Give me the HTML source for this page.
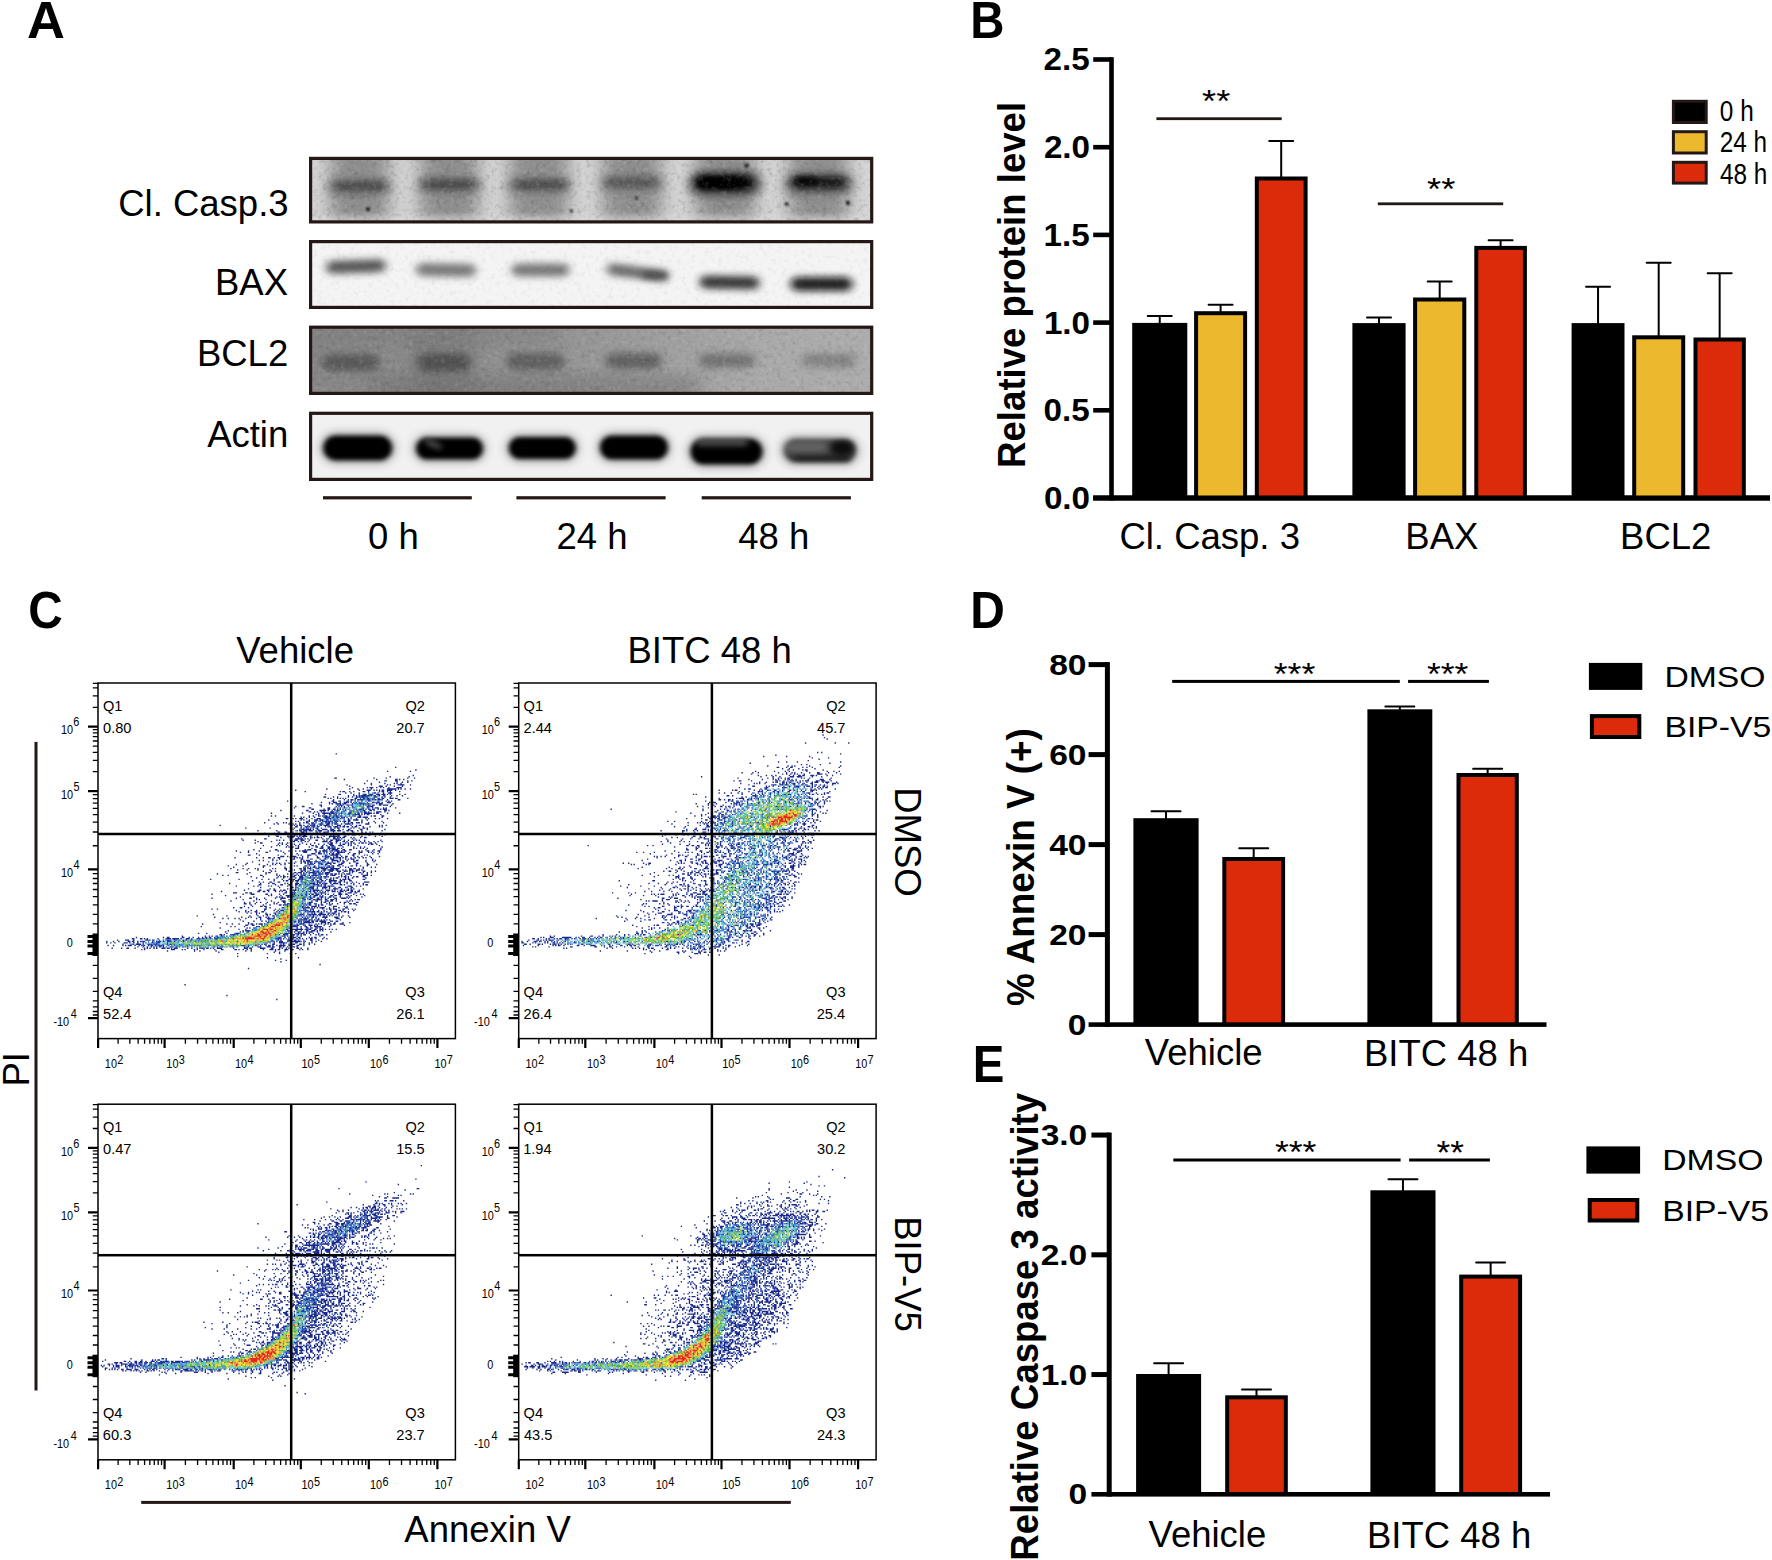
<!DOCTYPE html>
<html lang="en"><head><meta charset="utf-8"><title>Figure</title>
<style>
html,body{margin:0;padding:0;background:#fff}
svg{display:block}
text{font-family:"Liberation Sans",Arial,Helvetica,sans-serif;white-space:pre}
</style></head><body>
<svg width="1772" height="1560" viewBox="0 0 1772 1560">
<defs>
<filter id="bl3" x="-30%" y="-80%" width="160%" height="260%"><feGaussianBlur stdDeviation="3.2 2.6"/></filter>
<filter id="bl4" x="-30%" y="-80%" width="160%" height="260%"><feGaussianBlur stdDeviation="4.5 3.5"/></filter>
<filter id="bl2" x="-30%" y="-80%" width="160%" height="260%"><feGaussianBlur stdDeviation="2.6 2.2"/></filter>
<filter id="bl1" x="-50%" y="-50%" width="200%" height="200%"><feGaussianBlur stdDeviation="0.9"/></filter>
<filter id="bl8" x="-30%" y="-30%" width="160%" height="160%"><feGaussianBlur stdDeviation="9 6"/></filter>
<filter id="grain" x="0" y="0" width="100%" height="100%"><feTurbulence type="fractalNoise" baseFrequency="0.35" numOctaves="2" seed="7" result="n"/><feColorMatrix in="n" type="matrix" values="0 0 0 0 0  0 0 0 0 0  0 0 0 0 0  0.9 0.9 0 0 -0.62"/></filter>
<clipPath id="cb0"><rect x="310.5" y="158.3" width="561.3" height="63.7"/></clipPath>
<clipPath id="cb1"><rect x="310.5" y="241.5" width="561.3" height="66"/></clipPath>
<clipPath id="cb2"><rect x="310.5" y="327.1" width="561.3" height="66.4"/></clipPath>
<clipPath id="cb3"><rect x="310.5" y="413.2" width="561.3" height="66.3"/></clipPath>
<filter id="grainD" x="0" y="0" width="100%" height="100%"><feTurbulence type="fractalNoise" baseFrequency="0.22" numOctaves="3" seed="7" result="n"/><feColorMatrix in="n" type="matrix" values="0 0 0 0 0  0 0 0 0 0  0 0 0 0 0  2.2 0 0 0 -1.1"/></filter>
<filter id="grainL" x="0" y="0" width="100%" height="100%"><feTurbulence type="fractalNoise" baseFrequency="0.22" numOctaves="3" seed="23" result="n"/><feColorMatrix in="n" type="matrix" values="0 0 0 0 1  0 0 0 0 1  0 0 0 0 1  2.2 0 0 0 -1.1"/></filter>
<linearGradient id="g3" x1="0" x2="1" y1="0" y2="0"><stop offset="0" stop-color="#868686"/><stop offset="0.45" stop-color="#949494"/><stop offset="0.8" stop-color="#a9a9a9"/><stop offset="1" stop-color="#adadad"/></linearGradient>
</defs>
<rect width="1772" height="1560" fill="#fff"/>
<text transform="translate(27.09 37.9) scale(1.011 1)" font-size="51.89" font-weight="bold" fill="#000">A</text>
<text transform="translate(970.33 37.7) scale(0.921 1)" font-size="51.45" font-weight="bold" fill="#000">B</text>
<text transform="translate(28.14 628.1) scale(0.936 1)" font-size="50.99" font-weight="bold" fill="#000">C</text>
<text transform="translate(970.29 628.4) scale(0.932 1)" font-size="51.45" font-weight="bold" fill="#000">D</text>
<text transform="translate(972.63 1082.2) scale(0.927 1)" font-size="51.16" font-weight="bold" fill="#000">E</text>
<text x="118.21" y="216.2" font-size="36.5" fill="#000">Cl. Casp.3</text>
<text transform="translate(215.03 294.6) scale(1.000 1.035)" font-size="36.5" fill="#000">BAX</text>
<text transform="translate(196.93 365.8) scale(1.000 1.035)" font-size="36.5" fill="#000">BCL2</text>
<text x="207.13" y="446.7" font-size="36.5" fill="#000">Actin</text>
<text transform="translate(368.1 548.9) scale(1.000 1.035)" font-size="36.5" fill="#000">0 h</text>
<text transform="translate(556.45 548.9) scale(1.000 1.035)" font-size="36.5" fill="#000">24 h</text>
<text transform="translate(738.25 548.9) scale(1.000 1.035)" font-size="36.5" fill="#000">48 h</text>
<rect x="323" y="496.2" width="148.8" height="3.2" fill="#231815"/>
<rect x="516.4" y="496.2" width="149.2" height="3.2" fill="#231815"/>
<rect x="701.7" y="496.2" width="149.2" height="3.2" fill="#231815"/>
<g clip-path="url(#cb0)"><rect x="309" y="156.8" width="564.3" height="66.7" fill="#d4d4d4"/><rect x="330.4" y="146.8" width="58" height="80.7" fill="#858585" opacity="0.88" filter="url(#bl8)"/><rect x="420.2" y="146.8" width="58" height="80.7" fill="#858585" opacity="0.88" filter="url(#bl8)"/><rect x="509.9" y="146.8" width="58" height="80.7" fill="#858585" opacity="0.88" filter="url(#bl8)"/><rect x="603" y="146.8" width="58" height="80.7" fill="#858585" opacity="0.88" filter="url(#bl8)"/><rect x="696.2" y="146.8" width="58" height="80.7" fill="#858585" opacity="0.88" filter="url(#bl8)"/><rect x="789.3" y="146.8" width="58" height="80.7" fill="#858585" opacity="0.88" filter="url(#bl8)"/><rect x="309" y="216.5" width="564.3" height="7" fill="#dcdcdc" opacity="0.8" filter="url(#bl4)"/><rect x="687" y="170" width="76" height="28" rx="14" fill="#4a4a4a" opacity="0.6" filter="url(#bl4)"/><rect x="783" y="172" width="72" height="24" rx="12" fill="#5a5a5a" opacity="0.5" filter="url(#bl4)"/><rect x="326.4" y="177" width="66" height="20" rx="10" fill="#777" opacity="0.45" filter="url(#bl4)"/><rect x="416.2" y="175.5" width="66" height="20" rx="10" fill="#777" opacity="0.45" filter="url(#bl4)"/><rect x="505.9" y="175.5" width="66" height="20" rx="10" fill="#777" opacity="0.45" filter="url(#bl4)"/><rect x="599" y="173.5" width="66" height="20" rx="10" fill="#777" opacity="0.45" filter="url(#bl4)"/><rect x="332.4" y="181.3" width="54" height="10" rx="5" fill="#3c3c3c" opacity="0.85" filter="url(#bl4)"/><rect x="422.2" y="179.5" width="54" height="10" rx="5" fill="#3a3a3a" opacity="0.85" filter="url(#bl4)"/><rect x="513" y="180.2" width="54" height="9" rx="4.5" fill="#3a3a3a" opacity="0.85" filter="url(#bl4)"/><rect x="604.6" y="178" width="54" height="9" rx="4.5" fill="#444" opacity="0.8" filter="url(#bl4)"/><rect x="694.5" y="175.3" width="60" height="15" rx="7.5" fill="#000" opacity="1" filter="url(#bl4)"/><rect x="791" y="176.5" width="56" height="12" rx="6" fill="#0c0c0c" opacity="0.95" filter="url(#bl4)"/><rect x="698" y="176.8" width="44" height="12" rx="6" fill="#000" opacity="1" filter="url(#bl2)"/><rect x="795" y="177" width="22" height="8" rx="4" fill="#000" opacity="0.8" filter="url(#bl3)"/><circle cx="368" cy="209" r="2.1" fill="#151515" filter="url(#bl1)"/><circle cx="571.5" cy="211" r="1.6" fill="#151515" filter="url(#bl1)"/><circle cx="636.5" cy="198" r="1.5" fill="#151515" filter="url(#bl1)"/><circle cx="746.5" cy="165.5" r="2.2" fill="#151515" filter="url(#bl1)"/><circle cx="786.5" cy="203.8" r="1.9" fill="#151515" filter="url(#bl1)"/><circle cx="848" cy="202.8" r="2.2" fill="#151515" filter="url(#bl1)"/><rect x="309" y="156.8" width="564.3" height="66.7" filter="url(#grainD)" opacity="0.16"/><rect x="309" y="156.8" width="564.3" height="66.7" filter="url(#grainL)" opacity="0.16"/></g>
<g clip-path="url(#cb1)"><rect x="309" y="240" width="564.3" height="69" fill="#f4f4f4"/><rect x="326" y="260" width="60" height="13" rx="6.5" fill="#333" opacity="0.8" filter="url(#bl4)" transform="rotate(-2 356 266.5)"/><rect x="416" y="263.5" width="60" height="13" rx="6.5" fill="#444" opacity="0.7" filter="url(#bl4)" transform="rotate(1 446 270)"/><rect x="511.5" y="263.5" width="58" height="13" rx="6.5" fill="#444" opacity="0.7" filter="url(#bl4)"/><rect x="606.5" y="266.5" width="62" height="12" rx="6" fill="#3c3c3c" opacity="0.75" filter="url(#bl4)" transform="rotate(7 637.5 272.5)"/><rect x="699.5" y="276" width="60" height="13" rx="6.5" fill="#1c1c1c" opacity="0.88" filter="url(#bl4)" transform="rotate(1 729.5 282.5)"/><rect x="790.5" y="277" width="62" height="14" rx="7" fill="#111" opacity="0.92" filter="url(#bl4)"/><rect x="642" y="271" width="26" height="9" rx="4.5" fill="#333" opacity="0.5" filter="url(#bl3)"/><rect x="309" y="240" width="564.3" height="69" filter="url(#grainD)" opacity="0.06"/><rect x="309" y="240" width="564.3" height="69" filter="url(#grainL)" opacity="0.06"/></g>
<g clip-path="url(#cb2)"><rect x="309" y="325.6" width="564.3" height="69.4" fill="url(#g3)"/><rect x="412" y="319.6" width="62" height="81.4" fill="#6c6c6c" opacity="0.4" filter="url(#bl8)"/><rect x="369" y="375" width="330" height="26" fill="#6e6e6e" opacity="0.45" filter="url(#bl8)"/><rect x="309" y="321.6" width="250" height="24" fill="#7a7a7a" opacity="0.4" filter="url(#bl8)"/><rect x="322" y="354" width="58" height="17" rx="8.5" fill="#4a4a4a" opacity="0.72" filter="url(#bl4)"/><rect x="417" y="353.5" width="54" height="18" rx="9" fill="#444" opacity="0.78" filter="url(#bl4)"/><rect x="506.5" y="353" width="58" height="17" rx="8.5" fill="#4e4e4e" opacity="0.72" filter="url(#bl4)"/><rect x="605.7" y="353" width="56" height="16" rx="8" fill="#4e4e4e" opacity="0.72" filter="url(#bl4)"/><rect x="699" y="353.5" width="56" height="14" rx="7" fill="#5a5a5a" opacity="0.66" filter="url(#bl4)"/><rect x="802" y="353.5" width="54" height="14" rx="7" fill="#666" opacity="0.55" filter="url(#bl4)"/><rect x="309" y="325.6" width="564.3" height="69.4" filter="url(#grainD)" opacity="0.13"/><rect x="309" y="325.6" width="564.3" height="69.4" filter="url(#grainL)" opacity="0.13"/></g>
<g clip-path="url(#cb3)"><rect x="309" y="411.7" width="564.3" height="69.3" fill="#f1f1f1"/><rect x="319.2" y="431" width="77" height="34" rx="17" fill="#666" opacity="0.4" filter="url(#bl4)"/><rect x="412" y="433" width="75" height="31" rx="15.5" fill="#666" opacity="0.4" filter="url(#bl4)"/><rect x="504.8" y="432.5" width="75" height="31" rx="15.5" fill="#666" opacity="0.4" filter="url(#bl4)"/><rect x="596" y="431" width="76" height="33" rx="16.5" fill="#666" opacity="0.4" filter="url(#bl4)"/><rect x="686.5" y="434" width="80" height="35" rx="17.5" fill="#666" opacity="0.4" filter="url(#bl4)"/><rect x="780" y="434.5" width="80" height="32" rx="16" fill="#666" opacity="0.4" filter="url(#bl4)"/><rect x="323.2" y="435.5" width="69" height="25" rx="12.5" fill="#000" opacity="1" filter="url(#bl2)"/><rect x="416" y="437.5" width="67" height="22" rx="11" fill="#000" opacity="1" filter="url(#bl2)"/><rect x="508.8" y="437" width="67" height="22" rx="11" fill="#000" opacity="1" filter="url(#bl2)"/><rect x="600" y="435.5" width="68" height="24" rx="12" fill="#000" opacity="1" filter="url(#bl2)"/><rect x="690.5" y="438.5" width="72" height="26" rx="13" fill="#000" opacity="1" filter="url(#bl2)"/><rect x="784" y="439" width="72" height="23" rx="11.5" fill="#2e2e2e" opacity="0.92" filter="url(#bl2)"/><rect x="424" y="440.5" width="18" height="7" rx="3.5" fill="#777" opacity="0.55" filter="url(#bl3)" transform="rotate(25 433 444)"/><rect x="696" y="438.5" width="52" height="8" rx="4" fill="#8a8a8a" opacity="0.5" filter="url(#bl3)"/><rect x="783" y="441" width="46" height="12" rx="6" fill="#9a9a9a" opacity="0.45" filter="url(#bl4)"/><rect x="831" y="441" width="22" height="14" rx="7" fill="#000" opacity="0.75" filter="url(#bl3)"/><rect x="794" y="456" width="56" height="6" rx="3" fill="#000" opacity="0.5" filter="url(#bl3)"/></g>
<rect x="310.6" y="158.4" width="561.1" height="63.5" fill="none" stroke="#231815" stroke-width="3.2"/>
<rect x="310.6" y="241.6" width="561.1" height="65.8" fill="none" stroke="#231815" stroke-width="3.2"/>
<rect x="310.6" y="327.2" width="561.1" height="66.2" fill="none" stroke="#231815" stroke-width="3.2"/>
<rect x="310.6" y="413.3" width="561.1" height="66.1" fill="none" stroke="#231815" stroke-width="3.2"/>
<rect x="1109.2" y="57.2" width="4.6" height="443.3" fill="#000"/>
<rect x="1093.2" y="408" width="18.3" height="4.6" fill="#000"/>
<rect x="1093.2" y="320.3" width="18.3" height="4.6" fill="#000"/>
<rect x="1093.2" y="232.6" width="18.3" height="4.6" fill="#000"/>
<rect x="1093.2" y="144.9" width="18.3" height="4.6" fill="#000"/>
<rect x="1093.2" y="57.2" width="18.3" height="4.6" fill="#000"/>
<rect x="1093.2" y="495.5" width="676.8" height="5" fill="#000"/>
<text transform="translate(1043.89 508.99) scale(1.041 1.000)" font-size="31.92" font-weight="bold" fill="#000">0.0</text><text transform="translate(1043.45 421.29) scale(1.041 1.000)" font-size="31.92" font-weight="bold" fill="#000">0.5</text><text transform="translate(1043.89 333.59) scale(1.041 1.000)" font-size="31.92" font-weight="bold" fill="#000">1.0</text><text transform="translate(1043.45 245.89) scale(1.041 1.000)" font-size="31.92" font-weight="bold" fill="#000">1.5</text><text transform="translate(1043.89 158.19) scale(1.041 1.000)" font-size="31.92" font-weight="bold" fill="#000">2.0</text><text transform="translate(1043.45 70.49) scale(1.041 1.000)" font-size="31.92" font-weight="bold" fill="#000">2.5</text>
<text transform="translate(1024.9 467.9) rotate(-90) scale(1 1.04)" font-size="36.6" font-weight="bold" fill="#000">Relative protein level</text>
<path d="M1147.75 316.1H1171.75M1159.75 316.1V323.9" stroke="#000" stroke-width="2" stroke-linecap="round" fill="none"/>
<rect x="1132.2" y="322.9" width="55.1" height="175.1" fill="#000"/>
<path d="M1208.6 304.8H1232.6M1220.6 304.8V312.2" stroke="#000" stroke-width="2" stroke-linecap="round" fill="none"/>
<rect x="1194.1" y="311.2" width="53" height="186.8" fill="#000"/><rect x="1198.1" y="315.2" width="45" height="182.8" fill="#ecb92e"/>
<path d="M1269.2 141.1H1293.2M1281.2 141.1V177.5" stroke="#000" stroke-width="2" stroke-linecap="round" fill="none"/>
<rect x="1254.8" y="176.5" width="52.8" height="321.5" fill="#000"/><rect x="1258.8" y="180.5" width="44.8" height="317.5" fill="#dc2b0a"/>
<path d="M1367 317.6H1391M1379 317.6V324.1" stroke="#000" stroke-width="2" stroke-linecap="round" fill="none"/>
<rect x="1352.4" y="323.1" width="53.2" height="174.9" fill="#000"/>
<path d="M1427.7 281.5H1451.7M1439.7 281.5V298.5" stroke="#000" stroke-width="2" stroke-linecap="round" fill="none"/>
<rect x="1413.1" y="297.5" width="53.2" height="200.5" fill="#000"/><rect x="1417.1" y="301.5" width="45.2" height="196.5" fill="#ecb92e"/>
<path d="M1488.6 240.2H1512.6M1500.6 240.2V246.9" stroke="#000" stroke-width="2" stroke-linecap="round" fill="none"/>
<rect x="1474.3" y="245.9" width="52.6" height="252.1" fill="#000"/><rect x="1478.3" y="249.9" width="44.6" height="248.1" fill="#dc2b0a"/>
<path d="M1586.05 286.8H1610.05M1598.05 286.8V324.1" stroke="#000" stroke-width="2" stroke-linecap="round" fill="none"/>
<rect x="1571.6" y="323.1" width="52.9" height="174.9" fill="#000"/>
<path d="M1646.7 262.8H1670.7M1658.7 262.8V336.3" stroke="#000" stroke-width="2" stroke-linecap="round" fill="none"/>
<rect x="1632.2" y="335.3" width="53" height="162.7" fill="#000"/><rect x="1636.2" y="339.3" width="45" height="158.7" fill="#ecb92e"/>
<path d="M1707.65 273.2H1731.65M1719.65 273.2V338.5" stroke="#000" stroke-width="2" stroke-linecap="round" fill="none"/>
<rect x="1693.5" y="337.5" width="52.3" height="160.5" fill="#000"/><rect x="1697.5" y="341.5" width="44.3" height="156.5" fill="#dc2b0a"/>
<rect x="1093.2" y="495.5" width="676.8" height="5" fill="#000"/>
<text x="1119.41" y="548.6" font-size="36.5" fill="#000">Cl. Casp. 3</text>
<text transform="translate(1405.37 549) scale(1.000 1.035)" font-size="36.5" fill="#000">BAX</text>
<text transform="translate(1620.07 549) scale(1.000 1.035)" font-size="36.5" fill="#000">BCL2</text>
<rect x="1156.4" y="117.3" width="125.3" height="2.8" fill="#231815"/>
<text transform="translate(1202.12 111.94) scale(1.124 1)" font-size="32.19" fill="#000">**</text>
<rect x="1377.8" y="202.4" width="125.4" height="2.8" fill="#231815"/>
<text transform="translate(1427.12 200.14) scale(1.124 1)" font-size="32.19" fill="#000">**</text>
<rect x="1671.9" y="99.8" width="35.8" height="24.2" fill="#231815"/>
<rect x="1674.9" y="102.8" width="29.8" height="18.2" fill="#000"/>
<rect x="1671.9" y="130.2" width="35.8" height="24.3" fill="#231815"/>
<rect x="1674.9" y="133.2" width="29.8" height="18.3" fill="#ecb92e"/>
<rect x="1671.9" y="160.8" width="35.8" height="23.8" fill="#231815"/>
<rect x="1674.9" y="163.8" width="29.8" height="17.8" fill="#dc2b0a"/>
<text transform="translate(1719.85 120.7) scale(0.844 1.000)" font-size="28.84" fill="#000">0 h</text>
<text transform="translate(1719.67 152.1) scale(0.844 1.000)" font-size="28.84" fill="#000">24 h</text>
<text transform="translate(1719.94 183.5) scale(0.844 1.000)" font-size="28.84" fill="#000">48 h</text>
<rect x="1104.9" y="662.1" width="5" height="364.8" fill="#000"/>
<rect x="1088.6" y="932.1" width="18.8" height="5" fill="#000"/>
<rect x="1088.6" y="842.1" width="18.8" height="5" fill="#000"/>
<rect x="1088.6" y="752.1" width="18.8" height="5" fill="#000"/>
<rect x="1088.6" y="662.1" width="18.8" height="5" fill="#000"/>
<text transform="translate(1067.81 1034.91) scale(1.121 1.000)" font-size="29.94" font-weight="bold" fill="#000">0</text><text transform="translate(1049.13 944.91) scale(1.121 1.000)" font-size="29.94" font-weight="bold" fill="#000">20</text><text transform="translate(1049.13 854.91) scale(1.121 1.000)" font-size="29.94" font-weight="bold" fill="#000">40</text><text transform="translate(1049.13 764.91) scale(1.121 1.000)" font-size="29.94" font-weight="bold" fill="#000">60</text><text transform="translate(1049.13 674.91) scale(1.121 1.000)" font-size="29.94" font-weight="bold" fill="#000">80</text>
<text transform="translate(1034.3 1005.9) rotate(-90) scale(1 1.06)" font-size="36.8" font-weight="bold" fill="#000">% Annexin V (+)</text>
<path d="M1151.5 811.2H1180.5M1166 811.2V819.2" stroke="#000" stroke-width="2" stroke-linecap="round" fill="none"/>
<rect x="1133.4" y="818.2" width="65.2" height="206.4" fill="#000"/>
<path d="M1239.2 848.2H1268.2M1253.7 848.2V858" stroke="#000" stroke-width="2" stroke-linecap="round" fill="none"/>
<rect x="1222.3" y="857" width="62.8" height="167.6" fill="#000"/><rect x="1226.3" y="861" width="54.8" height="163.6" fill="#dc2b0a"/>
<path d="M1385.35 706.6H1414.35M1399.85 706.6V710.3" stroke="#000" stroke-width="2" stroke-linecap="round" fill="none"/>
<rect x="1367.4" y="709.3" width="64.9" height="315.3" fill="#000"/>
<path d="M1473.15 768.7H1502.15M1487.65 768.7V774" stroke="#000" stroke-width="2" stroke-linecap="round" fill="none"/>
<rect x="1456.5" y="773" width="62.3" height="251.6" fill="#000"/><rect x="1460.5" y="777" width="54.3" height="247.6" fill="#dc2b0a"/>
<rect x="1088.6" y="1022.3" width="457.9" height="4.6" fill="#000"/>
<text x="1144.87" y="1065.4" font-size="36.5" fill="#000">Vehicle</text>
<text transform="translate(1363.93 1065.8) scale(1.000 1.035)" font-size="36.5" fill="#000">BITC 48 h</text>
<rect x="1172.2" y="679.9" width="227.6" height="3" fill="#000"/>
<rect x="1408.1" y="679.9" width="80.8" height="3" fill="#000"/>
<text transform="translate(1273.73 684.74) scale(1.105 1)" font-size="32.19" fill="#000">***</text>
<text transform="translate(1427.03 684.64) scale(1.100 1)" font-size="32.19" fill="#000">***</text>
<rect x="1588.9" y="662.9" width="53.4" height="27" fill="#000"/>
<rect x="1589.9" y="714.1" width="51.4" height="24.9" fill="#000"/><rect x="1593.9" y="718.1" width="43.4" height="16.9" fill="#dc2b0a"/>
<text transform="translate(1664.43 686.6) scale(1.126 1.000)" font-size="29.94" fill="#000">DMSO</text>
<text transform="translate(1664.43 736.5) scale(1.126 1.000)" font-size="29.94" fill="#000">BIP-V5</text>
<rect x="1106.7" y="1132.55" width="5" height="364.05" fill="#000"/>
<rect x="1091.4" y="1372.05" width="17.8" height="5" fill="#000"/>
<rect x="1091.4" y="1252.3" width="17.8" height="5" fill="#000"/>
<rect x="1091.4" y="1132.55" width="17.8" height="5" fill="#000"/>
<text transform="translate(1068.61 1504.44) scale(1.139 1.000)" font-size="29.46" font-weight="bold" fill="#000">0</text><text transform="translate(1040.63 1384.69) scale(1.139 1.000)" font-size="29.46" font-weight="bold" fill="#000">1.0</text><text transform="translate(1040.63 1264.94) scale(1.139 1.000)" font-size="29.46" font-weight="bold" fill="#000">2.0</text><text transform="translate(1040.63 1145.19) scale(1.139 1.000)" font-size="29.46" font-weight="bold" fill="#000">3.0</text>
<text transform="translate(1037.9 1560.64) rotate(-90) scale(1 1.04)" font-size="36.6" font-weight="bold" fill="#000">Relative Caspase 3 activity</text>
<path d="M1154.1 1363.2H1183.1M1168.6 1363.2V1375" stroke="#000" stroke-width="2" stroke-linecap="round" fill="none"/>
<rect x="1136.1" y="1374" width="65" height="120.3" fill="#000"/>
<path d="M1242 1389.6H1271M1256.5 1389.6V1396.3" stroke="#000" stroke-width="2" stroke-linecap="round" fill="none"/>
<rect x="1225.2" y="1395.3" width="62.6" height="99" fill="#000"/><rect x="1229.2" y="1399.3" width="54.6" height="95" fill="#dc2b0a"/>
<path d="M1388.45 1179.3H1417.45M1402.95 1179.3V1191.3" stroke="#000" stroke-width="2" stroke-linecap="round" fill="none"/>
<rect x="1370.4" y="1190.3" width="65.1" height="304" fill="#000"/>
<path d="M1476.15 1262.6H1505.15M1490.65 1262.6V1275.6" stroke="#000" stroke-width="2" stroke-linecap="round" fill="none"/>
<rect x="1459.2" y="1274.6" width="62.9" height="219.7" fill="#000"/><rect x="1463.2" y="1278.6" width="54.9" height="215.7" fill="#dc2b0a"/>
<rect x="1091.4" y="1492" width="458.6" height="4.6" fill="#000"/>
<text x="1148.57" y="1547.2" font-size="36.5" fill="#000">Vehicle</text>
<text transform="translate(1367.03 1547.5) scale(1.000 1.035)" font-size="36.5" fill="#000">BITC 48 h</text>
<rect x="1173.3" y="1158.5" width="227.3" height="3" fill="#000"/>
<rect x="1409.1" y="1158.5" width="80.8" height="3" fill="#000"/>
<text transform="translate(1274.93 1163.16) scale(1.135 1)" font-size="31.33" fill="#000">***</text>
<text transform="translate(1436.43 1163.74) scale(1.089 1)" font-size="32.47" fill="#000">**</text>
<rect x="1586.4" y="1146.4" width="53.7" height="27.2" fill="#000"/>
<rect x="1587.7" y="1198" width="51.6" height="24.5" fill="#000"/><rect x="1591.7" y="1202" width="43.6" height="16.5" fill="#dc2b0a"/>
<text transform="translate(1662.23 1169.8) scale(1.126 1.000)" font-size="29.94" fill="#000">DMSO</text>
<text transform="translate(1662.23 1220.5) scale(1.126 1.000)" font-size="29.94" fill="#000">BIP-V5</text>
<text x="236.27" y="662.5" font-size="36.5" fill="#000">Vehicle</text>
<text transform="translate(627.53 662.5) scale(1.000 1.035)" font-size="36.5" fill="#000">BITC 48 h</text>
<text x="404.35" y="1541.5" font-size="36.5" fill="#000">Annexin V</text>
<rect x="141.2" y="1500.9" width="649.6" height="3" fill="#231815"/>
<rect x="34.5" y="741.9" width="3" height="648.6" fill="#231815"/>
<text transform="translate(28.5 1086.56) rotate(-90) scale(1 1.03)" font-size="36.5" fill="#000">PI</text>
<text transform="translate(894.9 787.23) rotate(90) scale(1 1.035)" font-size="36.5" fill="#000">DMSO</text>
<text transform="translate(895.1 1216.25) rotate(90) scale(1 1.035)" font-size="36.5" fill="#000">BIP-V5</text>
<g transform="translate(98 683.67) scale(1.35)" fill="none" stroke-width="1.04"><path stroke="#18298a" d="M0 0m176 52h1m43 10h1m14 2h1m-22 1h1m16 0h1m1 3h1m-18 1h1m13 0h1m-56 1h2m27 0h1m8 0h1m15 0h1m4 0h1m-53 1h1m23 0h1m13 0h2m1 0h1m2 0h1m-28 1h1m12 0h2m6 0h2m7 0h1m2 0h1m-25 1h1m12 0h1m3 0h1m3 0h1m-33 1h1m4 0h1m9 0h1m6 0h1m1 0h1m2 0h1m-41 1h1m17 0h1m11 0h1m1 0h1m5 0h5m4 0h1m-46 1h1m21 0h3m2 0h1m5 0h1m5 0h1m-38 1h1m10 0h1m1 0h3m2 0h1m2 0h1m1 0h1m3 0h1m5 0h4m-56 1h1m16 0h1m5 0h1m3 0h1m5 0h1m11 0h7m1 0h1m1 0h1m2 0h1m3 0h1m-86 1h1m46 0h1m5 0h3m2 0h1m1 0h1m1 0h1m1 0h2m2 0h4m2 0h1m-68 1h1m25 0h1m1 0h2m3 0h1m2 0h1m6 0h2m2 0h1m7 0h1m1 0h2m2 0h1m1 0h1m6 0h1m-41 1h1m3 0h1m5 0h1m10 0h2m5 0h1m3 0h3m-50 1h1m9 0h2m9 0h1m3 0h1m3 0h2m2 0h2m3 0h3m1 0h3m1 0h1m1 0h1m6 0h1m3 0h1m-43 1h1m3 0h1m1 0h1m1 0h1m1 0h4m1 0h2m6 0h1m3 0h1m4 0h1m3 0h1m3 0h1m-59 1h2m5 0h1m2 0h1m7 0h1m2 0h1m2 0h1m1 0h4m1 0h2m4 0h1m1 0h1m3 0h1m1 0h1m3 0h1m-47 1h1m1 0h1m4 0h1m1 0h1m1 0h1m1 0h1m6 0h2m4 0h2m2 0h1m3 0h1m5 0h2m4 0h3m1 0h2m7 0h1m-56 1h1m7 0h1m2 0h1m1 0h2m1 0h1m1 0h2m9 0h1m1 0h1m1 0h2m1 0h1m3 0h1m7 0h2m-84 1h1m32 0h2m3 0h2m4 0h1m2 0h1m10 0h1m14 0h1m1 0h1m1 0h1m-53 1h1m5 0h1m2 0h3m5 0h3m2 0h1m5 0h1m1 0h1m7 0h2m5 0h1m3 0h3m-59 1h1m12 0h1m1 0h1m2 0h1m1 0h2m2 0h2m6 0h1m5 0h2m2 0h1m5 0h1m1 0h3m7 0h1m-55 1h2m13 0h2m3 0h2m1 0h1m8 0h1m6 0h2m3 0h2m1 0h4m2 0h1m-72 1h1m4 0h2m12 0h1m10 0h1m1 0h1m1 0h1m1 0h1m5 0h1m10 0h1m1 0h3m12 0h1m-72 1h1m10 0h2m12 0h2m10 0h1m3 0h1m13 0h1m2 0h1m1 0h3m3 0h1m1 0h1m6 0h1m-63 1h2m7 0h1m2 0h2m2 0h2m1 0h1m16 0h2m11 0h1m1 0h1m1 0h3m-79 1h1m18 0h2m8 0h5m1 0h1m2 0h1m9 0h1m3 0h1m8 0h2m3 0h2m1 0h1m7 0h2m1 0h1m-60 1h2m2 0h1m1 0h1m2 0h1m1 0h1m4 0h2m2 0h2m3 0h1m7 0h1m5 0h1m1 0h2m1 0h1m5 0h4m2 0h1m-85 1h1m22 0h1m7 0h1m3 0h1m2 0h5m1 0h2m1 0h1m14 0h1m6 0h6m1 0h1m1 0h2m6 0h1m8 0h1m-63 1h1m1 0h1m3 0h1m3 0h1m3 0h1m10 0h1m2 0h1m2 0h2m1 0h1m1 0h1m1 0h2m8 0h1m-82 1h1m2 0h1m13 0h1m10 0h1m2 0h1m3 0h1m2 0h1m1 0h2m2 0h1m2 0h1m1 0h1m2 0h1m9 0h1m2 0h2m7 0h1m1 0h2m4 0h2m-62 1h1m1 0h1m3 0h1m3 0h1m7 0h3m11 0h1m1 0h1m2 0h1m4 0h3m2 0h3m10 0h1m-72 1h2m3 0h1m1 0h1m2 0h3m2 0h1m3 0h1m3 0h3m4 0h1m1 0h2m12 0h1m1 0h1m3 0h1m6 0h1m1 0h1m4 0h1m2 0h1m5 0h1m-89 1h1m23 0h1m1 0h1m3 0h1m3 0h3m1 0h3m2 0h2m5 0h1m8 0h2m2 0h4m2 0h1m3 0h1m-54 1h1m1 0h1m5 0h1m1 0h1m4 0h1m2 0h1m1 0h1m1 0h2m3 0h1m3 0h1m1 0h1m2 0h2m1 0h2m8 0h1m8 0h1m5 0h1m-88 1h1m8 0h1m4 0h1m1 0h1m2 0h1m6 0h1m2 0h1m1 0h2m2 0h1m11 0h2m1 0h1m1 0h1m6 0h1m2 0h1m1 0h2m3 0h2m1 0h1m4 0h1m4 0h1m5 0h1m-82 1h1m2 0h1m7 0h1m2 0h1m1 0h1m2 0h1m6 0h1m1 0h3m3 0h3m2 0h3m1 0h1m1 0h2m3 0h1m2 0h4m1 0h1m9 0h3m-111 1h1m51 0h2m1 0h1m1 0h1m1 0h2m1 0h1m4 0h1m2 0h1m3 0h1m2 0h4m6 0h3m2 0h1m4 0h1m3 0h1m1 0h2m13 0h1m1 0h1m2 0h1m-68 1h2m2 0h1m5 0h1m1 0h1m9 0h1m1 0h1m1 0h1m2 0h3m1 0h1m1 0h2m1 0h2m2 0h1m1 0h2m4 0h1m4 0h1m6 0h1m1 0h1m-102 1h1m17 0h1m14 0h2m1 0h1m4 0h1m1 0h1m2 0h1m1 0h1m3 0h2m2 0h1m6 0h1m2 0h1m1 0h2m8 0h1m1 0h1m3 0h1m2 0h2m1 0h1m-56 1h1m4 0h1m1 0h2m1 0h4m1 0h1m2 0h1m3 0h4m2 0h3m3 0h1m2 0h1m3 0h2m7 0h2m3 0h1m12 0h1m-95 1h1m13 0h1m14 0h1m1 0h2m1 0h3m1 0h3m4 0h3m4 0h1m1 0h4m1 0h3m4 0h2m1 0h2m3 0h1m2 0h1m14 0h1m-78 1h2m3 0h2m4 0h1m5 0h3m1 0h1m7 0h1m1 0h1m2 0h4m3 0h1m6 0h2m5 0h2m5 0h1m2 0h1m2 0h1m1 0h1m-81 1h1m6 0h1m8 0h3m4 0h2m3 0h4m1 0h2m1 0h1m3 0h1m2 0h2m8 0h1m18 0h2m1 0h1m10 0h1m-79 1h1m13 0h2m2 0h2m1 0h2m4 0h1m6 0h2m2 0h1m4 0h1m2 0h2m6 0h1m2 0h3m2 0h1m6 0h2m6 0h1m3 0h1m-87 1h1m5 0h2m6 0h2m1 0h3m1 0h1m1 0h1m1 0h4m2 0h1m4 0h1m4 0h1m3 0h6m1 0h1m3 0h2m11 0h1m9 0h1m4 0h1m-76 1h1m5 0h1m1 0h2m3 0h1m1 0h1m7 0h1m1 0h1m1 0h2m1 0h1m5 0h1m2 0h2m1 0h1m1 0h1m1 0h2m4 0h1m1 0h1m4 0h1m2 0h2m-93 1h1m16 0h2m17 0h1m3 0h6m1 0h1m1 0h1m1 0h1m8 0h1m3 0h1m3 0h3m1 0h1m1 0h1m7 0h1m1 0h1m-84 1h1m8 0h1m15 0h1m1 0h1m2 0h1m4 0h2m2 0h2m2 0h3m3 0h1m4 0h2m4 0h1m1 0h1m2 0h2m2 0h3m3 0h1m2 0h1m3 0h1m1 0h1m1 0h1m3 0h1m11 0h1m-92 1h1m9 0h1m15 0h2m2 0h1m1 0h1m2 0h1m1 0h1m10 0h4m1 0h2m3 0h2m3 0h2m1 0h1m2 0h2m5 0h1m2 0h1m2 0h1m3 0h1m2 0h1m2 0h1m-95 1h1m3 0h2m12 0h1m1 0h1m3 0h1m1 0h1m8 0h1m8 0h1m9 0h1m1 0h2m2 0h1m2 0h1m3 0h1m1 0h1m1 0h1m1 0h1m3 0h1m1 0h2m1 0h1m2 0h2m2 0h1m-73 1h1m2 0h1m2 0h1m3 0h1m1 0h1m3 0h1m4 0h1m2 0h1m5 0h1m3 0h1m3 0h3m7 0h2m2 0h1m1 0h1m2 0h1m9 0h1m1 0h2m2 0h1m-85 1h1m9 0h1m1 0h1m5 0h1m2 0h1m2 0h1m1 0h1m9 0h2m1 0h1m4 0h1m2 0h1m2 0h3m3 0h3m4 0h1m1 0h1m4 0h1m15 0h1m-81 1h1m10 0h1m1 0h1m1 0h2m3 0h1m7 0h1m4 0h2m2 0h2m3 0h2m1 0h1m1 0h1m5 0h1m7 0h1m4 0h1m2 0h1m12 0h1m-91 1h1m22 0h1m2 0h3m9 0h1m5 0h3m3 0h2m1 0h3m1 0h2m1 0h1m8 0h1m1 0h1m2 0h1m1 0h1m2 0h1m9 0h1m-95 1h1m15 0h2m10 0h1m9 0h1m1 0h3m2 0h2m5 0h1m3 0h1m1 0h5m3 0h2m3 0h2m10 0h1m5 0h1m4 0h1m-108 1h1m8 0h1m7 0h1m7 0h1m5 0h1m1 0h1m5 0h1m1 0h1m2 0h1m2 0h1m1 0h4m6 0h1m2 0h1m1 0h4m3 0h1m2 0h3m1 0h1m1 0h2m9 0h1m1 0h1m3 0h2m2 0h1m3 0h2m-104 1h1m5 0h1m12 0h2m11 0h1m5 0h1m8 0h3m6 0h1m1 0h2m2 0h1m1 0h1m2 0h1m4 0h5m4 0h1m6 0h3m4 0h1m1 0h1m1 0h1m3 0h1m-92 1h1m20 0h1m4 0h1m3 0h1m10 0h3m2 0h2m6 0h1m1 0h2m1 0h3m6 0h1m3 0h2m2 0h1m9 0h1m3 0h1m-97 1h2m6 0h1m13 0h1m9 0h1m4 0h1m1 0h1m4 0h3m3 0h1m6 0h2m2 0h6m1 0h1m8 0h2m7 0h1m1 0h1m-65 1h3m2 0h1m1 0h5m4 0h1m3 0h1m6 0h1m3 0h1m1 0h1m7 0h2m2 0h1m2 0h2m4 0h1m2 0h1m2 0h1m5 0h1m6 0h1m-108 1h1m15 0h1m4 0h1m3 0h2m2 0h1m2 0h2m7 0h1m2 0h1m1 0h1m1 0h1m1 0h1m3 0h1m6 0h2m5 0h1m2 0h1m1 0h1m1 0h1m1 0h2m1 0h1m1 0h1m3 0h1m2 0h1m2 0h1m2 0h1m1 0h1m3 0h1m-74 1h1m4 0h1m9 0h2m4 0h2m6 0h1m5 0h1m7 0h3m4 0h1m3 0h1m1 0h1m1 0h3m13 0h1m-85 1h1m2 0h1m6 0h1m2 0h1m6 0h1m10 0h1m1 0h1m1 0h3m4 0h1m3 0h3m5 0h5m1 0h1m1 0h1m2 0h1m4 0h1m1 0h2m5 0h1m4 0h1m1 0h1m-92 1h1m11 0h1m19 0h1m3 0h1m1 0h2m1 0h4m2 0h2m7 0h1m2 0h1m3 0h2m2 0h2m6 0h2m7 0h1m5 0h1m-95 1h1m18 0h1m2 0h1m1 0h1m3 0h1m2 0h1m3 0h1m4 0h1m2 0h1m1 0h1m1 0h1m2 0h1m2 0h2m4 0h4m1 0h2m4 0h2m4 0h1m4 0h2m6 0h1m-98 1h1m6 0h1m9 0h1m5 0h1m3 0h1m1 0h1m3 0h1m2 0h1m17 0h1m1 0h1m6 0h1m2 0h2m2 0h1m5 0h3m10 0h1m7 0h2m5 0h1m-111 1h1m10 0h1m14 0h2m3 0h1m17 0h1m1 0h1m5 0h1m6 0h1m2 0h1m6 0h1m2 0h2m2 0h2m2 0h1m5 0h2m2 0h1m2 0h1m4 0h1m-100 1h1m21 0h1m15 0h1m3 0h1m9 0h1m2 0h1m1 0h1m1 0h2m4 0h1m1 0h1m4 0h1m1 0h1m4 0h1m3 0h1m1 0h1m10 0h1m5 0h1m2 0h1m-108 1h1m8 0h1m3 0h1m4 0h1m1 0h1m10 0h1m1 0h1m6 0h2m2 0h1m6 0h2m1 0h2m2 0h2m3 0h1m1 0h1m1 0h5m2 0h7m7 0h2m1 0h2m2 0h1m2 0h1m-94 1h1m6 0h1m7 0h1m8 0h1m11 0h1m3 0h1m1 0h1m4 0h1m1 0h2m5 0h1m7 0h2m2 0h4m1 0h2m3 0h1m1 0h1m2 0h3m2 0h3m1 0h1m-74 1h1m5 0h1m2 0h1m9 0h2m7 0h2m1 0h1m5 0h2m1 0h1m2 0h1m1 0h1m4 0h2m3 0h3m2 0h1m1 0h1m1 0h1m1 0h2m1 0h1m4 0h2m4 0h1m2 0h1m-104 1h2m8 0h1m11 0h1m1 0h2m17 0h2m1 0h3m1 0h1m1 0h1m2 0h3m1 0h1m2 0h1m1 0h1m1 0h4m6 0h1m2 0h1m4 0h1m1 0h1m4 0h2m1 0h1m2 0h1m2 0h1m-115 1h1m21 0h1m13 0h1m7 0h1m7 0h1m3 0h1m2 0h1m2 0h1m1 0h1m6 0h3m1 0h2m3 0h3m1 0h2m1 0h2m1 0h1m3 0h1m1 0h3m8 0h1m3 0h1m-108 1h1m3 0h1m23 0h2m10 0h1m1 0h1m2 0h1m5 0h1m1 0h2m1 0h1m1 0h1m1 0h2m2 0h1m7 0h1m4 0h1m3 0h3m4 0h1m2 0h1m3 0h1m8 0h4m2 0h1m-90 1h1m8 0h1m10 0h1m1 0h1m1 0h2m1 0h1m3 0h2m3 0h3m5 0h1m7 0h1m1 0h2m1 0h1m7 0h1m1 0h1m1 0h2m1 0h1m3 0h1m1 0h2m3 0h2m-81 1h1m14 0h1m4 0h1m4 0h1m3 0h1m2 0h3m4 0h2m1 0h2m3 0h1m7 0h1m1 0h1m1 0h2m5 0h1m1 0h1m2 0h1m9 0h1m-116 1h1m20 0h1m16 0h1m4 0h1m3 0h1m5 0h1m4 0h2m1 0h2m2 0h2m1 0h1m9 0h1m2 0h2m3 0h1m1 0h2m1 0h1m4 0h1m1 0h3m1 0h2m9 0h2m-84 1h1m15 0h1m6 0h1m1 0h2m3 0h1m1 0h3m6 0h1m3 0h1m2 0h1m2 0h2m1 0h1m2 0h6m2 0h2m1 0h1m3 0h2m-69 1h1m2 0h1m4 0h2m4 0h2m8 0h1m3 0h1m3 0h1m4 0h1m5 0h3m6 0h2m2 0h1m2 0h2m2 0h1m1 0h1m3 0h1m2 0h1m5 0h4m-104 1h1m13 0h1m8 0h1m5 0h1m2 0h2m7 0h1m1 0h1m5 0h3m4 0h1m3 0h4m1 0h1m1 0h1m1 0h1m1 0h2m2 0h1m1 0h4m1 0h1m4 0h1m2 0h1m1 0h1m3 0h1m2 0h1m-78 1h2m10 0h1m3 0h2m4 0h2m3 0h2m7 0h1m4 0h1m7 0h1m4 0h1m5 0h2m1 0h1m6 0h1m6 0h1m1 0h2m-98 1h1m12 0h1m2 0h1m7 0h1m1 0h1m4 0h1m6 0h1m1 0h1m3 0h1m7 0h1m4 0h1m2 0h1m1 0h1m2 0h2m1 0h2m2 0h1m10 0h3m3 0h1m2 0h1m-75 1h1m13 0h1m8 0h2m2 0h1m9 0h3m6 0h4m1 0h1m3 0h1m2 0h2m4 0h1m2 0h2m-78 1h1m15 0h1m2 0h1m9 0h1m1 0h1m3 0h1m1 0h1m6 0h2m1 0h2m6 0h1m1 0h1m2 0h1m2 0h4m2 0h1m4 0h1m1 0h1m1 0h1m6 0h1m-89 1h1m10 0h2m4 0h2m3 0h2m3 0h1m1 0h2m3 0h1m1 0h3m5 0h1m6 0h5m5 0h2m2 0h1m1 0h1m3 0h2m1 0h1m1 0h2m1 0h2m4 0h1m-103 1h1m26 0h2m2 0h2m2 0h1m4 0h1m2 0h1m1 0h1m2 0h1m2 0h1m17 0h1m3 0h1m3 0h1m4 0h3m1 0h1m1 0h3m1 0h1m3 0h2m1 0h1m1 0h2m-94 1h3m6 0h2m1 0h2m24 0h2m2 0h2m13 0h1m2 0h2m3 0h2m11 0h2m5 0h3m2 0h2m-108 1h1m22 0h1m5 0h3m8 0h2m2 0h1m5 0h1m2 0h1m4 0h3m11 0h1m1 0h2m1 0h3m1 0h1m2 0h1m1 0h1m3 0h1m3 0h3m2 0h2m4 0h1m4 0h1m1 0h1m-103 1h1m31 0h1m1 0h1m6 0h1m3 0h5m16 0h3m3 0h1m5 0h2m1 0h2m2 0h1m5 0h1m1 0h1m3 0h1m5 0h1m-93 1h1m9 0h1m16 0h1m1 0h1m1 0h1m3 0h2m14 0h1m2 0h2m4 0h2m4 0h2m1 0h1m4 0h1m4 0h1m1 0h1m8 0h1m-112 1h1m17 0h1m9 0h2m3 0h1m5 0h1m7 0h1m3 0h4m23 0h2m1 0h1m2 0h1m1 0h1m4 0h2m3 0h4m1 0h1m-79 1h1m9 0h1m1 0h1m4 0h1m10 0h1m6 0h1m9 0h2m2 0h1m3 0h1m1 0h3m3 0h2m2 0h3m1 0h1m10 0h1m2 0h1m1 0h2m-96 1h1m16 0h1m12 0h1m7 0h3m19 0h1m2 0h2m2 0h1m6 0h2m2 0h1m7 0h1m1 0h1m1 0h1m-81 1h1m3 0h1m4 0h1m2 0h1m4 0h1m4 0h1m2 0h1m3 0h2m17 0h3m6 0h1m1 0h1m3 0h1m7 0h1m2 0h2m1 0h1m5 0h2m-85 1h2m2 0h1m3 0h1m7 0h1m5 0h1m1 0h1m23 0h2m3 0h1m3 0h1m5 0h1m1 0h1m3 0h1m4 0h1m3 0h2m1 0h2m-78 1h1m8 0h1m4 0h1m6 0h2m1 0h1m18 0h2m3 0h1m1 0h1m1 0h2m5 0h1m18 0h1m-84 1h1m5 0h1m5 0h2m1 0h2m26 0h1m6 0h4m1 0h1m4 0h1m5 0h3m5 0h1m1 0h1m-85 1h1m4 0h2m4 0h1m12 0h1m2 0h1m24 0h1m1 0h3m1 0h1m1 0h1m1 0h1m1 0h4m3 0h1m2 0h1m3 0h1m4 0h2m-101 1h1m3 0h1m34 0h2m6 0h1m20 0h1m5 0h2m6 0h1m2 0h1m1 0h2m1 0h3m4 0h2m2 0h1m2 0h1m1 0h1m-89 1h1m6 0h1m3 0h1m3 0h1m5 0h1m6 0h1m2 0h1m1 0h2m13 0h1m1 0h1m2 0h1m1 0h1m1 0h1m3 0h1m3 0h1m4 0h1m3 0h1m1 0h2m1 0h1m7 0h1m-86 1h1m4 0h1m1 0h1m4 0h2m3 0h2m9 0h1m23 0h1m1 0h3m1 0h2m1 0h1m1 0h1m1 0h1m2 0h1m2 0h2m3 0h1m1 0h2m1 0h1m-76 1h1m2 0h1m3 0h1m1 0h1m4 0h1m5 0h2m2 0h1m20 0h1m2 0h1m1 0h1m3 0h2m4 0h2m1 0h3m2 0h1m6 0h1m-101 1h1m31 0h1m6 0h2m1 0h1m3 0h1m19 0h1m4 0h1m1 0h4m1 0h6m1 0h1m1 0h1m1 0h1m1 0h1m1 0h1m-106 1h1m21 0h1m16 0h1m5 0h1m3 0h1m2 0h1m3 0h2m1 0h1m16 0h1m2 0h1m1 0h1m4 0h1m2 0h1m1 0h1m2 0h1m1 0h1m1 0h1m6 0h1m2 0h1m3 0h1m-100 1h1m19 0h1m4 0h1m1 0h1m5 0h2m3 0h1m1 0h1m24 0h1m3 0h1m2 0h2m1 0h1m4 0h4m5 0h3m2 0h1m5 0h1m-95 1h1m3 0h1m4 0h1m2 0h1m4 0h1m7 0h1m2 0h1m4 0h3m19 0h1m7 0h1m2 0h1m2 0h1m1 0h1m4 0h1m7 0h3m-74 1h1m14 0h1m5 0h1m2 0h1m21 0h1m4 0h1m1 0h1m1 0h1m1 0h2m1 0h1m1 0h1m1 0h1m1 0h1m7 0h1m-73 1h1m7 0h1m5 0h1m2 0h1m21 0h1m2 0h1m3 0h4m1 0h2m1 0h2m1 0h5m3 0h1m3 0h2m-88 1h1m20 0h1m13 0h1m24 0h1m1 0h6m7 0h4m1 0h2m3 0h1m5 0h1m4 0h1m-110 1h1m17 0h1m3 0h1m4 0h1m6 0h1m1 0h2m2 0h1m1 0h3m1 0h1m25 0h2m1 0h1m8 0h1m3 0h1m2 0h1m1 0h1m1 0h1m1 0h2m3 0h3m-73 1h2m3 0h2m5 0h1m23 0h1m1 0h2m3 0h1m3 0h3m1 0h1m1 0h1m4 0h1m4 0h1m9 0h1m-107 1h1m21 0h1m2 0h1m6 0h1m8 0h1m26 0h4m5 0h2m2 0h1m2 0h6m5 0h1m-82 1h1m19 0h1m1 0h1m2 0h1m31 0h1m2 0h1m3 0h2m2 0h1m2 0h1m2 0h1m1 0h1m-63 1h1m4 0h1m34 0h8m1 0h1m2 0h2m2 0h2m2 0h3m1 0h1m2 0h1m1 0h1m2 0h1m-81 1h1m10 0h1m1 0h2m35 0h2m2 0h1m3 0h2m2 0h3m1 0h1m1 0h1m1 0h1m-73 1h1m10 0h1m1 0h1m35 0h1m1 0h1m2 0h2m2 0h1m1 0h1m2 0h2m3 0h1m9 0h1m-99 1h1m5 0h1m14 0h1m6 0h3m33 0h2m1 0h1m4 0h1m1 0h1m1 0h3m1 0h1m4 0h1m3 0h1m-74 1h2m1 0h1m4 0h1m38 0h2m5 0h2m2 0h1m1 0h1m1 0h2m3 0h1m3 0h1m1 0h1m1 0h2m2 0h1m-108 1h1m16 0h1m2 0h1m1 0h1m2 0h2m2 0h2m2 0h1m40 0h1m1 0h1m1 0h1m1 0h1m1 0h1m2 0h1m2 0h1m13 0h1m-137 1h1m19 0h1m2 0h2m9 0h2m3 0h1m2 0h1m3 0h1m2 0h1m2 0h1m5 0h1m46 0h1m4 0h1m5 0h3m1 0h2m6 0h1m1 0h1m1 0h2m5 0h1m-143 1h2m4 0h2m1 0h1m1 0h1m7 0h1m6 0h3m1 0h5m1 0h1m3 0h3m5 0h1m61 0h1m1 0h1m3 0h1m1 0h2m2 0h1m1 0h1m1 0h1m2 0h1m2 0h2m2 0h1m4 0h1m2 0h1m-156 1h1m5 0h3m3 0h1m8 0h2m1 0h1m1 0h2m3 0h1m2 0h1m1 0h1m5 0h1m6 0h1m1 0h1m13 0h1m48 0h1m3 0h1m2 0h1m4 0h4m1 0h2m1 0h1m3 0h1m4 0h2m4 0h1m-158 1h1m4 0h1m3 0h1m6 0h2m1 0h2m2 0h1m1 0h1m11 0h1m19 0h1m62 0h1m3 0h1m3 0h3m4 0h1m1 0h7m3 0h1m4 0h1m2 0h1m3 0h1m-160 1h1m2 0h1m2 0h1m6 0h3m1 0h1m2 0h1m2 0h1m5 0h1m88 0h1m2 0h1m2 0h1m3 0h5m3 0h1m3 0h2m4 0h1m3 0h1m1 0h1m-141 1h1m9 0h4m7 0h1m1 0h1m2 0h1m78 0h1m5 0h2m6 0h1m3 0h1m2 0h2m3 0h2m1 0h1m3 0h1m3 0h1m-154 1h1m3 0h1m6 0h1m1 0h1m1 0h3m2 0h1m2 0h1m1 0h1m1 0h1m2 0h1m1 0h2m1 0h1m1 0h1m3 0h1m9 0h1m65 0h1m1 0h2m1 0h1m2 0h1m1 0h5m2 0h3m3 0h2m3 0h1m-124 1h1m3 0h1m2 0h1m2 0h1m1 0h1m1 0h1m4 0h1m4 0h1m4 0h1m1 0h1m18 0h1m6 0h1m1 0h1m19 0h1m1 0h1m3 0h1m3 0h3m4 0h3m1 0h2m3 0h2m1 0h1m2 0h1m1 0h1m1 0h2m1 0h1m-138 1h1m6 0h1m3 0h2m4 0h1m6 0h1m1 0h1m1 0h1m2 0h1m1 0h1m3 0h3m1 0h2m1 0h1m1 0h3m7 0h1m2 0h1m3 0h1m1 0h1m1 0h1m2 0h2m3 0h1m2 0h4m8 0h1m7 0h3m1 0h2m6 0h4m4 0h2m4 0h1m1 0h1m2 0h1m1 0h1m5 0h2m1 0h1m4 0h1m-124 1h1m1 0h1m19 0h3m5 0h1m1 0h1m6 0h1m1 0h1m4 0h1m7 0h1m4 0h2m8 0h2m1 0h1m2 0h1m2 0h1m2 0h1m8 0h1m4 0h3m1 0h1m1 0h2m3 0h3m2 0h2m4 0h1m1 0h1m3 0h1m-105 1h1m19 0h1m3 0h1m11 0h1m21 0h1m3 0h1m17 0h1m6 0h1m-50 1h1m40 0h1m3 0h1m-32 1h1m21 0h1m8 0h1m7 0h1m3 0h1m-44 2h1m21 1h1m22 0h1m-14 1h1m-5 1h1m7 0h1m-5 1h1m28 2h1m-54 3h1m-48 12h1m30 8h1m36 3h1"/><path stroke="#1f3fa8" d="M0 0m200 81h1m6 0h1m-12 1h1m6 0h1m-5 1h1m2 0h1m1 0h2m1 0h1m3 0h1m-20 1h1m4 0h1m7 0h1m-12 1h1m4 0h1m1 0h1m1 0h1m3 0h2m-15 1h3m2 0h3m2 0h1m4 0h1m-25 1h1m4 0h1m1 0h1m2 0h1m4 0h2m5 0h1m-29 1h1m5 0h1m3 0h1m1 0h1m7 0h1m6 0h3m-32 1h1m3 0h1m6 0h1m4 0h3m2 0h1m-22 1h2m2 0h1m6 0h1m3 0h1m1 0h1m3 0h1m1 0h2m-17 1h1m14 0h1m-26 1h1m1 0h1m1 0h1m8 0h3m4 0h2m2 0h1m-21 1h1m1 0h1m1 0h1m7 0h1m1 0h1m2 0h1m1 0h1m1 0h2m1 0h2m-30 1h1m1 0h2m10 0h1m2 0h1m-19 1h1m5 0h1m1 0h1m3 0h2m4 0h1m1 0h1m-24 1h1m2 0h1m1 0h1m1 0h1m1 0h1m4 0h3m4 0h2m1 0h1m-24 1h1m3 0h1m1 0h1m11 0h2m-28 1h1m2 0h1m3 0h1m2 0h1m1 0h1m2 0h1m3 0h1m2 0h1m2 0h1m-23 1h1m3 0h1m1 0h2m1 0h3m1 0h2m14 0h1m-29 1h1m1 0h1m4 0h1m1 0h1m1 0h1m1 0h1m-10 1h1m1 0h2m2 0h1m3 0h1m-28 1h1m4 0h1m6 0h1m2 0h3m2 0h2m4 0h1m-23 1h1m1 0h1m3 0h1m2 0h2m6 0h1m14 0h1m-15 1h1m-23 1h1m2 0h2m2 0h1m2 0h1m-13 1h3m3 0h2m1 0h2m7 0h1m-18 1h1m4 0h1m-10 1h1m2 0h1m9 0h1m-3 1h1m-1 1h1m-13 1h1m12 0h1m9 1h1m4 1h1m-26 1h1m4 0h1m20 0h1m-10 1h1m7 0h1m-33 1h1m33 0h1m-1 3h1m-6 2h1m-3 1h1m-4 1h1m2 1h1m2 0h1m-2 1h1m7 0h1m-18 1h1m1 0h1m1 2h3m2 0h1m-7 1h1m1 0h1m4 0h1m1 0h1m-21 1h1m9 0h2m-9 2h1m2 0h2m1 0h3m-11 1h1m6 0h1m-11 1h1m1 0h1m1 0h1m6 0h1m-13 1h1m1 0h1m11 0h1m2 0h1m-19 1h1m7 0h1m1 0h2m1 0h1m2 0h3m1 0h1m-19 1h1m6 0h1m-6 1h1m8 0h1m3 0h1m-16 1h1m5 0h1m1 0h1m7 0h1m11 0h1m-28 1h1m3 0h1m2 0h1m-11 1h1m2 0h1m8 0h2m13 0h1m-30 1h1m6 0h5m9 0h1m-12 1h1m2 0h1m4 0h1m-18 1h1m2 0h1m6 0h2m1 0h1m2 0h1m-19 1h1m2 0h1m4 0h2m-10 1h1m7 0h1m4 0h1m-14 1h1m1 0h3m3 0h1m1 0h1m4 0h1m1 0h1m-1 1h1m-19 1h2m2 0h1m2 0h1m2 0h1m1 0h3m1 0h1m1 0h1m-19 1h1m2 0h1m2 0h1m1 0h2m4 0h1m1 0h1m6 0h2m-28 1h1m6 0h1m2 0h1m5 0h1m20 0h1m-33 1h2m4 0h1m4 0h1m-15 1h1m8 0h1m7 0h1m5 0h1m-29 1h1m1 0h1m5 0h1m2 0h1m1 0h2m1 0h1m2 0h1m3 0h1m3 0h1m-27 1h3m7 0h1m9 0h1m2 0h2m-24 1h1m7 0h2m-11 1h1m1 0h1m1 0h1m1 0h2m2 0h1m2 0h1m6 0h1m-22 1h3m6 0h2m3 0h1m6 0h1m3 0h1m-18 1h2m2 0h1m1 0h2m-18 1h1m1 0h1m1 0h2m10 0h1m1 0h1m1 0h1m3 0h1m-15 1h1m16 0h3m-3 1h1m-31 1h1m1 0h2m9 0h1m1 0h1m1 0h1m4 0h1m8 0h1m-32 1h3m11 0h1m1 0h1m16 0h1m-32 1h1m11 0h1m2 0h1m-20 1h2m13 0h1m1 0h1m-20 1h1m3 0h1m14 0h1m3 0h1m-21 1h1m11 0h1m3 0h2m-21 1h1m14 0h1m3 0h1m1 0h1m1 0h1m-25 1h1m16 0h1m1 0h1m13 0h1m-18 1h2m1 0h1m2 0h1m1 0h1m-25 1h1m13 0h2m1 0h1m5 0h2m15 0h1m-44 1h1m13 0h1m1 0h1m6 0h1m-25 1h2m3 0h1m15 0h1m1 0h3m-28 1h1m20 0h3m1 0h3m2 0h1m-32 1h1m18 0h1m2 0h1m1 0h1m1 0h1m20 0h1m-48 1h1m18 0h1m2 0h1m9 0h2m-13 1h1m3 0h1m4 0h1m6 0h1m-39 1h1m18 0h1m1 0h1m6 0h1m-36 1h2m2 0h1m20 0h1m6 0h1m-35 1h1m24 0h2m14 0h1m4 0h1m-49 1h1m24 0h2m1 0h2m10 0h2m-45 1h2m27 0h2m1 0h1m-34 1h2m29 0h1m14 0h1m-56 1h1m33 0h1m4 0h1m1 0h2m3 0h1m1 0h1m6 0h1m-58 1h3m1 0h1m30 0h1m4 0h2m2 0h1m3 0h1m-50 1h1m1 0h1m31 0h1m4 0h1m-59 1h1m2 0h2m4 0h2m44 0h2m5 0h1m1 0h1m-94 1h1m18 0h1m4 0h2m1 0h2m1 0h1m2 0h1m2 0h3m1 0h1m4 0h1m35 0h4m-98 1h1m13 0h3m3 0h2m1 0h1m7 0h2m2 0h1m2 0h1m5 0h1m5 0h1m3 0h1m37 0h1m3 0h1m-102 1h3m5 0h1m3 0h3m1 0h1m2 0h3m2 0h1m15 0h1m8 0h1m47 0h1m2 0h1m7 0h1m9 0h1m1 0h1m-120 1h1m6 0h2m1 0h3m5 0h1m6 0h1m66 0h1m13 0h1m-116 1h1m1 0h1m6 0h1m3 0h2m3 0h2m7 0h1m1 0h2m1 0h1m3 0h1m6 0h1m50 0h1m2 0h1m2 0h1m10 0h1m-103 1h1m11 0h3m4 0h1m3 0h1m9 0h1m6 0h1m1 0h1m13 0h1m8 0h1m7 0h3m2 0h1m4 0h2m2 0h1m-76 1h2m3 0h1m3 0h2m1 0h1m4 0h2m2 0h1m2 0h1m1 0h1m3 0h1m5 0h1m3 0h1m4 0h3m2 0h1m3 0h2m2 0h1m7 0h1m-36 1h1m1 0h1m4 0h1"/><path stroke="#3a8fd0" d="M0 0m203 81h1m-10 2h1m5 1h1m-3 1h1m-2 1h2m7 0h1m-5 1h1m5 0h1m-19 1h1m3 0h1m10 0h1m-17 1h1m1 0h2m6 0h1m1 0h1m-16 1h1m3 0h1m2 0h1m5 0h1m-11 1h1m3 0h1m2 0h1m-16 1h1m1 0h2m-7 1h1m6 0h1m4 0h1m-15 1h1m4 0h2m3 0h1m6 0h3m-6 1h2m-13 1h1m1 0h1m1 0h1m-4 1h1m1 0h1m1 0h2m2 0h1m-11 1h1m9 0h1m-14 1h1m-3 1h2m5 0h1m1 0h1m-16 1h1m9 0h1m-15 1h1m2 1h1m-4 1h1m7 1h1m1 0h1m0 1h1m-29 3h1m22 17h1m-3 2h1m1 2h1m-4 3h1m-4 1h2m-7 4h1m4 0h1m-8 1h1m-2 1h1m6 0h1m-8 2h1m7 0h1m-11 1h3m2 0h2m3 0h1m-6 1h1m8 0h1m-16 1h1m-2 1h1m5 0h1m3 0h1m-3 1h1m-4 1h1m-3 1h1m-7 1h1m11 0h1m-11 1h1m-2 1h1m11 0h1m-15 1h1m2 0h1m4 0h1m-4 1h1m-5 1h1m1 0h1m12 0h1m-15 1h3m1 1h1m-7 1h2m1 0h1m3 0h1m-12 1h1m9 0h1m-10 1h1m6 0h1m3 0h1m-14 1h1m1 0h1m3 0h1m3 0h2m-11 1h1m7 0h1m3 0h1m-14 1h1m1 0h1m5 0h1m1 0h1m-11 1h1m6 0h2m2 0h1m-7 1h1m1 0h2m2 0h1m-4 1h1m-15 1h2m1 0h1m9 0h1m1 1h1m-15 1h1m10 0h1m5 0h1m-20 1h1m-4 1h1m13 0h1m1 0h1m-3 1h1m13 0h1m-28 1h1m9 0h1m3 0h1m8 0h1m-29 1h1m8 0h1m11 0h1m-6 1h3m-19 1h2m14 0h1m-4 1h1m4 0h1m2 0h1m-26 1h1m18 0h2m-22 1h1m14 1h1m2 0h1m-25 1h1m22 0h1m2 0h1m-29 1h3m-3 1h3m20 0h1m3 0h1m-4 1h1m-38 2h1m3 0h1m1 0h1m-19 1h1m2 0h1m3 0h1m1 0h1m1 0h1m2 0h1m26 0h1m3 0h1m-49 1h1m2 0h5m1 0h1m32 0h1m2 0h1m-51 1h1m1 0h1m7 0h1m46 0h1m-86 1h1m4 0h1m2 0h1m1 0h1m5 0h1m2 0h2m1 0h2m17 0h1m53 0h1m-113 1h1m3 0h1m7 0h1m4 0h1m4 0h1m4 0h1m3 0h1m5 0h1m1 0h1m50 0h2m-92 1h1m1 0h1m2 0h1m10 0h1m5 0h1m6 0h1m9 0h2m2 0h1m34 0h1m2 0h1m3 0h2m-99 1h1m10 0h1m3 0h1m4 0h1m1 0h2m1 0h1m1 0h1m8 0h2m18 0h1m6 0h1m27 0h1m2 0h1m-82 1h1m4 0h1m7 0h1m2 0h1m5 0h3m1 0h1m2 0h4m3 0h1m6 0h2m4 0h1m3 0h2m6 0h1m1 0h1m3 0h1m3 0h1m8 0h1m-55 1h2m7 0h1m2 0h1m1 0h1m5 0h1m12 0h2m3 0h1m6 0h1"/><path stroke="#55c4bc" d="M0 0m203 83h1m-15 3h1m12 0h1m-7 2h2m-7 2h1m5 0h1m-8 1h3m-2 1h1m5 0h1m-14 1h1m4 0h1m2 0h1m-5 1h1m-6 1h1m12 0h1m-20 1h1m4 0h1m6 0h1m-7 1h1m3 0h1m-15 1h1m7 0h1m3 0h1m-19 2h1m8 0h1m-4 1h1m0 2h1m-4 21h1m-4 9h1m-2 2h1m-10 2h1m3 1h1m-9 3h1m-2 3h1m0 1h1m1 1h1m-7 2h2m2 0h2m-5 1h2m4 0h1m-5 1h1m2 0h1m-9 1h1m5 0h1m-2 1h1m-3 1h1m1 0h1m4 0h1m-11 1h1m4 0h1m-3 1h1m3 0h1m-9 1h2m3 0h1m2 0h1m-4 1h1m2 0h1m3 0h1m-5 1h1m-12 1h3m1 0h1m7 0h1m-10 1h1m-2 1h2m2 0h1m-2 1h2m-4 1h1m-10 2h1m3 0h1m1 0h2m2 0h1m-11 1h1m9 0h2m-2 1h1m-11 1h1m7 0h1m-12 1h1m0 1h1m9 0h1m-15 3h1m1 0h1m2 0h1m7 0h1m-13 1h1m-6 1h1m6 0h1m-9 1h1m3 0h1m11 0h1m0 1h1m-6 1h1m0 1h1m-22 2h1m17 1h2m-25 1h1m21 0h2m-25 1h2m23 0h1m-34 1h1m2 0h2m21 0h1m5 0h1m-29 1h1m1 0h1m21 0h1m-5 1h1m3 0h1m-39 1h1m4 0h1m29 0h1m-52 1h1m11 0h1m5 0h2m7 0h1m20 0h1m1 0h2m-88 1h1m23 0h1m3 0h1m11 0h1m1 0h1m7 0h2m32 0h1m-81 1h1m7 0h1m2 0h1m1 0h1m9 0h1m2 0h1m6 0h1m5 0h1m6 0h1m8 0h1m14 0h1m7 0h1m-80 1h1m1 0h3m1 0h1m4 0h1m4 0h1m1 0h1m2 0h1m1 0h2m7 0h1m10 0h1m30 0h2m-73 1h1m7 0h3m4 0h3m3 0h3m4 0h1m5 0h1m5 0h1m3 0h1m2 0h1m4 0h1m8 0h1m1 0h4m-61 1h1m1 0h1m1 0h1m17 0h2m1 0h1m3 0h2m4 0h1m3 0h1m15 0h1m1 0h2m-55 1h1m7 0h1m26 0h1"/><path stroke="#58b040" d="M0 0m200 82h1m1 3h1m-1 4h1m-9 2h2m-10 2h1m4 1h1m-14 1h1m9 0h1m-15 2h1m-21 47h1m-2 2h2m2 1h1m-6 1h1m-3 2h1m1 1h1m1 1h1m-6 2h1m5 0h1m-4 1h2m-8 1h1m-2 1h1m1 0h1m-2 1h1m2 0h1m1 0h1m-3 1h2m-6 2h1m3 0h1m-6 1h1m7 0h1m-5 1h1m-8 1h1m4 0h2m-7 1h1m1 0h1m-4 1h1m6 0h1m-6 1h2m3 0h1m-6 1h1m4 0h1m-10 1h2m6 0h2m-11 1h1m1 0h2m3 0h2m1 0h2m-16 1h1m1 0h2m1 0h1m3 0h1m2 0h1m-12 1h2m7 0h1m1 0h1m-8 1h1m2 1h1m2 0h1m-14 1h2m8 0h1m-1 1h2m-16 1h2m1 0h1m11 0h1m-18 1h2m1 0h1m-5 1h1m5 0h1m5 0h1m2 0h1m1 0h1m-21 1h1m1 0h1m13 0h1m1 0h2m-21 1h1m1 0h1m6 0h1m9 0h1m-22 1h2m-2 1h1m8 0h1m7 0h1m-13 1h1m9 0h1m-24 1h1m1 0h1m20 0h1m2 0h1m-32 1h1m1 0h1m24 0h1m-28 1h1m2 0h3m-13 1h2m10 0h1m16 0h2m2 0h1m-56 1h1m4 0h1m7 0h1m4 0h1m1 0h1m2 0h1m1 0h1m21 0h1m4 0h1m-63 1h1m11 0h1m1 0h1m3 0h1m1 0h1m1 0h1m1 0h1m1 0h1m7 0h1m2 0h1m13 0h1m1 0h1m-63 1h1m3 0h2m3 0h2m1 0h1m1 0h1m3 0h1m1 0h3m3 0h2m2 0h1m6 0h2m2 0h1m8 0h1m5 0h1m2 0h1m3 0h2m-68 1h3m6 0h1m4 0h1m3 0h3m4 0h1m1 0h2m1 0h1m1 0h2m5 0h1m4 0h1m6 0h1m1 0h1m4 0h1m1 0h1m1 0h2m-63 1h1m7 0h1m5 0h1m6 0h1m1 0h1m1 0h1m1 0h1m4 0h1m3 0h1m2 0h2m1 0h1m1 0h1m2 0h1m2 0h1m3 0h1m1 0h1m-47 1h1m5 0h2m3 0h1m6 0h1m2 0h1m1 0h1m7 0h1m3 0h1m1 0h3m10 0h1m-39 1h1m15 0h1"/><path stroke="#a4cc28" d="M0 0m188 96h1m-42 58h1m2 0h1m-4 1h1m1 0h1m-1 2h1m-1 3h1m-9 1h1m1 0h1m1 1h1m2 0h1m4 0h1m-5 1h1m-6 1h2m2 0h1m-10 1h1m-1 1h1m3 0h3m-2 1h1m1 0h1m-8 1h2m2 0h1m-4 1h1m1 0h1m1 0h1m-4 1h3m-4 1h1m2 0h2m2 0h1m-10 1h1m5 0h1m-6 2h1m2 0h2m1 0h1m-16 1h1m2 0h2m2 0h1m2 0h1m1 0h2m-14 1h1m1 0h1m3 0h1m3 0h1m-12 1h1m2 0h1m4 0h1m2 0h1m-10 1h1m1 0h1m8 0h1m-19 2h3m4 0h1m-11 1h1m12 0h5m-18 1h1m9 0h3m2 0h1m-4 1h1m-19 1h2m10 0h1m2 0h1m1 0h1m1 0h1m1 0h1m-26 1h1m2 0h1m17 0h1m-13 1h1m8 0h2m-29 1h1m3 0h2m3 0h1m1 0h1m16 0h1m3 0h1m-34 1h3m1 0h1m2 0h1m5 0h1m9 0h3m-34 1h1m8 0h1m5 0h1m7 0h1m-35 1h1m6 0h1m8 0h1m17 0h1m3 0h1m2 0h3m-38 1h2m7 0h1m2 0h2m2 0h1m6 0h2m6 0h1m2 0h3m-60 1h1m9 0h1m12 0h1m3 0h1m1 0h1m4 0h1m3 0h1m5 0h1m9 0h1m-47 1h3m3 0h1m4 0h3m3 0h1m1 0h1m7 0h1m2 0h1m-41 1h1m15 0h1m17 0h1"/><path stroke="#f2e51f" d="M0 0m146 162h2m-5 1h1m1 0h1m-3 1h1m2 1h1m-6 1h2m3 0h1m-6 1h1m-1 1h1m2 0h2m-5 1h1m1 0h1m-5 3h1m2 0h1m-8 1h2m-5 1h1m0 2h3m3 0h1m-9 1h1m2 0h1m-8 1h1m9 0h2m-13 1h1m1 0h1m8 0h2m-12 1h1m4 0h1m1 0h2m-12 1h2m4 0h1m-11 1h1m9 0h1m4 0h1m-16 1h1m1 0h3m4 0h1m4 0h1m-18 1h3m11 0h1m3 0h1m-23 1h1m1 0h2m2 0h1m9 0h1m-20 1h1m1 0h1m2 0h1m1 0h1m8 0h1m-2 1h1m-22 1h1m1 0h1m10 0h1m3 0h1m-3 1h1m4 0h1m1 0h1m-30 1h1m3 0h2m1 0h2m1 0h1m4 0h4m5 0h1m4 0h1m-45 1h1m13 0h1m2 0h1m5 0h2m2 0h1m4 0h1m-55 1h1m10 0h1m13 0h1m4 0h2m3 0h3m3 0h1m2 0h1m1 0h1m1 0h1m2 0h1m1 0h1m-16 1h1m5 0h1m1 0h3m-14 1h1"/><path stroke="#f49a1d" d="M0 0m146 163h1m-2 6h1m-8 1h1m0 1h1m1 0h1m-5 1h1m1 1h1m1 0h1m-6 1h1m3 0h1m-5 1h1m2 0h1m-3 1h2m-3 1h1m1 0h1m-10 1h2m4 0h1m4 0h1m-14 1h1m1 0h1m5 0h1m-3 1h1m2 0h1m-14 1h1m2 0h1m1 0h1m3 0h2m-8 1h1m7 0h1m-16 1h1m6 0h1m1 0h1m3 0h1m-8 1h1m2 0h1m-12 1h1m2 0h2m3 0h1m2 0h1m1 0h1m-18 1h1m2 0h1m5 0h2m4 0h1m-17 1h1m1 0h2m5 0h2m3 0h1m1 0h1m-13 1h1m1 0h2m2 0h1m-20 1h3m11 0h1m2 0h1m4 0h1m-30 1h1m2 0h1m6 0h1m1 0h2m1 0h1m6 0h1m-34 1h1m4 0h2m16 0h1m6 0h1m2 0h1m-19 1h1m1 0h1m7 0h1m6 1h1"/><path stroke="#e4281b" d="M0 0m147 159h1m-8 8h1m4 0h1m-9 4h1m-2 1h1m3 0h2m-2 1h1m1 0h1m-8 1h1m2 0h1m-1 1h1m-6 2h1m1 0h1m3 0h1m-8 1h1m1 0h1m1 0h1m-6 1h4m-7 1h3m-4 1h1m3 0h1m-10 1h4m1 0h3m-9 1h1m3 0h1m4 0h2m-12 1h3m1 0h1m1 0h1m2 0h1m-12 1h1m3 0h3m1 0h2m-14 1h1m3 0h2m1 0h1m2 0h2m1 0h1m3 0h1m-16 1h5m2 0h2m2 0h1m-21 1h1m1 0h1m1 0h3m1 0h1m4 0h1m2 0h1m-24 1h1m6 0h1m1 0h7m2 0h1m2 0h2m-13 1h1m11 0h1m-31 1h1m10 0h1m6 0h1"/></g>
<rect x="98" y="683" width="357.4" height="355.6" fill="none" stroke="#000" stroke-width="1.5"/><rect x="289.95" y="683" width="2.5" height="355.6" fill="#000"/><rect x="98" y="832.75" width="357.4" height="2.5" fill="#000"/><path d="M98.1 1038.6v9.5M164.6 1038.6v9.5M233.7 1038.6v9.5M300.8 1038.6v9.5M368.8 1038.6v9.5M437.4 1038.6v9.5" stroke="#000" stroke-width="2.2" fill="none"/><path d="M118.12 1038.6v5.2M129.83 1038.6v5.2M138.14 1038.6v5.2M144.58 1038.6v5.2M149.85 1038.6v5.2M154.3 1038.6v5.2M158.16 1038.6v5.2M161.56 1038.6v5.2M185.4 1038.6v5.2M197.57 1038.6v5.2M206.2 1038.6v5.2M212.9 1038.6v5.2M218.37 1038.6v5.2M223 1038.6v5.2M227 1038.6v5.2M230.54 1038.6v5.2M253.9 1038.6v5.2M265.71 1038.6v5.2M274.1 1038.6v5.2M280.6 1038.6v5.2M285.91 1038.6v5.2M290.41 1038.6v5.2M294.3 1038.6v5.2M297.73 1038.6v5.2M321.27 1038.6v5.2M333.24 1038.6v5.2M341.74 1038.6v5.2M348.33 1038.6v5.2M353.71 1038.6v5.2M358.27 1038.6v5.2M362.21 1038.6v5.2M365.69 1038.6v5.2M389.45 1038.6v5.2M401.53 1038.6v5.2M410.1 1038.6v5.2M416.75 1038.6v5.2M422.18 1038.6v5.2M426.77 1038.6v5.2M430.75 1038.6v5.2M434.26 1038.6v5.2" stroke="#000" stroke-width="1.3" fill="none"/><path d="M98 726.7h-10M98 791.1h-10M98 869.3h-10M98 1018.1h-10" stroke="#000" stroke-width="2.2" fill="none"/><path d="M98 683.4h-5.2M98 707.31h-5.2M98 695.97h-5.2M98 687.93h-5.2M98 771.71h-5.2M98 760.37h-5.2M98 752.33h-5.2M98 746.09h-5.2M98 740.99h-5.2M98 736.68h-5.2M98 732.94h-5.2M98 729.65h-5.2M98 845.76h-5.2M98 831.99h-5.2M98 822.22h-5.2M98 814.64h-5.2M98 808.45h-5.2M98 803.21h-5.2M98 798.68h-5.2M98 794.68h-5.2M98 923.8h-5.2M98 914.3h-5.2M98 904.9h-5.2M98 896.6h-5.2M98 889.5h-5.2M98 883.5h-5.2M98 878.5h-5.2M98 873.7h-5.2M98 965.3h-5.2M98 978.3h-5.2M98 991.4h-5.2M98 1000.8h-5.2M98 1006.8h-5.2M98 1011.5h-5.2M98 1015h-5.2" stroke="#000" stroke-width="1.3" fill="none"/><rect x="92.5" y="933.5" width="5.5" height="22.5" fill="#000"/><path d="M98 936.5h-10.5M98 941.5h-10.5M98 946h-10.5M98 953.5h-10.5" stroke="#000" stroke-width="3" fill="none"/><text transform="translate(60.97 734.3) scale(0.930 1.035)" font-size="11.7" fill="#000">10</text><text transform="translate(73.3 726.3) scale(0.930 1.035)" font-size="11.7" fill="#000">6</text><text transform="translate(60.97 798.7) scale(0.930 1.035)" font-size="11.7" fill="#000">10</text><text transform="translate(73.41 790.7) scale(0.930 1.035)" font-size="11.7" fill="#000">5</text><text transform="translate(60.97 876.9) scale(0.930 1.035)" font-size="11.7" fill="#000">10</text><text transform="translate(73.6 868.9) scale(0.930 1.035)" font-size="11.7" fill="#000">4</text><text transform="translate(66.67 947.4) scale(0.930 1.035)" font-size="11.7" fill="#000">0</text><text transform="translate(53.42 1026.4) scale(0.930 1.035)" font-size="11.7" fill="#000">-10</text><text transform="translate(70.87 1018.4) scale(0.930 1.035)" font-size="11.7" fill="#000">4</text><text transform="translate(104.87 1068.2) scale(0.930 1.035)" font-size="11.7" fill="#000">10</text><text transform="translate(117.2 1064.3) scale(0.930 1.035)" font-size="11.7" fill="#000">2</text><text transform="translate(166.37 1068.2) scale(0.930 1.035)" font-size="11.7" fill="#000">10</text><text transform="translate(178.83 1064.3) scale(0.930 1.035)" font-size="11.7" fill="#000">3</text><text transform="translate(234.97 1068.2) scale(0.930 1.035)" font-size="11.7" fill="#000">10</text><text transform="translate(247.6 1064.3) scale(0.930 1.035)" font-size="11.7" fill="#000">4</text><text transform="translate(301.47 1068.2) scale(0.930 1.035)" font-size="11.7" fill="#000">10</text><text transform="translate(313.91 1064.3) scale(0.930 1.035)" font-size="11.7" fill="#000">5</text><text transform="translate(370.07 1068.2) scale(0.930 1.035)" font-size="11.7" fill="#000">10</text><text transform="translate(382.4 1064.3) scale(0.930 1.035)" font-size="11.7" fill="#000">6</text><text transform="translate(434.47 1068.2) scale(0.930 1.035)" font-size="11.7" fill="#000">10</text><text transform="translate(446.79 1064.3) scale(0.930 1.035)" font-size="11.7" fill="#000">7</text><text transform="translate(102.91 711) scale(1.000 1.035)" font-size="14.6" fill="#000">Q1</text><text transform="translate(103.03 733) scale(1.000 1.035)" font-size="14.6" fill="#000">0.80</text><text transform="translate(405.46 711) scale(1.000 1.035)" font-size="14.6" fill="#000">Q2</text><text transform="translate(396.32 733) scale(1.000 1.035)" font-size="14.6" fill="#000">20.7</text><text transform="translate(405.37 996.8) scale(1.000 1.035)" font-size="14.6" fill="#000">Q3</text><text transform="translate(396.3 1019.1) scale(1.000 1.035)" font-size="14.6" fill="#000">26.1</text><text transform="translate(102.91 996.8) scale(1.000 1.035)" font-size="14.6" fill="#000">Q4</text><text transform="translate(103.02 1019.1) scale(1.000 1.035)" font-size="14.6" fill="#000">52.4</text>
<g transform="translate(518.7 683.67) scale(1.35)" fill="none" stroke-width="1.04"><path stroke="#18298a" d="M0 0m225 38h1m0 2h1m1 1h1m-17 3h1m21 0h1m9 0h1m-24 7h1m2 0h1m13 1h1m-49 1h1m-10 1h1m16 0h1m16 0h1m1 1h1m11 0h1m-8 1h1m-9 1h1m-23 1h1m5 0h1m7 0h1m31 0h1m-68 1h1m58 0h1m-22 1h1m3 0h1m9 0h1m-40 1h1m14 0h1m2 0h1m1 0h1m10 0h1m22 0h1m-48 1h2m5 0h1m2 0h2m7 0h1m2 0h1m3 0h1m19 0h1m-43 1h1m4 0h1m6 0h1m11 0h1m-21 1h1m3 0h1m6 0h1m1 0h2m11 0h1m-51 1h1m13 0h1m7 0h1m2 0h1m12 0h1m14 0h1m4 0h1m3 0h1m-73 1h1m7 0h1m3 0h1m14 0h1m5 0h1m3 0h1m1 0h1m4 0h1m5 0h1m5 0h2m6 0h1m5 0h1m-64 1h1m22 0h1m2 0h1m2 0h1m2 0h1m1 0h1m4 0h1m9 0h4m2 0h1m10 0h1m-62 1h1m5 0h1m3 0h1m2 0h1m9 0h1m2 0h1m3 0h2m1 0h2m4 0h2m2 0h1m7 0h1m3 0h1m-98 1h1m43 0h1m8 0h1m4 0h1m7 0h3m2 0h3m8 0h1m6 0h1m-63 1h1m21 0h1m3 0h1m3 0h1m1 0h1m2 0h1m1 0h2m8 0h1m1 0h1m3 0h1m15 0h1m-62 1h1m9 0h1m7 0h1m1 0h1m1 0h1m6 0h1m14 0h1m8 0h3m4 0h1m-72 1h1m3 0h2m7 0h1m17 0h2m1 0h1m2 0h1m4 0h3m6 0h1m1 0h3m5 0h2m2 0h3m4 0h1m-54 1h1m4 0h1m4 0h1m2 0h1m3 0h2m1 0h1m7 0h1m10 0h1m1 0h3m3 0h1m1 0h3m5 0h1m-72 1h1m9 0h1m1 0h1m1 0h1m3 0h1m12 0h1m2 0h1m4 0h2m6 0h1m4 0h2m10 0h1m3 0h3m1 0h1m-67 1h1m16 0h1m1 0h2m2 0h3m1 0h2m5 0h1m5 0h1m1 0h1m4 0h1m2 0h1m2 0h1m2 0h1m5 0h1m-60 1h2m8 0h1m1 0h1m19 0h3m5 0h2m2 0h1m1 0h1m2 0h1m2 0h2m1 0h1m-66 1h1m19 0h2m10 0h1m21 0h1m3 0h1m1 0h1m1 0h1m1 0h2m-62 1h1m2 0h2m7 0h1m2 0h2m12 0h1m6 0h1m12 0h1m2 0h1m2 0h1m1 0h1m9 0h1m-87 1h1m9 0h1m1 0h2m12 0h1m9 0h1m4 0h2m9 0h2m7 0h1m6 0h3m1 0h1m-58 1h1m6 0h1m6 0h2m13 0h1m17 0h2m5 0h1m12 0h1m-83 1h1m3 0h1m4 0h1m4 0h1m2 0h1m14 0h1m8 0h1m2 0h1m21 0h1m5 0h1m5 0h1m1 0h2m-101 1h1m1 0h1m33 0h1m6 0h1m2 0h1m4 0h1m20 0h1m15 0h1m3 0h1m2 0h1m1 0h1m-73 1h2m2 0h1m14 0h3m3 0h1m-42 1h1m26 0h1m9 0h1m27 0h1m11 0h1m9 0h1m3 0h2m-83 1h1m14 0h4m5 0h1m3 0h1m36 0h1m1 0h2m4 0h1m6 0h1m-81 1h2m2 0h1m2 0h2m1 0h1m7 0h1m2 0h2m1 0h1m4 0h1m30 0h1m11 0h2m3 0h1m1 0h1m-90 1h1m16 0h1m2 0h1m2 0h2m2 0h1m45 0h1m7 0h1m3 0h1m2 0h1m1 0h1m1 0h1m-90 1h1m2 0h2m7 0h1m5 0h1m40 0h1m11 0h1m2 0h1m3 0h1m2 0h1m3 0h1m-96 1h1m8 0h1m5 0h1m10 0h1m1 0h1m1 0h1m43 0h1m1 0h1m4 0h1m8 0h1m4 0h1m-87 1h1m3 0h1m6 0h1m9 0h1m2 0h1m4 0h1m3 0h1m47 0h1m-90 1h1m3 0h1m8 0h1m3 0h2m5 0h1m44 0h1m14 0h1m5 0h2m1 0h1m-86 1h1m12 0h1m15 0h1m53 0h1m-156 1h1m67 0h1m12 0h1m2 0h1m9 0h1m54 0h3m-84 1h1m10 0h1m6 0h2m11 0h1m14 0h1m34 0h1m2 0h1m7 0h1m-113 1h1m28 0h2m4 0h1m4 0h1m60 0h1m5 0h1m-97 1h1m12 0h1m8 0h1m3 0h1m63 0h1m1 0h1m5 0h1m1 0h1m-93 1h1m2 0h1m9 0h1m1 0h2m1 0h1m4 0h1m58 0h2m2 0h1m-92 1h1m4 0h1m7 0h3m65 0h1m5 0h1m3 0h1m-82 1h1m1 0h1m1 0h2m2 0h1m3 0h2m67 0h1m-98 1h1m10 0h1m5 0h1m5 0h2m3 0h1m57 0h1m3 0h2m1 0h1m-80 1h2m8 0h1m69 0h1m1 0h2m-112 1h1m4 0h1m19 0h1m6 0h2m3 0h1m62 0h1m1 0h1m5 0h1m4 0h1m-99 1h1m6 0h1m1 0h1m1 0h1m1 0h1m1 0h1m1 0h1m2 0h1m60 0h1m4 0h1m4 0h1m2 0h1m-107 1h1m23 0h1m1 0h1m29 0h1m34 0h2m4 0h3m-88 1h1m8 0h1m4 0h2m1 0h1m2 0h1m12 0h1m45 0h1m6 0h1m5 0h2m-104 1h1m7 0h1m15 0h2m60 0h1m12 0h2m1 0h1m2 0h1m-99 1h1m8 0h1m6 0h1m26 0h1m11 0h1m22 0h1m3 0h2m2 0h2m1 0h1m6 0h1m1 0h1m-97 1h1m5 0h2m4 0h2m2 0h1m21 0h1m32 0h1m2 0h1m5 0h1m2 0h1m3 0h2m1 0h1m-110 1h1m15 0h2m1 0h1m4 0h1m2 0h1m7 0h1m1 0h1m9 0h1m40 0h1m8 0h1m2 0h1m4 0h1m8 0h1m2 0h1m-102 1h1m8 0h1m5 0h3m3 0h1m5 0h1m45 0h1m2 0h1m4 0h2m1 0h1m5 0h1m-83 1h1m5 0h1m4 0h1m5 0h2m9 0h1m1 0h1m38 0h1m1 0h1m1 0h1m11 0h5m1 0h1m-113 1h1m7 0h1m5 0h1m2 0h1m27 0h1m9 0h1m31 0h1m1 0h1m2 0h1m5 0h1m4 0h1m2 0h1m1 0h3m-113 1h1m22 0h2m3 0h1m3 0h1m6 0h1m21 0h1m20 0h2m19 0h1m2 0h1m-100 1h1m3 0h1m10 0h1m5 0h2m1 0h1m7 0h1m4 0h1m7 0h1m7 0h1m26 0h3m2 0h1m5 0h1m5 0h1m6 0h1m-109 1h1m11 0h1m5 0h1m5 0h1m3 0h2m1 0h1m6 0h1m2 0h1m39 0h2m3 0h1m9 0h1m4 0h1m-101 1h1m9 0h1m21 0h2m7 0h1m3 0h1m34 0h1m6 0h1m7 0h1m8 0h1m3 0h1m-114 1h1m4 0h1m8 0h1m2 0h1m3 0h1m5 0h1m7 0h1m4 0h1m4 0h1m8 0h1m18 0h1m18 0h1m7 0h2m3 0h2m3 0h2m-105 1h1m23 0h1m2 0h1m1 0h1m5 0h1m1 0h1m37 0h1m14 0h1m7 0h1m1 0h1m1 0h1m1 0h1m-111 1h1m12 0h1m6 0h1m11 0h1m1 0h1m8 0h1m5 0h1m3 0h1m2 0h2m32 0h1m3 0h1m8 0h1m-159 1h1m43 0h1m3 0h1m24 0h2m2 0h2m2 0h2m4 0h1m1 0h1m1 0h1m3 0h1m3 0h1m5 0h1m1 0h1m15 0h1m21 0h1m15 0h1m-98 1h1m15 0h1m1 0h1m12 0h3m1 0h1m11 0h2m22 0h1m5 0h2m13 0h2m3 0h1m1 0h1m-91 1h1m6 0h2m5 0h2m1 0h1m5 0h1m4 0h1m4 0h2m1 0h1m4 0h1m1 0h1m2 0h1m1 0h1m13 0h1m2 0h1m8 0h1m2 0h1m3 0h1m2 0h1m1 0h1m2 0h1m3 0h1m-94 1h2m5 0h1m23 0h1m7 0h1m3 0h1m3 0h1m20 0h1m6 0h1m3 0h3m3 0h1m4 0h1m-107 1h1m6 0h1m18 0h2m5 0h1m3 0h1m1 0h1m1 0h1m5 0h1m7 0h1m19 0h1m12 0h1m2 0h2m6 0h3m-123 1h1m4 0h1m7 0h1m17 0h1m4 0h1m1 0h1m2 0h1m6 0h1m3 0h2m4 0h2m4 0h1m3 0h1m9 0h1m22 0h1m14 0h1m2 0h2m-111 1h1m15 0h1m18 0h1m4 0h1m18 0h1m10 0h1m23 0h1m8 0h4m5 0h1m-101 1h1m8 0h2m1 0h1m3 0h1m6 0h2m12 0h2m2 0h1m5 0h1m4 0h1m33 0h1m3 0h1m2 0h3m5 0h1m-111 1h1m1 0h1m2 0h1m2 0h1m9 0h1m4 0h2m6 0h1m3 0h1m1 0h3m1 0h1m1 0h2m6 0h3m2 0h1m4 0h1m33 0h1m5 0h1m3 0h1m2 0h2m2 0h1m1 0h1m-113 1h1m12 0h1m15 0h1m3 0h1m12 0h1m2 0h1m8 0h1m2 0h1m2 0h1m8 0h1m20 0h3m1 0h1m10 0h1m1 0h1m-119 1h1m27 0h1m3 0h2m4 0h2m19 0h2m5 0h2m27 0h1m7 0h1m3 0h1m1 0h1m2 0h3m-119 1h1m20 0h1m6 0h2m2 0h1m7 0h1m1 0h1m3 0h2m4 0h1m3 0h4m11 0h1m23 0h1m3 0h2m8 0h2m2 0h1m4 0h1m1 0h1m-95 1h1m2 0h1m6 0h2m6 0h2m1 0h1m5 0h3m1 0h1m2 0h1m5 0h1m6 0h1m15 0h2m10 0h1m9 0h2m3 0h1m1 0h1m2 0h1m-136 1h1m3 0h1m10 0h1m3 0h2m20 0h1m1 0h1m1 0h1m5 0h1m2 0h2m3 0h1m1 0h2m2 0h2m1 0h1m5 0h1m35 0h1m1 0h1m1 0h2m4 0h1m2 0h2m2 0h1m3 0h1m-126 1h1m1 0h1m8 0h1m1 0h1m19 0h1m15 0h1m1 0h1m7 0h1m5 0h3m12 0h1m13 0h1m9 0h1m7 0h1m7 0h1m3 0h1m1 0h1m1 0h2m-87 1h1m8 0h1m3 0h1m8 0h2m9 0h1m3 0h1m17 0h1m5 0h1m9 0h1m3 0h4m2 0h1m-117 1h1m19 0h1m7 0h1m2 0h1m4 0h1m10 0h2m9 0h1m4 0h1m4 0h1m3 0h1m12 0h1m20 0h1m3 0h3m3 0h1m-120 1h1m20 0h1m3 0h1m4 0h2m1 0h1m8 0h2m5 0h2m18 0h1m17 0h1m19 0h1m3 0h1m2 0h2m-88 1h1m3 0h1m13 0h1m1 0h1m7 0h1m1 0h2m1 0h1m7 0h1m7 0h1m6 0h1m4 0h1m18 0h1m2 0h1m2 0h1m-96 1h1m3 0h2m4 0h1m4 0h1m5 0h1m1 0h1m2 0h1m3 0h1m2 0h1m1 0h1m3 0h1m43 0h1m2 0h1m1 0h1m1 0h2m1 0h1m3 0h1m-105 1h1m15 0h1m8 0h1m1 0h2m2 0h3m1 0h1m7 0h1m2 0h2m3 0h1m39 0h2m13 0h1m-110 1h1m23 0h2m2 0h1m1 0h1m2 0h1m3 0h1m2 0h2m1 0h1m1 0h2m2 0h2m21 0h1m15 0h1m7 0h1m8 0h1m4 0h1m1 0h1m-119 1h1m11 0h1m7 0h1m2 0h1m3 0h1m6 0h2m3 0h1m1 0h1m2 0h1m13 0h1m7 0h2m34 0h1m6 0h2m1 0h2m-105 1h1m15 0h3m8 0h1m8 0h1m1 0h1m14 0h1m37 0h1m3 0h1m8 0h2m-90 1h1m1 0h1m2 0h2m4 0h2m13 0h3m8 0h2m22 0h1m1 0h1m3 0h1m5 0h1m3 0h1m2 0h1m10 0h1m-94 1h1m4 0h1m1 0h1m6 0h1m1 0h1m13 0h1m21 0h1m7 0h1m2 0h1m7 0h1m3 0h1m1 0h1m2 0h1m1 0h1m2 0h1m-126 1h1m24 0h2m20 0h1m1 0h1m5 0h1m7 0h1m5 0h1m8 0h1m33 0h1m5 0h1m1 0h2m-86 1h1m3 0h1m2 0h1m9 0h1m16 0h1m7 0h1m15 0h1m22 0h1m7 0h1m4 0h2m1 0h1m-112 1h1m6 0h1m5 0h1m3 0h1m8 0h1m7 0h1m7 0h1m4 0h1m1 0h1m1 0h1m10 0h1m30 0h2m5 0h1m3 0h1m2 0h1m-123 1h1m26 0h1m10 0h2m1 0h1m2 0h1m8 0h1m3 0h2m30 0h2m5 0h1m5 0h1m8 0h1m1 0h1m2 0h1m1 0h1m4 0h1m-130 1h1m14 0h1m9 0h1m15 0h1m4 0h1m1 0h1m1 0h2m10 0h1m5 0h1m31 0h1m26 0h1m1 0h1m-125 1h1m24 0h1m8 0h2m1 0h1m7 0h1m2 0h1m2 0h1m15 0h1m9 0h1m2 0h1m14 0h1m11 0h1m7 0h2m3 0h1m-105 1h1m9 0h1m5 0h1m6 0h1m3 0h1m1 0h1m3 0h1m4 0h1m3 0h1m1 0h1m32 0h1m17 0h1m1 0h1m2 0h2m4 0h1m1 0h1m-101 1h1m6 0h1m8 0h1m4 0h1m5 0h1m3 0h1m3 0h1m1 0h2m21 0h1m8 0h1m21 0h1m-103 1h1m4 0h1m8 0h1m5 0h1m20 0h1m1 0h3m49 0h2m3 0h1m1 0h1m1 0h1m1 0h1m1 0h1m-133 1h1m11 0h1m4 0h1m30 0h1m11 0h3m4 0h2m24 0h1m6 0h1m27 0h1m6 0h1m-122 1h1m14 0h1m1 0h1m2 0h1m1 0h3m6 0h1m1 0h1m7 0h1m2 0h2m3 0h3m1 0h1m1 0h2m52 0h3m3 0h2m-118 1h1m9 0h1m8 0h1m12 0h1m1 0h1m4 0h2m3 0h1m1 0h1m9 0h1m41 0h1m4 0h1m2 0h2m-87 1h1m7 0h1m1 0h1m9 0h1m4 0h1m1 0h1m1 0h2m2 0h1m42 0h1m3 0h1m1 0h1m1 0h1m8 0h2m4 0h1m-130 1h1m32 0h2m4 0h1m2 0h3m12 0h1m3 0h1m29 0h1m2 0h1m18 0h1m2 0h1m4 0h2m1 0h1m4 0h1m-113 1h1m15 0h1m2 0h3m7 0h1m12 0h1m3 0h1m47 0h1m4 0h1m2 0h1m6 0h1m-106 1h1m1 0h1m2 0h4m3 0h1m9 0h1m3 0h1m2 0h1m1 0h1m8 0h1m1 0h1m28 0h1m1 0h1m15 0h1m2 0h2m8 0h2m-91 1h1m8 0h1m1 0h1m3 0h1m3 0h1m5 0h1m6 0h1m27 0h1m22 0h1m2 0h2m-103 1h1m1 0h1m9 0h1m2 0h1m2 0h1m21 0h1m18 0h1m27 0h1m6 0h1m1 0h1m2 0h1m-111 1h1m9 0h1m19 0h1m8 0h1m10 0h1m45 0h2m10 0h1m5 0h1m4 0h1m-108 1h1m2 0h1m9 0h2m7 0h1m1 0h2m2 0h1m2 0h2m3 0h1m1 0h2m1 0h1m36 0h1m6 0h1m7 0h2m1 0h1m2 0h1m1 0h1m1 0h1m-97 1h1m2 0h2m10 0h2m3 0h1m46 0h1m10 0h1m1 0h1m1 0h3m1 0h1m-86 1h1m6 0h1m6 0h1m12 0h1m6 0h1m48 0h1m7 0h1m-114 1h1m10 0h1m12 0h1m7 0h1m3 0h3m7 0h3m2 0h1m26 0h1m18 0h1m3 0h1m8 0h1m5 0h1m-104 1h1m6 0h1m6 0h2m11 0h1m4 0h1m1 0h2m39 0h1m3 0h1m14 0h1m2 0h1m1 0h1m1 0h1m-99 1h1m7 0h3m7 0h1m4 0h2m1 0h1m6 0h1m1 0h1m23 0h1m17 0h1m4 0h1m8 0h1m-99 1h1m7 0h1m4 0h1m8 0h4m8 0h3m4 0h1m20 0h1m5 0h1m10 0h1m6 0h1m1 0h1m-105 1h1m20 0h1m12 0h2m1 0h1m5 0h1m8 0h1m4 0h1m49 0h3m-109 1h1m2 0h1m10 0h1m8 0h1m9 0h1m1 0h1m4 0h1m1 0h1m1 0h1m8 0h1m41 0h1m6 0h1m11 0h1m-131 1h1m21 0h1m6 0h1m3 0h1m9 0h1m6 0h1m7 0h1m6 0h2m1 0h1m49 0h1m10 0h1m-107 1h1m12 0h1m2 0h2m10 0h2m2 0h1m7 0h2m5 0h1m41 0h1m1 0h1m6 0h1m1 0h1m1 0h1m4 0h1m-110 1h1m11 0h1m26 0h1m24 0h1m22 0h1m1 0h1m10 0h1m-72 1h1m2 0h1m3 0h2m2 0h1m40 0h1m1 0h1m-51 1h1m1 0h1m2 0h1m1 0h1m46 0h1m5 0h3m3 0h3m-96 1h1m15 0h1m1 0h2m6 0h1m1 0h1m8 0h1m44 0h1m1 0h1m3 0h2m2 0h3m-92 1h1m8 0h1m60 0h1m6 0h1m6 0h1m2 0h1m1 0h1m6 0h1m-93 1h1m6 0h1m1 0h1m3 0h1m5 0h1m52 0h1m6 0h2m5 0h2m2 0h1m-86 1h1m1 0h1m9 0h1m46 0h1m16 0h1m5 0h1m-88 1h1m1 0h1m17 0h1m43 0h1m4 0h1m5 0h2m1 0h1m1 0h2m6 0h1m6 0h1m-113 1h1m12 0h1m3 0h1m2 0h1m36 0h1m16 0h1m7 0h1m10 0h1m7 0h1m-89 1h2m2 0h1m42 0h1m25 0h2m7 0h1m2 0h2m2 0h1m4 0h1m-120 1h1m9 0h1m5 0h1m2 0h1m8 0h1m1 0h2m38 0h2m9 0h1m3 0h1m8 0h1m8 0h1m4 0h1m3 0h2m5 0h1m-159 1h1m2 0h1m19 0h1m6 0h2m4 0h1m2 0h1m4 0h1m1 0h1m1 0h1m2 0h1m3 0h1m66 0h1m9 0h2m4 0h1m3 0h1m2 0h1m5 0h1m3 0h1m-163 1h1m1 0h1m4 0h3m6 0h7m3 0h1m4 0h2m3 0h1m3 0h1m3 0h1m102 0h1m6 0h1m-161 1h2m2 0h1m5 0h1m1 0h1m5 0h1m1 0h2m2 0h1m1 0h1m4 0h1m3 0h1m1 0h1m29 0h1m48 0h1m13 0h1m6 0h1m23 0h1m-165 1h1m6 0h1m1 0h1m3 0h1m1 0h2m10 0h1m1 0h1m14 0h1m77 0h1m15 0h1m3 0h2m10 0h1m3 0h1m-164 1h1m3 0h1m6 0h1m1 0h1m3 0h1m1 0h1m48 0h1m1 0h1m53 0h1m3 0h1m8 0h1m4 0h1m7 0h1m12 0h1m3 0h2m-169 1h2m6 0h1m8 0h1m1 0h1m6 0h1m1 0h1m1 0h1m39 0h1m44 0h1m9 0h1m6 0h1m2 0h1m14 0h1m5 0h2m8 0h1m-165 1h2m2 0h1m5 0h2m1 0h1m5 0h1m1 0h1m1 0h1m1 0h1m37 0h1m13 0h2m21 0h1m6 0h1m1 0h1m2 0h2m3 0h1m9 0h1m1 0h1m12 0h1m2 0h1m1 0h1m13 0h1m4 0h1m-168 1h1m10 0h1m10 0h1m1 0h1m1 0h2m2 0h1m9 0h2m3 0h1m4 0h4m10 0h1m12 0h1m4 0h2m9 0h1m12 0h1m4 0h1m10 0h1m8 0h1m13 0h1m6 0h2m6 0h1m5 0h1m-160 1h1m1 0h1m9 0h1m15 0h2m16 0h2m5 0h1m3 0h2m3 0h1m5 0h1m4 0h1m4 0h1m6 0h2m11 0h2m2 0h1m3 0h1m1 0h1m5 0h1m8 0h2m11 0h3m6 0h1m4 0h1m-128 1h1m1 0h1m29 0h1m3 0h1m14 0h1m1 0h1m2 0h1m2 0h1m3 0h1m1 0h2m6 0h1m3 0h1m1 0h1m2 0h1m5 0h1m3 0h1m1 0h1m1 0h2m1 0h1m1 0h1m6 0h2m2 0h1m5 0h1m1 0h1m-62 1h1m1 0h1m5 0h1m8 0h2m16 0h1m2 0h1m5 0h1m1 0h1m2 0h1m1 0h1m3 0h1m5 0h1m-94 1h1m19 0h1m16 0h1m6 0h1m16 0h1m1 0h1m9 0h1m1 0h1m11 0h1m1 0h1m2 0h1m-55 1h1m18 0h2m3 0h1m5 0h1m4 0h2m2 0h2m3 0h1m-50 1h1m24 0h1m11 0h3m1 0h1m5 1h1m7 0h1m-23 1h1m0 1h1"/><path stroke="#1f3fa8" d="M0 0m218 68h1m-10 1h1m-13 2h1m2 0h1m1 0h1m2 0h1m-7 1h1m5 0h1m2 0h1m13 0h1m-33 1h1m9 0h2m6 0h1m4 0h1m-21 1h1m2 0h1m5 0h1m4 0h1m2 0h1m-23 1h1m10 0h1m3 0h1m5 0h1m3 0h1m5 0h1m-32 1h1m3 0h1m3 0h1m3 0h1m3 0h1m6 0h1m3 0h1m-34 1h1m13 0h3m8 0h1m3 0h1m-6 1h1m-29 1h1m1 0h1m4 0h1m9 0h1m8 0h1m7 0h1m-34 1h2m7 0h2m1 0h1m3 0h1m3 0h2m5 0h1m9 0h1m-44 1h1m3 0h1m4 0h1m3 0h1m24 0h1m1 0h1m1 0h1m-38 1h1m7 0h1m9 0h2m1 0h2m6 0h1m1 0h1m2 0h1m2 0h1m2 0h1m-43 1h1m4 0h1m7 0h1m4 0h1m9 0h1m2 0h1m5 0h1m-46 1h1m3 0h1m3 0h1m2 0h1m1 0h1m3 0h2m14 0h1m4 0h1m1 0h1m5 0h1m-54 1h1m12 0h1m2 0h1m22 0h1m4 0h1m5 0h1m5 0h1m-33 1h1m8 0h1m6 0h2m3 0h1m10 0h1m-61 1h1m6 0h1m2 0h1m1 0h1m3 0h1m6 0h1m2 0h1m1 0h1m7 0h1m3 0h1m2 0h1m3 0h1m2 0h1m5 0h2m-54 1h3m5 0h1m7 0h2m6 0h1m1 0h1m9 0h1m9 0h1m12 0h1m-61 1h1m2 0h1m1 0h1m3 0h1m2 0h1m4 0h1m14 0h1m16 0h1m6 0h2m1 0h1m-61 1h1m3 0h1m1 0h1m4 0h2m3 0h2m7 0h1m21 0h1m9 0h1m1 0h1m-66 1h1m1 0h1m3 0h1m4 0h1m3 0h1m21 0h2m3 0h1m10 0h1m8 0h1m-60 1h1m1 0h1m11 0h1m37 0h1m4 0h1m-54 1h1m14 0h1m6 0h1m9 0h1m2 0h1m17 0h1m2 0h1m-58 1h1m12 0h1m39 0h1m2 0h1m-66 1h1m3 0h1m2 0h1m1 0h2m2 0h1m1 0h1m45 0h1m2 0h1m-67 1h1m15 0h1m6 0h1m1 0h1m6 1h1m-34 1h2m1 0h2m3 0h2m5 0h1m49 0h2m-68 1h1m3 0h1m3 0h1m1 0h1m15 0h1m1 0h1m9 0h1m24 0h1m-68 1h1m2 0h1m5 0h1m55 0h1m3 0h1m-63 1h2m1 0h1m2 0h1m3 0h1m1 0h1m8 0h1m9 0h1m3 0h1m28 0h1m-73 1h1m10 0h2m2 0h1m1 0h1m4 0h1m41 0h1m1 0h1m6 0h1m-72 1h2m4 0h2m1 0h1m5 0h1m12 0h1m4 0h2m30 0h1m-64 1h1m1 0h1m2 0h2m1 0h1m3 0h2m3 0h1m2 0h1m12 0h1m2 0h1m18 0h1m5 0h1m-61 1h2m3 0h1m19 0h1m34 0h1m-66 1h1m13 0h1m11 0h1m3 0h2m3 0h1m9 0h1m22 0h1m-66 1h2m3 0h1m1 0h1m1 0h1m12 0h1m3 0h1m-33 1h1m3 0h1m2 0h1m1 0h1m1 0h1m2 0h1m1 0h1m6 0h1m34 0h2m1 0h1m-54 1h1m1 0h1m2 0h1m1 0h1m13 0h1m23 0h1m4 0h1m3 0h1m2 0h1m-54 1h1m1 0h1m6 0h3m3 0h1m8 0h1m8 0h1m6 0h2m7 0h3m-57 1h1m3 0h1m13 0h1m10 0h1m8 0h1m3 0h1m3 0h1m9 0h1m1 0h1m2 0h1m1 0h1m-72 1h2m13 0h1m9 0h1m4 0h2m2 0h3m9 0h1m2 0h1m2 0h1m-47 1h2m3 0h1m2 0h1m4 0h4m8 0h1m1 0h1m3 0h1m24 0h1m-49 1h1m12 0h2m1 0h1m12 0h1m3 0h1m3 0h1m7 0h1m4 0h1m4 0h1m-68 1h1m6 0h1m7 0h3m2 0h1m3 0h2m3 0h1m1 0h1m3 0h1m11 0h1m5 0h1m3 0h2m-58 1h1m15 0h1m2 0h1m13 0h1m15 0h1m3 0h1m2 0h1m6 0h1m-55 1h1m4 0h1m12 0h1m2 0h2m5 0h1m7 0h2m1 0h2m5 0h1m5 0h1m-67 1h1m20 0h1m1 0h1m3 0h2m1 0h2m9 0h1m14 0h1m2 0h3m2 0h2m-54 1h1m9 0h1m3 0h1m3 0h1m5 0h1m7 0h1m3 0h1m7 0h1m-43 1h1m7 0h1m3 0h1m5 0h1m2 0h1m2 0h1m3 0h1m2 0h3m3 0h2m1 0h2m6 0h1m1 0h1m7 0h1m1 0h1m-57 1h1m3 0h3m4 0h1m6 0h2m4 0h1m2 0h1m3 0h2m2 0h1m2 0h1m-38 1h1m4 0h1m13 0h2m6 0h1m10 0h1m7 0h1m3 0h1m1 0h1m-62 1h2m12 0h1m2 0h1m11 0h1m4 0h1m5 0h1m1 0h1m9 0h1m-42 1h1m4 0h1m2 0h1m13 0h2m6 0h1m19 0h1m-65 1h1m5 0h2m10 0h1m12 0h2m4 0h1m12 0h1m3 0h1m-54 1h1m8 0h2m3 0h1m1 0h1m8 0h2m5 0h1m4 0h1m4 0h1m2 0h1m16 0h1m-71 1h1m27 0h2m3 0h1m4 0h1m3 0h4m2 0h1m1 0h1m3 0h1m10 0h1m-51 1h1m11 0h1m7 0h1m8 0h1m5 0h1m2 0h1m1 0h2m6 0h1m-38 1h1m2 0h1m6 0h1m14 0h1m4 0h1m1 0h1m11 0h1m-61 1h1m11 0h1m16 0h1m14 0h1m5 0h1m3 0h1m-56 1h1m13 0h1m1 0h1m8 0h2m3 0h1m1 0h1m2 0h1m9 0h1m12 0h1m-47 1h1m2 0h2m1 0h1m2 0h1m2 0h1m7 0h2m5 0h2m3 0h3m2 0h1m-48 1h1m6 0h1m1 0h1m2 0h2m1 0h3m1 0h1m7 0h1m2 0h1m3 0h1m3 0h1m1 0h1m-47 1h1m13 0h3m2 0h1m5 0h1m7 0h1m1 0h2m4 0h4m1 0h1m5 0h1m-47 1h1m10 0h1m2 0h1m7 0h1m14 0h1m7 0h1m4 0h1m-54 1h1m8 0h2m20 0h1m5 0h1m9 0h1m2 0h1m-55 1h2m2 0h1m6 0h1m5 0h1m3 0h1m1 0h1m5 0h1m1 0h1m2 0h1m5 0h1m5 0h1m8 0h1m-47 1h1m10 0h1m11 0h1m7 0h1m5 0h2m7 0h1m3 0h1m4 0h1m-54 1h1m1 0h1m2 0h2m3 0h1m4 0h2m1 0h2m6 0h1m2 0h1m1 0h1m1 0h1m3 0h3m1 0h2m3 0h1m-47 1h1m7 0h1m4 0h1m1 0h1m1 0h1m2 0h1m1 0h1m1 0h1m2 0h1m1 0h1m1 0h1m7 0h1m10 0h1m-57 1h2m8 0h1m15 0h1m3 0h1m1 0h1m1 0h1m1 0h1m5 0h1m2 0h3m5 0h3m-62 1h1m3 0h1m1 0h1m19 0h1m1 0h1m2 0h1m1 0h2m3 0h1m6 0h1m6 0h1m-34 1h1m8 0h1m8 0h1m1 0h1m3 0h1m1 0h2m5 0h1m5 0h1m1 0h1m-58 1h1m8 0h1m1 0h1m18 0h1m1 0h1m4 0h1m11 0h2m-39 1h1m1 0h1m2 0h2m1 0h1m5 0h2m10 0h1m3 0h1m2 0h2m2 0h1m1 0h1m4 0h1m-63 1h1m2 0h1m5 0h1m2 0h1m8 0h1m1 0h1m2 0h1m10 0h1m1 0h2m3 0h1m1 0h1m9 0h1m9 0h1m-64 1h1m8 0h1m5 0h1m7 0h2m19 0h1m7 0h1m3 0h2m-67 1h1m14 0h1m5 0h1m5 0h1m5 0h1m8 0h1m3 0h1m3 0h1m5 0h2m6 0h1m3 0h1m-65 1h1m9 0h1m9 0h1m22 0h1m3 0h1m4 0h1m1 0h1m1 0h1m-56 1h1m9 0h1m3 0h1m2 0h2m1 0h1m13 0h1m1 0h1m1 0h3m3 0h2m3 0h2m4 0h1m1 0h1m-50 1h1m20 0h1m1 0h2m1 0h1m2 0h2m1 0h1m3 0h2m3 0h1m1 0h2m6 0h1m-72 1h1m21 0h1m1 0h1m6 0h2m8 0h1m3 0h1m3 0h1m6 0h1m7 0h3m-62 1h1m15 0h2m15 0h1m5 0h1m3 0h1m4 0h2m1 0h1m15 0h1m-70 1h1m15 0h1m2 0h2m10 0h1m10 0h1m1 0h1m1 0h1m1 0h1m9 0h2m2 0h1m6 0h1m-71 1h1m42 0h1m6 0h1m1 0h2m9 0h1m6 0h1m5 0h1m-83 1h1m18 0h1m18 0h1m10 0h1m11 0h1m2 0h3m6 0h1m4 0h1m-66 1h1m8 0h1m4 0h1m16 0h1m5 0h1m2 0h1m5 0h1m1 0h1m4 0h1m-51 1h2m4 0h2m16 0h3m2 0h2m6 0h1m6 0h1m9 0h1m1 0h2m1 0h1m-52 1h1m11 0h1m3 0h1m14 0h1m6 0h4m1 0h1m1 0h1m-54 1h1m4 0h2m1 0h1m20 0h1m5 0h1m1 0h2m2 0h1m1 0h1m5 0h1m1 0h1m9 0h1m-79 1h1m40 0h1m11 0h1m2 0h1m4 0h1m6 0h1m3 0h1m-57 1h1m18 0h1m3 0h1m3 0h3m6 0h1m1 0h1m2 0h1m2 0h1m1 0h1m3 0h2m4 0h1m-53 1h1m22 0h1m6 0h1m3 0h1m4 0h2m3 0h1m1 0h1m1 0h1m6 0h1m-54 1h1m3 0h1m2 0h1m13 0h1m6 0h1m3 0h1m1 0h1m6 0h2m2 0h1m1 0h1m-67 1h1m25 0h1m12 0h2m8 0h2m3 0h2m3 0h1m1 0h1m1 0h1m9 0h1m-66 1h1m22 0h1m4 0h1m6 0h2m9 0h2m1 0h1m-42 1h1m3 0h1m20 0h3m4 0h1m1 0h1m5 0h2m1 0h1m3 0h1m2 0h1m2 0h1m-61 1h1m2 0h1m3 0h1m23 0h1m5 0h1m1 0h1m9 0h1m5 0h2m-68 1h1m12 0h1m8 0h1m21 0h1m2 0h1m2 0h1m-45 1h1m2 0h1m1 0h1m23 0h1m10 0h1m2 0h1m3 0h1m4 0h1m-26 1h1m3 0h1m2 0h1m2 0h1m4 0h1m2 0h1m1 0h2m9 0h1m1 0h1m-57 1h1m2 0h1m5 0h1m21 0h1m1 0h2m1 0h1m2 0h1m6 0h1m7 0h1m1 0h1m-57 1h2m22 0h1m2 0h1m8 0h1m1 0h2m1 0h3m5 0h2m3 0h1m-55 1h2m18 0h1m2 0h1m4 0h1m5 0h1m1 0h2m14 0h2m1 0h1m-58 1h1m23 0h1m5 0h1m10 0h1m18 0h1m-69 1h1m4 0h1m3 0h1m34 0h1m8 0h1m1 0h2m6 0h1m2 0h1m-79 1h1m10 0h1m2 0h1m2 0h1m1 0h1m4 0h1m4 0h2m9 0h1m8 0h1m1 0h1m6 0h2m1 0h1m7 0h1m1 0h2m3 0h1m-61 1h1m44 0h1m1 0h1m5 0h1m-48 1h2m24 0h1m5 0h3m6 0h1m-51 1h1m22 0h1m6 0h1m5 0h1m2 0h1m9 0h2m3 0h1m-33 1h1m4 0h1m2 0h2m2 0h1m1 0h1m3 0h1m4 0h1m4 0h1m-26 1h1m2 0h1m3 0h1m2 0h1m3 0h1m1 0h1m2 0h1m4 0h1m-63 1h1m3 0h1m2 0h1m19 0h2m3 0h1m2 0h1m3 0h3m6 0h1m2 0h1m10 0h1m-68 1h1m2 0h1m36 0h1m2 0h1m7 0h2m3 0h1m2 0h1m1 0h1m11 0h1m-79 1h1m5 0h1m51 0h1m1 0h1m6 0h1m2 0h1m-81 1h1m1 0h1m12 0h1m16 0h1m11 0h1m3 0h2m4 0h1m8 0h1m7 0h1m2 0h1m3 0h1m-75 1h1m6 0h1m25 0h1m7 0h1m5 0h1m3 0h1m6 0h1m3 0h1m9 0h1m7 0h2m-128 1h1m13 0h1m2 0h1m3 0h1m2 0h1m2 0h1m3 0h1m1 0h1m3 0h1m4 0h1m7 0h1m3 0h1m33 0h1m1 0h1m12 0h1m7 0h2m1 0h1m5 0h1m-139 1h1m8 0h1m3 0h1m8 0h2m1 0h1m1 0h1m3 0h1m1 0h1m11 0h1m55 0h1m2 0h1m15 0h1m3 0h1m2 0h3m-143 1h1m4 0h1m5 0h2m3 0h1m17 0h2m4 0h3m66 0h1m2 0h1m6 0h1m5 0h1m4 0h1m2 0h1m7 0h2m4 0h1m1 0h1m-152 1h2m3 0h1m7 0h1m1 0h1m1 0h1m5 0h1m6 0h1m5 0h1m3 0h2m5 0h1m19 0h1m1 0h1m10 0h1m13 0h1m3 0h2m2 0h1m6 0h1m1 0h2m9 0h1m3 0h1m3 0h1m4 0h1m3 0h1m4 0h1m-144 1h1m12 0h2m9 0h1m4 0h2m5 0h1m4 0h1m3 0h1m3 0h1m3 0h1m2 0h1m2 0h1m10 0h1m16 0h1m2 0h1m17 0h1m1 0h1m5 0h1m4 0h1m2 0h1m3 0h1m6 0h1m2 0h2m9 0h1m-136 1h1m4 0h1m2 0h1m1 0h1m1 0h1m7 0h2m2 0h1m1 0h1m13 0h1m7 0h1m9 0h1m3 0h1m7 0h2m10 0h1m1 0h1m8 0h1m9 0h1m2 0h1m6 0h1m2 0h2m4 0h1m-88 1h1m1 0h1m5 0h1m5 0h2m5 0h2m11 0h1m1 0h1m3 0h3m1 0h1m4 0h1m1 0h1m2 0h1m6 0h1m4 0h1m3 0h1m1 0h1m3 0h1m7 0h1m3 0h1m3 0h1m-27 1h1m1 0h2m4 0h2m5 0h1m1 0h2m5 0h1m-15 1h1m-10 1h1m2 0h1m5 0h1m3 2h1"/><path stroke="#3a8fd0" d="M0 0m200 74h1m-5 1h1m10 0h1m-7 1h1m6 0h1m-9 1h1m2 0h4m9 0h1m-29 1h1m3 0h1m2 0h1m12 0h1m1 0h1m1 0h1m-27 1h1m6 0h1m2 0h1m6 0h1m-21 1h1m24 0h1m-35 1h1m10 0h1m1 0h1m3 0h1m8 0h1m1 0h1m3 0h1m3 0h1m-26 1h1m5 0h2m2 0h1m10 0h1m-25 1h1m1 0h1m1 0h1m9 0h1m1 0h1m2 0h1m9 0h1m-34 1h1m11 0h1m7 0h1m1 0h1m4 0h1m3 0h1m1 0h2m-43 1h2m12 0h2m7 0h1m8 0h1m3 0h2m2 0h1m-40 1h1m8 0h1m1 0h1m10 0h1m2 0h1m2 0h2m8 0h1m-29 1h1m4 0h1m4 0h2m3 0h1m5 0h1m6 0h1m2 0h1m-48 1h1m16 0h1m20 0h1m2 0h1m1 0h1m5 0h1m-49 1h1m3 0h1m2 0h1m7 0h1m12 0h1m1 0h1m5 0h3m1 0h1m-35 1h1m5 0h1m4 0h1m12 0h3m4 0h1m7 0h1m2 0h1m2 0h1m-51 1h1m5 0h1m7 0h1m11 0h1m13 0h1m6 0h1m2 0h1m-53 1h2m1 0h1m3 0h2m6 0h1m2 0h1m1 0h1m10 0h1m13 0h1m-57 1h1m8 0h1m1 0h2m6 0h1m2 0h1m6 0h1m1 0h1m4 0h1m24 0h1m-59 1h1m4 0h1m1 0h1m13 0h1m12 0h1m19 0h1m-50 1h1m17 0h1m2 0h1m1 0h1m-26 1h2m3 0h1m6 0h1m12 0h1m5 0h1m-36 1h1m2 0h2m1 0h1m9 0h2m5 0h1m33 0h1m-62 1h1m13 0h1m1 0h2m7 0h1m1 0h2m3 0h1m2 0h1m19 0h2m-58 1h1m5 0h1m1 0h1m5 0h1m1 0h1m3 0h1m1 0h1m3 0h1m2 0h3m2 0h1m22 0h1m3 0h1m-60 1h1m1 0h1m2 0h1m4 0h2m2 0h1m3 0h1m3 0h2m-30 1h1m8 0h2m5 0h1m9 0h2m4 0h1m25 0h1m-62 1h1m10 0h1m12 0h1m2 0h1m5 0h1m-16 1h1m10 0h1m1 0h1m3 0h1m5 0h1m-37 1h1m9 0h1m7 0h1m5 0h1m2 0h1m2 0h1m5 0h1m-26 1h1m7 0h1m8 0h1m24 0h1m-55 1h3m5 0h3m4 0h2m-22 1h1m2 0h2m14 0h3m4 0h1m11 0h1m17 0h1m1 0h1m-44 1h1m6 0h1m2 0h3m5 0h1m1 0h2m14 0h1m-41 1h2m1 0h1m2 0h1m5 0h1m8 0h1m11 0h1m-24 1h1m5 0h1m2 0h1m10 0h2m-35 1h2m3 0h1m3 0h1m1 0h1m2 0h1m2 0h2m8 0h1m3 0h1m-29 1h1m3 0h1m6 0h1m3 0h1m9 0h1m1 0h1m-22 1h1m3 0h1m4 0h1m3 0h1m8 0h1m2 0h2m6 0h1m3 0h1m-45 1h1m1 0h1m15 0h1m1 0h1m-23 1h1m1 0h1m8 0h1m8 0h1m4 0h1m1 0h1m21 0h1m6 0h1m-46 1h1m2 0h1m5 0h1m2 0h2m7 0h3m-34 1h1m3 0h1m1 0h1m10 0h1m-1 1h1m1 0h1m7 0h1m6 0h1m14 0h1m-35 1h1m1 0h1m2 0h1m1 0h1m10 0h1m2 0h1m-25 1h1m10 0h1m9 0h1m10 1h1m1 0h1m-37 1h1m1 0h1m10 0h1m4 0h1m4 0h1m2 0h1m-46 1h1m10 0h1m23 0h1m15 0h1m-24 1h1m1 0h2m-13 1h2m14 0h1m1 0h1m1 0h2m1 0h1m-21 1h1m5 0h1m1 0h1m4 0h1m4 0h1m9 0h1m-23 1h2m3 0h1m-10 1h1m9 0h1m4 0h1m14 0h1m1 0h1m-35 1h1m1 0h2m7 0h1m3 0h1m4 0h1m-15 1h1m1 0h1m6 0h2m9 0h1m1 0h1m-37 1h1m17 0h1m5 0h2m13 0h1m-39 1h1m14 0h1m8 0h1m-17 1h1m3 0h1m3 0h1m15 0h1m3 0h1m-35 1h1m6 0h1m2 0h1m3 0h1m3 0h1m6 0h1m-32 1h1m9 0h3m2 0h1m1 0h1m4 0h1m5 0h1m11 0h1m-39 1h1m7 0h2m1 0h1m2 0h1m2 0h1m8 0h1m4 0h1m-33 1h1m3 0h1m1 0h1m5 0h1m6 0h1m5 0h1m-17 1h1m2 0h2m9 0h1m10 0h2m-40 1h1m6 0h2m12 0h2m-15 1h2m5 0h1m1 0h2m13 0h1m4 0h1m6 0h1m-41 1h1m3 0h1m6 0h1m16 0h1m-25 1h1m17 0h1m8 0h1m2 0h1m-34 1h1m1 0h1m2 0h2m4 0h1m2 0h1m9 0h1m7 0h1m-40 1h1m6 0h1m18 0h2m4 0h1m5 0h1m-34 1h1m8 0h1m1 0h1m3 0h1m5 0h1m2 0h1m-37 1h1m20 0h2m3 0h1m2 0h1m4 0h3m11 0h1m-43 1h1m2 0h1m12 0h1m1 0h1m4 0h1m1 0h1m5 0h1m-32 1h1m2 0h1m14 0h2m1 0h1m4 0h1m-31 1h1m3 0h1m1 0h1m5 0h1m3 0h1m4 0h1m1 0h2m-7 1h2m3 0h1m12 0h1m-30 1h1m17 0h1m12 0h1m7 0h1m-41 1h1m9 0h2m7 0h1m9 0h1m2 0h1m-35 1h1m2 0h2m10 0h1m8 0h1m7 0h1m6 0h1m2 0h1m7 0h1m-48 1h1m6 0h1m3 0h1m17 0h1m11 0h1m-46 1h1m8 0h1m1 0h1m7 0h1m1 0h1m2 0h1m9 0h1m6 0h1m-47 1h1m2 0h1m3 0h1m8 0h1m6 0h1m4 0h1m4 0h1m-32 1h1m6 0h1m13 0h1m6 0h1m3 0h1m5 0h1m-32 1h1m1 0h2m11 0h1m13 0h1m-43 1h1m5 0h2m6 0h1m19 0h1m-26 1h1m4 0h1m4 0h1m1 0h1m1 0h1m2 0h1m3 0h1m4 0h1m8 0h1m-45 1h1m7 0h1m8 0h3m2 0h1m16 0h1m-41 1h1m2 0h2m7 0h1m8 0h1m4 0h1m6 0h1m14 0h1m-48 1h2m3 0h1m6 0h1m6 0h1m3 0h1m1 0h1m4 0h1m6 0h1m-36 1h1m3 0h1m8 0h1m12 0h1m7 0h2m-40 1h1m1 0h1m1 0h1m25 0h1m5 0h1m4 0h1m-44 1h1m1 0h1m6 0h1m5 0h1m4 0h1m7 0h1m9 0h1m3 0h1m-40 1h1m12 0h2m3 0h1m8 0h1m2 0h1m3 0h1m1 0h2m-44 1h1m1 0h1m1 0h1m5 0h1m6 0h1m13 0h1m1 0h1m4 0h1m5 0h1m-44 1h1m6 0h1m7 0h1m1 0h1m1 0h1m2 0h1m6 0h1m1 0h2m9 0h1m9 0h1m-51 1h1m3 0h1m12 0h1m7 0h1m5 0h1m8 0h1m-33 1h1m16 0h1m8 0h1m10 0h1m1 0h1m-47 1h1m13 0h1m2 0h1m1 0h2m1 0h1m7 0h1m2 0h2m1 0h2m-41 1h2m1 0h1m23 0h1m16 0h1m-47 1h1m2 0h1m1 0h1m19 0h1m10 0h1m3 0h2m-35 1h1m1 0h1m18 0h1m4 0h1m-40 1h2m3 0h1m14 0h1m3 0h4m6 0h1m1 0h1m-13 1h1m2 0h2m10 0h1m-41 1h1m6 0h1m3 0h1m17 0h2m4 0h1m7 0h1m-48 1h1m7 0h1m6 0h1m8 0h1m3 0h1m7 0h2m7 0h1m-20 1h1m8 0h1m4 0h1m-37 1h1m20 0h1m6 0h1m-42 1h1m3 0h2m14 0h1m11 0h1m5 0h1m1 0h1m1 0h2m5 0h1m-53 1h2m28 0h1m4 0h2m5 0h3m18 0h1m-66 1h2m4 0h1m15 0h1m4 0h1m3 0h1m8 0h1m1 0h1m6 0h1m3 0h1m-55 1h1m5 0h1m10 0h1m3 0h1m3 0h1m1 0h1m3 0h1m7 0h2m1 0h1m5 0h1m-56 1h1m5 0h1m25 0h1m6 0h1m5 0h1m1 0h1m9 0h1m4 0h1m-78 1h1m1 0h1m4 0h1m44 0h1m4 0h1m3 0h1m10 0h1m2 0h1m-94 1h1m11 0h1m3 0h1m12 0h1m8 0h1m14 0h1m22 0h2m-100 1h1m11 0h2m6 0h1m2 0h1m1 0h1m2 0h1m3 0h3m5 0h1m8 0h1m32 0h1m3 0h1m3 0h1m11 0h1m4 0h1m1 0h1m-124 1h1m3 0h1m2 0h1m22 0h2m7 0h1m7 0h1m13 0h1m8 0h1m21 0h2m1 0h2m2 0h2m13 0h1m4 0h2m2 0h1m7 0h1m-129 1h1m1 0h1m2 0h1m2 0h1m2 0h1m1 0h1m3 0h1m6 0h2m2 0h2m3 0h1m3 0h1m8 0h1m1 0h1m7 0h1m24 0h1m19 0h1m12 0h1m5 0h1m4 0h1m-120 1h2m1 0h1m3 0h2m8 0h1m1 0h1m6 0h1m6 0h1m6 0h2m2 0h1m8 0h1m2 0h1m11 0h1m6 0h1m5 0h1m6 0h1m23 0h1m-111 1h1m4 0h1m6 0h1m1 0h1m19 0h1m6 0h1m17 0h1m16 0h1m9 0h1m4 0h1m-38 1h1m5 0h1m28 2h1m4 1h1"/><path stroke="#55c4bc" d="M0 0m201 75h1m-9 1h1m-3 2h1m7 0h1m13 0h1m-9 1h1m-13 1h1m9 0h1m1 0h1m-12 1h1m1 0h2m6 0h2m-17 1h1m3 0h1m10 0h1m5 0h1m-16 1h1m1 0h1m1 0h1m-20 1h1m12 0h1m1 0h3m1 0h1m7 0h1m-33 1h1m3 0h1m10 0h1m3 0h1m14 0h1m4 0h1m-40 1h2m4 0h1m5 0h2m-11 1h1m10 0h1m8 0h2m3 0h1m2 0h1m-19 1h1m3 0h1m-26 1h1m3 0h1m3 0h1m6 0h1m3 0h1m10 0h2m1 0h1m14 0h1m-36 1h1m4 0h1m1 0h1m1 0h1m10 0h1m1 0h1m2 0h1m2 0h2m-40 1h1m3 0h1m2 0h3m6 0h1m2 0h1m8 0h2m3 0h1m4 0h1m2 0h2m-38 1h2m4 0h1m6 0h1m4 0h1m5 0h2m5 0h2m1 0h1m1 0h2m-46 1h1m6 0h1m14 0h1m3 0h1m3 0h1m1 0h1m2 0h1m1 0h1m1 0h1m-47 1h1m7 0h1m8 0h1m6 0h3m2 0h1m4 0h1m1 0h1m11 0h3m2 0h1m-48 1h1m2 0h1m3 0h1m1 0h2m2 0h1m4 0h1m8 0h1m3 0h1m11 0h1m-53 1h1m4 0h1m3 0h1m1 0h1m8 0h1m3 0h1m12 0h1m15 0h1m-57 1h1m8 0h1m1 0h1m1 0h2m5 0h1m2 0h1m9 0h1m-31 1h1m3 0h1m2 0h1m5 0h1m2 0h1m1 0h1m13 0h1m4 0h1m-37 1h1m3 0h1m44 0h1m2 0h1m-52 1h1m14 0h1m4 0h1m1 0h1m3 0h1m19 0h1m-48 1h1m8 0h1m15 0h1m22 0h1m-53 1h1m5 0h1m4 0h3m1 0h2m12 0h1m20 0h1m-57 1h1m8 0h1m2 0h1m4 0h1m4 0h1m13 0h1m17 0h1m-47 1h1m3 0h1m2 0h1m-14 1h1m2 0h1m1 0h3m3 0h1m8 0h1m26 0h1m-52 1h1m6 0h1m14 0h1m6 0h1m3 0h1m7 0h1m-33 1h1m1 0h1m2 0h1m11 0h1m5 0h2m12 0h2m1 0h1m-48 1h1m4 0h1m13 0h1m3 0h1m-29 1h1m3 0h1m11 0h1m1 0h1m2 0h1m4 0h2m2 0h1m5 0h2m4 0h1m-24 1h1m14 0h1m1 0h1m7 0h1m7 0h2m-31 1h1m19 0h1m-9 1h1m9 0h1m5 0h1m-46 1h1m21 0h1m7 0h2m-25 1h1m5 0h1m18 0h2m2 0h1m11 0h1m-38 1h1m11 0h1m2 0h1m3 0h1m4 0h1m-8 1h1m1 0h1m6 0h1m4 0h1m-13 1h1m-7 1h1m3 0h2m-34 1h1m31 0h1m-10 1h1m7 0h1m2 0h1m-6 1h2m6 0h1m6 0h2m5 1h1m-25 1h1m8 0h2m-8 1h1m4 0h1m-9 1h1m3 0h1m5 1h1m-13 1h1m3 0h1m7 0h1m3 0h1m-18 1h1m19 0h1m-20 1h1m1 0h1m1 0h1m3 0h1m10 0h1m-23 1h1m24 1h1m-23 1h1m3 0h2m3 0h1m7 0h1m-28 1h1m3 0h1m4 0h1m1 0h1m9 0h1m1 0h1m-20 1h1m7 0h1m-1 1h1m11 0h1m5 0h1m-34 1h2m7 0h1m1 0h1m22 0h1m-26 1h1m7 1h1m6 0h1m2 0h1m-23 1h2m-3 1h1m-6 1h1m1 0h1m5 0h1m8 0h1m-14 1h2m22 0h1m-35 1h1m1 0h1m6 0h1m-3 1h1m3 0h1m36 0h1m-43 1h1m5 0h1m7 0h1m13 0h1m-32 1h1m1 0h1m1 0h1m2 0h1m8 0h1m3 0h1m-18 1h1m10 0h1m2 0h1m4 0h1m5 0h1m-28 1h1m5 0h1m16 0h1m5 0h1m-29 1h1m2 1h1m5 0h2m10 0h1m17 0h1m-51 1h1m11 0h1m7 0h1m8 0h1m-29 1h1m2 0h1m7 0h1m11 0h1m1 0h1m4 0h1m1 0h1m-21 1h1m3 0h1m12 0h1m-26 1h2m3 0h1m26 0h1m-34 1h4m11 0h1m14 0h1m-35 1h1m1 0h1m1 0h1m3 0h1m2 0h1m3 0h1m3 0h1m9 0h1m6 0h1m4 0h1m-38 1h1m5 0h1m2 0h1m8 0h1m2 0h2m4 0h1m-37 1h1m3 0h2m2 0h1m1 0h1m5 0h1m1 0h1m12 0h1m1 0h1m4 0h1m-38 1h1m2 0h1m2 0h1m-9 1h1m2 0h1m8 0h1m4 0h1m2 0h1m6 0h1m-18 1h2m1 0h1m11 0h1m5 0h1m-25 1h1m1 0h1m5 0h1m5 0h1m6 0h1m1 0h1m-3 1h1m-29 1h1m3 0h1m4 0h1m9 0h1m3 0h1m7 0h1m2 0h1m9 0h1m-36 1h1m2 0h1m5 0h2m4 0h1m5 0h1m-31 1h1m3 0h1m10 1h1m26 0h1m-42 1h1m2 0h1m1 0h1m6 0h3m2 0h1m2 0h1m7 0h1m2 0h1m6 0h1m-45 1h1m1 0h2m6 0h1m4 0h1m8 0h1m14 0h1m-37 1h2m2 0h1m5 0h1m9 0h1m3 0h1m9 0h1m-40 1h1m1 0h2m5 0h1m3 0h3m15 0h1m-19 1h1m1 0h1m1 0h1m7 0h1m-27 1h1m7 0h1m1 0h1m4 0h1m1 0h1m3 0h1m4 0h1m-30 1h1m3 0h2m4 0h2m6 0h1m3 0h1m-19 1h3m1 0h1m2 0h1m1 0h1m2 0h1m1 0h3m5 0h1m6 0h1m-31 1h1m1 0h1m4 0h3m6 0h1m7 0h1m-31 1h1m4 0h1m4 0h1m2 0h1m22 0h1m7 0h1m7 0h1m-52 1h1m1 0h1m10 0h1m2 0h1m1 0h1m6 0h2m4 0h1m5 0h1m-39 1h1m1 0h1m3 0h1m4 0h2m1 0h2m11 0h1m5 0h1m7 0h1m-52 1h1m6 0h1m9 0h1m4 0h1m6 0h2m2 0h1m2 0h2m10 0h1m2 0h1m-51 1h1m6 0h1m7 0h2m8 0h1m4 0h1m-35 1h1m1 0h1m2 0h1m2 0h1m1 0h1m2 0h1m15 0h1m2 0h1m2 0h1m-33 1h1m-5 1h1m10 0h1m2 0h1m1 0h1m1 0h2m3 0h2m3 0h1m4 0h1m2 0h1m19 0h1m-68 1h1m3 0h1m7 0h2m4 0h1m15 0h1m15 0h1m9 0h1m2 0h1m5 0h1m-56 1h1m6 0h1m3 0h1m2 0h1m10 0h1m-54 1h1m10 0h1m1 0h3m18 0h1m5 0h4m7 0h1m14 0h1m-80 1h1m5 0h1m5 0h1m10 0h1m24 0h1m1 0h1m14 0h1m7 0h1m-85 1h1m7 0h1m8 0h4m1 0h1m3 0h1m2 0h1m6 0h1m18 0h4m2 0h2m1 0h1m9 0h2m2 0h1m12 0h1m-103 1h1m10 0h2m1 0h3m1 0h1m1 0h1m1 0h1m8 0h1m6 0h1m2 0h1m9 0h4m3 0h1m21 0h1m3 0h1m9 0h1m-107 1h1m7 0h1m7 0h1m2 0h1m4 0h1m2 0h1m3 0h1m3 0h1m7 0h1m1 0h1m1 0h2m27 0h3m4 0h1m-73 1h3m6 0h2m2 0h1m10 0h1m1 0h1m9 0h1m8 0h1m5 0h1m3 0h1m1 0h1m3 0h1m35 0h1m-85 1h1m9 0h1m6 0h1m3 0h1m5 0h1m4 0h1m10 0h1m6 0h1m22 0h1m-47 1h1m45 0h1m4 1h1"/><path stroke="#58b040" d="M0 0m199 76h1m0 2h1m5 1h1m-9 2h2m-19 1h1m8 1h4m-5 1h1m-3 1h1m1 0h1m7 0h1m6 0h1m-26 1h1m4 0h1m4 0h1m5 0h1m7 0h1m-27 1h1m12 0h1m-15 1h1m3 0h2m9 0h1m4 0h1m1 0h1m10 0h1m-36 1h1m3 0h1m5 0h2m3 0h1m1 0h1m1 0h1m7 0h1m-28 1h1m2 0h1m1 0h1m11 0h1m1 0h1m-25 1h1m15 0h1m1 0h1m4 0h1m1 0h1m1 0h1m3 0h1m4 0h1m-29 1h1m1 0h1m4 0h1m5 0h3m1 0h1m3 0h1m5 0h2m-37 1h1m8 0h2m8 0h1m2 0h1m2 0h1m1 0h1m1 0h1m2 0h1m3 0h1m3 0h1m1 0h1m-33 1h3m5 0h1m5 0h1m3 0h2m1 0h1m5 0h1m-25 1h1m6 0h1m5 0h1m2 0h1m-32 1h1m8 0h1m3 0h1m3 0h1m2 0h1m2 0h1m2 0h1m2 0h1m5 0h1m4 0h1m4 0h1m-49 1h1m4 0h1m5 0h1m5 0h1m1 0h4m3 0h1m12 0h1m4 0h1m1 0h1m-44 1h1m3 0h2m9 0h2m2 0h1m1 0h1m2 0h1m18 0h1m-50 1h1m2 0h1m4 0h1m6 0h1m2 0h1m7 0h1m1 0h2m-35 1h1m3 0h1m4 0h2m1 0h1m11 0h1m1 0h3m19 0h1m-45 1h1m5 0h1m2 0h1m5 0h1m2 0h1m24 0h1m-45 1h1m2 0h1m12 0h1m4 0h2m-31 1h1m2 0h2m3 0h1m6 0h2m6 0h1m5 0h1m2 0h1m16 0h2m-36 1h1m1 0h1m1 0h1m6 0h1m2 0h1m1 0h1m1 0h1m6 0h1m7 0h1m1 0h1m-48 1h1m4 0h1m3 0h1m8 0h2m2 0h1m3 0h2m7 0h1m1 0h2m1 0h1m3 0h1m-33 1h1m14 0h2m5 0h1m2 0h1m2 0h1m-43 1h1m20 0h1m2 0h1m3 0h1m1 0h1m2 0h2m1 0h1m7 0h1m-25 1h2m3 0h1m4 0h1m2 0h2m1 0h2m3 0h1m-36 1h1m6 0h1m12 0h1m3 0h3m1 0h1m-32 1h1m19 0h2m3 0h1m-17 1h1m15 0h1m3 0h1m-15 1h1m9 0h1m3 1h1m-7 1h1m-6 1h1m8 0h1m-37 3h1m34 0h1m-1 1h1m-9 2h1m-4 4h1m4 0h1m-4 1h1m2 2h1m11 2h1m-22 1h1m5 0h1m-6 4h1m2 0h1m3 0h1m-3 1h1m10 0h1m-19 1h1m5 0h1m11 0h1m-18 1h1m-3 2h1m17 0h1m1 0h1m-24 1h1m1 0h1m1 0h1m1 0h1m9 0h1m14 0h1m-38 1h2m-2 1h1m4 0h1m7 0h1m-14 1h1m3 0h1m2 0h2m-13 1h1m5 0h1m6 0h1m-8 2h1m19 0h1m7 0h1m-31 1h1m1 0h1m3 0h1m1 0h1m6 0h1m13 0h1m-36 1h1m1 0h1m5 0h1m1 0h1m-5 1h1m-7 1h2m3 0h1m3 0h2m24 0h1m-34 1h1m6 0h1m3 0h1m18 0h1m-36 1h2m7 0h1m3 0h1m-7 1h1m7 0h1m12 0h1m-23 1h2m3 0h1m26 0h1m-42 1h1m7 0h1m9 0h1m4 0h1m-26 1h1m4 0h2m8 0h1m21 0h1m-33 1h1m5 0h1m16 0h1m3 0h1m-25 1h3m1 0h1m-8 1h1m1 0h2m1 0h1m2 0h1m1 0h1m-14 1h1m1 0h1m7 0h1m20 0h1m-33 1h2m6 0h1m-7 1h1m3 0h1m15 0h1m8 0h1m-29 1h1m22 0h1m-28 1h1m3 0h1m3 0h1m1 0h1m-12 1h1m4 0h1m-7 1h1m2 0h2m1 0h1m2 0h1m-12 1h1m7 0h1m-12 1h1m3 0h1m3 0h1m7 0h1m-16 1h1m6 0h1m4 0h4m1 0h1m9 0h1m-25 1h2m7 0h1m16 0h2m-28 1h1m1 0h1m1 0h1m2 0h1m4 0h2m8 0h1m-24 1h1m3 0h4m1 0h1m1 0h2m7 0h1m3 0h1m-22 1h1m2 0h1m2 0h2m-14 1h1m7 0h1m11 0h1m19 0h1m-44 1h1m1 0h2m10 0h1m1 0h1m8 0h1m13 0h1m-43 1h1m2 0h1m1 0h1m6 0h1m1 0h1m4 0h1m2 0h1m15 0h1m-47 1h2m4 0h1m2 0h1m3 0h1m2 0h2m2 0h1m1 0h1m4 0h2m-27 1h1m8 0h2m7 0h2m3 0h1m13 0h1m-40 1h1m2 0h1m1 0h1m6 0h1m4 0h1m1 0h1m-14 1h3m3 0h1m1 0h1m4 0h1m-23 1h1m4 0h2m1 0h2m1 0h2m2 0h1m3 0h1m1 0h1m25 0h1m-50 1h2m4 0h1m2 0h2m2 0h1m3 0h1m6 0h1m8 0h1m-37 1h1m1 0h1m3 0h2m15 0h1m3 0h1m-34 1h1m2 0h1m9 0h1m6 0h1m5 0h1m5 0h2m-36 1h1m1 0h4m1 0h1m2 0h1m10 0h1m2 0h1m-25 1h2m2 0h1m5 0h1m6 0h1m-34 1h1m8 0h1m2 0h2m2 0h1m1 0h1m5 0h1m1 0h3m1 0h1m2 0h1m2 0h2m2 0h1m20 0h2m-66 1h2m1 0h2m6 0h1m9 0h3m1 0h2m8 0h1m-84 1h1m5 0h1m2 0h1m5 0h1m10 0h1m7 0h1m6 0h1m3 0h1m9 0h2m2 0h2m1 0h2m4 0h2m3 0h1m1 0h1m2 0h1m2 0h1m-69 1h1m2 0h1m20 0h1m13 0h1m6 0h2m2 0h1m1 0h1m1 0h1m3 0h2m2 0h1m5 0h1m1 0h1m-87 1h1m13 0h1m18 0h1m16 0h1m2 0h1m4 0h2m5 0h1m2 0h1m1 0h1m4 0h1m2 0h1m2 0h2m5 0h1m-62 1h1"/><path stroke="#a4cc28" d="M0 0m198 82h1m-4 3h1m-12 3h1m8 0h1m7 0h2m-22 2h1m4 0h1m1 0h1m3 0h1m11 0h1m-21 1h1m12 0h1m11 0h2m-29 1h1m3 0h1m2 0h1m5 0h1m1 0h1m4 0h1m-3 1h1m2 0h1m3 0h1m2 0h1m1 0h1m-47 1h1m8 0h1m14 0h1m8 0h1m3 0h1m1 0h1m-32 1h1m12 0h1m13 0h1m1 0h3m4 0h1m-41 1h1m4 0h1m10 0h1m5 0h1m5 0h1m-23 1h1m1 0h1m12 0h1m3 0h1m3 0h1m6 0h2m-45 1h1m28 0h1m6 0h1m6 0h1m-41 1h1m1 0h1m14 0h1m7 0h1m12 0h1m-36 1h2m20 0h1m1 0h1m8 0h2m-36 1h1m3 0h1m3 0h1m15 0h1m9 0h1m-31 1h1m6 0h1m2 0h1m2 0h2m12 0h1m1 0h2m-35 1h1m3 0h1m5 0h1m8 0h1m8 0h2m1 0h1m-29 1h2m23 0h1m-15 1h1m12 0h1m-34 1h1m14 0h1m2 0h1m11 0h2m-11 1h2m4 0h1m-30 1h1m5 0h1m8 0h1m4 0h1m2 0h2m2 0h1m2 0h1m-1 1h1m-10 1h2m-6 1h1m3 0h1m-6 2h1m1 0h1m-5 4h1m1 11h1m-13 2h1m10 0h1m-12 7h1m-4 2h1m1 3h1m-2 4h1m0 1h1m-6 2h1m-4 2h1m0 2h1m1 0h1m-7 1h1m4 0h1m3 5h1m-7 3h1m-11 1h1m1 0h1m1 0h1m-2 1h1m1 0h1m7 0h1m-17 1h3m3 0h1m4 0h1m9 0h1m-18 1h1m-6 1h1m4 0h2m1 0h1m2 0h1m-4 1h2m-7 1h3m11 0h1m-18 1h1m-6 1h2m3 0h1m1 0h1m-10 1h1m6 0h1m1 0h1m3 0h1m-14 1h1m1 0h1m2 0h1m2 1h1m1 0h1m-15 1h1m5 0h1m4 0h1m17 0h1m-25 1h2m1 1h2m-1 1h1m5 0h1m15 0h1m-29 1h1m8 0h1m-21 1h1m1 0h1m4 0h1m3 0h1m12 0h1m-28 1h1m4 0h2m3 0h1m-18 1h1m7 0h1m12 0h1m3 0h1m1 0h1m-14 1h1m3 0h1m5 0h1m-24 1h1m1 0h1m1 0h1m4 0h2m1 0h1m11 0h1m-31 1h2m5 0h2m2 0h1m3 0h2m3 0h1m-26 1h1m7 0h1m4 0h1m6 0h1m-16 1h1m1 0h1m2 0h1m2 0h2m3 0h1m3 0h1m-52 1h1m5 0h1m11 0h1m4 0h1m12 0h2m2 0h1m5 0h1m-70 1h1m17 0h1m15 0h1m8 0h3m3 0h1m3 0h1m1 0h1m-61 1h1m31 0h1m2 0h1m2 0h2m1 0h1m20 0h1m1 0h1m3 0h1m5 0h1m-53 1h1m14 0h1m6 0h1m3 0h2m2 0h2m1 0h1m3 0h1m37 0h1m-64 1h1m15 0h1m-9 1h1"/><path stroke="#f2e51f" d="M0 0m198 86h1m-10 2h1m-8 3h2m-3 2h1m26 0h1m-26 1h1m4 0h1m15 0h1m-35 1h1m1 0h1m26 0h1m7 0h1m-29 1h1m17 0h1m6 0h2m-17 1h1m2 0h1m1 0h1m1 0h1m5 0h1m-2 1h1m1 0h1m5 0h1m-40 1h1m32 0h1m1 0h1m-52 1h1m43 0h1m-17 1h1m2 0h4m7 0h1m7 0h1m-48 1h1m18 0h1m15 0h1m7 0h1m-37 1h1m27 0h1m-18 1h1m7 0h1m10 0h2m-17 1h1m3 0h1m3 0h1m8 0h1m-14 1h2m4 0h2m-4 1h1m-32 1h1m24 1h1m-19 1h1m12 4h1m-5 14h1m-20 25h1m0 2h1m-1 1h1m-7 6h1m0 2h1m-9 2h1m2 0h1m0 4h1m-12 4h1m6 2h1m-7 2h1m-10 2h3m5 0h1m-15 1h2m11 0h1m3 0h1m-11 1h1m-11 1h1m5 0h1m5 0h1m0 1h1m-18 1h1m10 0h1m-13 1h1m8 0h1m1 0h1m-23 1h1m8 0h1m6 0h1m-19 1h1m5 0h1m2 0h1m2 0h1m-40 1h1m19 0h1m5 0h1m5 0h1m10 0h1m-43 1h1m11 0h1m25 0h1m2 0h1m-9 1h1"/><path stroke="#f49a1d" d="M0 0m202 94h1m4 0h1m-6 1h1m3 0h1m-8 1h1m1 0h1m4 0h1m-14 1h1m3 0h1m2 0h2m-9 1h1m1 0h1m4 0h1m-6 1h1m10 0h1m-21 1h1m1 0h1m1 0h1m5 0h1m4 0h1m-4 1h2m-10 1h1m-5 1h1m2 0h2m3 0h2m-10 1h1m-3 1h2m4 0h1m2 0h1m-9 1h1m-34 59h1m-10 3h1m-8 4h1m4 2h1m-23 9h1m11 0h1m-12 1h1m-1 1h1m-5 1h1m-15 1h1m15 0h1m-10 2h1"/><path stroke="#e4281b" d="M0 0m201 94h1m-2 2h1m2 0h1m4 0h1m-11 1h1m5 0h2m-21 1h1m10 0h3m3 0h1m1 0h2m-18 1h1m3 0h3m1 0h7m-11 1h1m1 0h2m1 0h1m1 0h2m-12 1h3m1 0h3m1 0h1m2 0h1m-14 1h3m1 0h1m1 0h6m-11 1h1m2 0h1m1 0h1m4 0h1m-12 1h4m1 0h2m-8 1h1m1 0h1m-42 56h1m-5 9h1m-22 13h1m-6 3h1m1 0h1m-14 1h1m6 0h1m-11 1h1m3 0h1m-6 1h1m-9 1h1"/></g>
<rect x="518.7" y="683" width="357.4" height="355.6" fill="none" stroke="#000" stroke-width="1.5"/><rect x="710.65" y="683" width="2.5" height="355.6" fill="#000"/><rect x="518.7" y="832.75" width="357.4" height="2.5" fill="#000"/><path d="M518.8 1038.6v9.5M585.3 1038.6v9.5M654.4 1038.6v9.5M721.5 1038.6v9.5M789.5 1038.6v9.5M858.1 1038.6v9.5" stroke="#000" stroke-width="2.2" fill="none"/><path d="M538.82 1038.6v5.2M550.53 1038.6v5.2M558.84 1038.6v5.2M565.28 1038.6v5.2M570.55 1038.6v5.2M575 1038.6v5.2M578.86 1038.6v5.2M582.26 1038.6v5.2M606.1 1038.6v5.2M618.27 1038.6v5.2M626.9 1038.6v5.2M633.6 1038.6v5.2M639.07 1038.6v5.2M643.7 1038.6v5.2M647.7 1038.6v5.2M651.24 1038.6v5.2M674.6 1038.6v5.2M686.41 1038.6v5.2M694.8 1038.6v5.2M701.3 1038.6v5.2M706.61 1038.6v5.2M711.11 1038.6v5.2M715 1038.6v5.2M718.43 1038.6v5.2M741.97 1038.6v5.2M753.94 1038.6v5.2M762.44 1038.6v5.2M769.03 1038.6v5.2M774.41 1038.6v5.2M778.97 1038.6v5.2M782.91 1038.6v5.2M786.39 1038.6v5.2M810.15 1038.6v5.2M822.23 1038.6v5.2M830.8 1038.6v5.2M837.45 1038.6v5.2M842.88 1038.6v5.2M847.47 1038.6v5.2M851.45 1038.6v5.2M854.96 1038.6v5.2" stroke="#000" stroke-width="1.3" fill="none"/><path d="M518.7 726.7h-10M518.7 791.1h-10M518.7 869.3h-10M518.7 1018.1h-10" stroke="#000" stroke-width="2.2" fill="none"/><path d="M518.7 683.4h-5.2M518.7 707.31h-5.2M518.7 695.97h-5.2M518.7 687.93h-5.2M518.7 771.71h-5.2M518.7 760.37h-5.2M518.7 752.33h-5.2M518.7 746.09h-5.2M518.7 740.99h-5.2M518.7 736.68h-5.2M518.7 732.94h-5.2M518.7 729.65h-5.2M518.7 845.76h-5.2M518.7 831.99h-5.2M518.7 822.22h-5.2M518.7 814.64h-5.2M518.7 808.45h-5.2M518.7 803.21h-5.2M518.7 798.68h-5.2M518.7 794.68h-5.2M518.7 923.8h-5.2M518.7 914.3h-5.2M518.7 904.9h-5.2M518.7 896.6h-5.2M518.7 889.5h-5.2M518.7 883.5h-5.2M518.7 878.5h-5.2M518.7 873.7h-5.2M518.7 965.3h-5.2M518.7 978.3h-5.2M518.7 991.4h-5.2M518.7 1000.8h-5.2M518.7 1006.8h-5.2M518.7 1011.5h-5.2M518.7 1015h-5.2" stroke="#000" stroke-width="1.3" fill="none"/><rect x="513.2" y="933.5" width="5.5" height="22.5" fill="#000"/><path d="M518.7 936.5h-10.5M518.7 941.5h-10.5M518.7 946h-10.5M518.7 953.5h-10.5" stroke="#000" stroke-width="3" fill="none"/><text transform="translate(481.67 734.3) scale(0.930 1.035)" font-size="11.7" fill="#000">10</text><text transform="translate(494 726.3) scale(0.930 1.035)" font-size="11.7" fill="#000">6</text><text transform="translate(481.67 798.7) scale(0.930 1.035)" font-size="11.7" fill="#000">10</text><text transform="translate(494.11 790.7) scale(0.930 1.035)" font-size="11.7" fill="#000">5</text><text transform="translate(481.67 876.9) scale(0.930 1.035)" font-size="11.7" fill="#000">10</text><text transform="translate(494.3 868.9) scale(0.930 1.035)" font-size="11.7" fill="#000">4</text><text transform="translate(487.37 947.4) scale(0.930 1.035)" font-size="11.7" fill="#000">0</text><text transform="translate(474.12 1026.4) scale(0.930 1.035)" font-size="11.7" fill="#000">-10</text><text transform="translate(491.57 1018.4) scale(0.930 1.035)" font-size="11.7" fill="#000">4</text><text transform="translate(525.57 1068.2) scale(0.930 1.035)" font-size="11.7" fill="#000">10</text><text transform="translate(537.9 1064.3) scale(0.930 1.035)" font-size="11.7" fill="#000">2</text><text transform="translate(587.07 1068.2) scale(0.930 1.035)" font-size="11.7" fill="#000">10</text><text transform="translate(599.53 1064.3) scale(0.930 1.035)" font-size="11.7" fill="#000">3</text><text transform="translate(655.67 1068.2) scale(0.930 1.035)" font-size="11.7" fill="#000">10</text><text transform="translate(668.3 1064.3) scale(0.930 1.035)" font-size="11.7" fill="#000">4</text><text transform="translate(722.17 1068.2) scale(0.930 1.035)" font-size="11.7" fill="#000">10</text><text transform="translate(734.61 1064.3) scale(0.930 1.035)" font-size="11.7" fill="#000">5</text><text transform="translate(790.77 1068.2) scale(0.930 1.035)" font-size="11.7" fill="#000">10</text><text transform="translate(803.1 1064.3) scale(0.930 1.035)" font-size="11.7" fill="#000">6</text><text transform="translate(855.17 1068.2) scale(0.930 1.035)" font-size="11.7" fill="#000">10</text><text transform="translate(867.49 1064.3) scale(0.930 1.035)" font-size="11.7" fill="#000">7</text><text transform="translate(523.61 711) scale(1.000 1.035)" font-size="14.6" fill="#000">Q1</text><text transform="translate(523.57 733) scale(1.000 1.035)" font-size="14.6" fill="#000">2.44</text><text transform="translate(826.16 711) scale(1.000 1.035)" font-size="14.6" fill="#000">Q2</text><text transform="translate(817.02 733) scale(1.000 1.035)" font-size="14.6" fill="#000">45.7</text><text transform="translate(826.07 996.8) scale(1.000 1.035)" font-size="14.6" fill="#000">Q3</text><text transform="translate(816.71 1019.1) scale(1.000 1.035)" font-size="14.6" fill="#000">25.4</text><text transform="translate(523.61 996.8) scale(1.000 1.035)" font-size="14.6" fill="#000">Q4</text><text transform="translate(523.57 1019.1) scale(1.000 1.035)" font-size="14.6" fill="#000">26.4</text>
<g transform="translate(98 1104.88) scale(1.35)" fill="none" stroke-width="1.04"><path stroke="#18298a" d="M0 0m239 45h1m-5 10h1m-38 2h1m23 2h1m-45 3h1m57 0h2m-11 1h1m-9 2h1m-34 1h1m25 0h1m1 0h1m16 0h1m1 0h1m-31 1h1m18 0h1m1 0h1m-17 1h1m5 0h1m-3 1h2m4 0h5m-18 2h1m1 0h1m4 0h2m2 0h3m1 0h1m5 0h1m-58 1h1m36 0h1m-2 1h2m1 0h1m1 0h1m4 0h1m1 0h1m4 0h1m1 0h1m3 0h1m-82 1h1m48 0h1m7 0h1m3 0h1m2 0h2m4 0h1m7 0h1m-26 1h2m2 0h2m1 0h1m4 0h1m5 0h1m2 0h1m-35 1h1m3 0h1m4 0h1m1 0h2m1 0h1m1 0h3m2 0h1m4 0h1m3 0h1m-46 1h1m20 0h1m2 0h1m2 0h1m2 0h2m1 0h1m1 0h1m2 0h1m1 0h1m8 0h1m1 0h1m1 0h1m2 0h1m-52 1h1m3 0h1m3 0h1m9 0h1m1 0h2m1 0h1m1 0h1m1 0h4m1 0h1m5 0h1m-38 1h1m2 0h1m10 0h1m3 0h2m1 0h1m1 0h3m6 0h1m2 0h1m1 0h1m2 0h1m1 0h1m3 0h3m-51 1h1m7 0h2m1 0h1m1 0h1m4 0h1m2 0h1m1 0h1m2 0h1m2 0h4m4 0h3m4 0h1m3 0h1m-42 1h1m1 0h1m1 0h1m7 0h1m1 0h2m4 0h3m1 0h1m1 0h2m1 0h1m-40 1h1m12 0h2m2 0h1m1 0h1m1 0h1m1 0h1m1 0h4m2 0h3m7 0h1m3 0h2m-53 1h1m3 0h1m3 0h1m3 0h1m5 0h3m1 0h1m1 0h1m5 0h1m1 0h1m2 0h1m3 0h5m3 0h1m6 0h1m-57 1h1m11 0h1m5 0h3m1 0h1m7 0h1m2 0h1m3 0h5m1 0h1m5 0h2m-64 1h1m7 0h1m7 0h1m3 0h1m3 0h1m1 0h1m2 0h1m5 0h3m1 0h4m1 0h2m1 0h1m2 0h1m2 0h1m1 0h1m1 0h1m3 0h1m-50 1h1m8 0h2m4 0h2m2 0h2m4 0h1m4 0h1m1 0h1m1 0h1m2 0h1m2 0h5m10 0h1m-61 1h2m14 0h3m4 0h1m1 0h1m1 0h1m1 0h1m5 0h1m3 0h1m1 0h2m5 0h1m-90 1h1m41 0h1m2 0h1m7 0h2m3 0h3m1 0h3m5 0h1m1 0h1m1 0h1m1 0h1m3 0h4m7 0h1m-59 1h1m3 0h1m11 0h1m2 0h1m5 0h2m2 0h2m1 0h1m13 0h1m1 0h1m1 0h2m-41 1h1m1 0h1m6 0h1m1 0h1m1 0h2m1 0h1m2 0h3m7 0h1m2 0h1m4 0h2m14 0h1m-63 1h1m1 0h1m7 0h1m1 0h1m2 0h2m1 0h1m4 0h1m2 0h1m9 0h1m2 0h2m1 0h4m7 0h2m-51 1h1m1 0h1m3 0h3m3 0h1m3 0h2m3 0h1m4 0h1m7 0h2m3 0h1m2 0h1m4 0h2m10 0h1m-58 1h1m1 0h1m6 0h2m1 0h1m2 0h1m3 0h1m8 0h1m1 0h1m5 0h2m1 0h2m3 0h2m3 0h1m-71 1h2m24 0h1m1 0h2m2 0h1m2 0h1m1 0h2m3 0h1m2 0h1m2 0h1m1 0h2m2 0h1m9 0h1m1 0h1m9 0h1m-59 1h2m1 0h1m1 0h1m1 0h1m1 0h1m3 0h1m1 0h1m2 0h3m11 0h1m1 0h2m1 0h1m7 0h2m6 0h1m-51 1h2m2 0h2m2 0h1m7 0h1m7 0h1m2 0h1m1 0h2m10 0h1m3 0h1m-64 1h1m6 0h1m8 0h1m2 0h1m2 0h1m2 0h5m1 0h1m5 0h1m4 0h2m1 0h1m3 0h1m4 0h1m1 0h2m1 0h1m14 0h1m3 0h1m-96 1h1m15 0h1m4 0h1m3 0h1m4 0h1m2 0h1m1 0h2m1 0h2m1 0h2m1 0h2m3 0h3m1 0h1m1 0h2m1 0h2m2 0h1m1 0h2m5 0h1m1 0h1m1 0h1m6 0h1m-56 1h1m11 0h1m1 0h3m3 0h1m6 0h4m2 0h1m1 0h1m13 0h1m4 0h1m5 0h1m2 0h1m1 0h1m-91 1h1m20 0h1m4 0h1m1 0h1m2 0h1m2 0h1m5 0h1m10 0h3m2 0h1m14 0h1m6 0h1m4 0h1m-64 1h1m6 0h1m2 0h1m2 0h1m2 0h1m3 0h2m3 0h1m2 0h1m1 0h3m1 0h1m1 0h2m4 0h1m4 0h1m-50 1h1m4 0h2m3 0h4m2 0h1m1 0h2m1 0h1m2 0h1m1 0h1m2 0h4m1 0h2m3 0h1m4 0h2m1 0h1m4 0h1m1 0h1m10 0h1m-72 1h1m12 0h1m2 0h1m1 0h1m2 0h2m1 0h1m1 0h1m1 0h5m2 0h3m3 0h2m1 0h1m5 0h1m2 0h2m3 0h1m4 0h1m1 0h1m15 0h1m-77 1h1m2 0h2m5 0h11m1 0h1m4 0h1m2 0h1m2 0h1m1 0h1m2 0h1m16 0h1m-63 1h1m9 0h2m1 0h1m1 0h1m4 0h1m2 0h2m1 0h1m1 0h1m1 0h1m5 0h1m1 0h1m1 0h1m1 0h1m1 0h1m1 0h1m2 0h1m6 0h1m-75 1h1m14 0h1m12 0h1m1 0h1m1 0h1m1 0h3m4 0h2m5 0h2m4 0h2m1 0h2m2 0h1m1 0h1m11 0h1m7 0h1m1 0h2m1 0h1m3 0h1m-85 1h1m15 0h1m5 0h5m2 0h2m1 0h2m1 0h2m2 0h2m1 0h5m1 0h2m1 0h1m2 0h1m5 0h2m2 0h1m6 0h1m-76 1h1m12 0h1m4 0h2m2 0h1m4 0h2m1 0h1m1 0h4m3 0h3m1 0h1m2 0h4m2 0h1m3 0h1m1 0h1m4 0h1m2 0h1m3 0h1m1 0h2m1 0h1m1 0h1m1 0h1m6 0h1m3 0h1m4 0h1m-76 1h1m2 0h1m7 0h1m5 0h5m1 0h1m3 0h3m4 0h2m1 0h1m4 0h1m2 0h1m1 0h1m1 0h1m13 0h1m4 0h1m2 0h1m2 0h1m-86 1h1m7 0h1m3 0h2m1 0h4m1 0h1m2 0h4m2 0h4m1 0h1m1 0h1m3 0h1m8 0h2m2 0h1m1 0h1m1 0h1m5 0h1m14 0h1m-77 1h1m4 0h1m2 0h1m2 0h1m5 0h1m1 0h1m1 0h3m4 0h1m2 0h1m3 0h1m1 0h2m2 0h1m2 0h3m1 0h3m2 0h1m10 0h1m-58 1h1m4 0h1m1 0h2m1 0h1m1 0h1m1 0h2m1 0h2m5 0h2m3 0h1m1 0h1m1 0h4m3 0h2m7 0h1m2 0h1m4 0h1m2 0h1m11 0h1m-83 1h1m8 0h2m1 0h2m3 0h1m5 0h1m5 0h3m1 0h1m2 0h1m3 0h2m2 0h3m6 0h1m2 0h1m1 0h2m4 0h1m5 0h1m1 0h2m3 0h1m-78 1h1m12 0h1m1 0h1m12 0h1m2 0h2m4 0h1m1 0h1m7 0h1m1 0h3m1 0h1m7 0h1m7 0h2m7 0h1m5 0h1m-90 1h1m6 0h1m1 0h1m5 0h1m9 0h1m4 0h1m2 0h1m2 0h1m1 0h1m1 0h1m1 0h1m1 0h1m1 0h1m1 0h4m1 0h1m1 0h2m28 0h1m-74 1h1m3 0h1m1 0h2m3 0h1m1 0h1m7 0h3m6 0h1m3 0h2m1 0h1m2 0h1m2 0h1m2 0h1m11 0h1m2 0h2m-61 1h1m2 0h2m6 0h1m3 0h1m3 0h2m1 0h1m4 0h2m4 0h1m1 0h2m11 0h1m4 0h2m1 0h1m11 0h1m-83 1h1m3 0h1m1 0h1m3 0h1m2 0h1m4 0h1m5 0h4m8 0h2m2 0h2m2 0h2m3 0h2m1 0h2m1 0h1m4 0h1m1 0h1m5 0h1m1 0h1m6 0h1m-68 1h1m5 0h1m2 0h3m1 0h1m2 0h1m1 0h1m5 0h2m2 0h1m2 0h1m2 0h3m2 0h2m3 0h1m1 0h3m4 0h1m7 0h1m8 0h1m5 0h1m-102 1h1m31 0h1m5 0h1m1 0h3m13 0h6m3 0h2m2 0h3m9 0h1m2 0h1m6 0h1m11 0h1m-82 1h1m7 0h1m2 0h1m1 0h1m10 0h1m3 0h1m3 0h1m1 0h1m1 0h1m2 0h5m1 0h1m2 0h2m8 0h3m1 0h1m4 0h2m1 0h1m3 0h1m1 0h2m-91 1h1m4 0h1m4 0h1m1 0h1m1 0h1m2 0h1m12 0h1m3 0h1m4 0h1m4 0h2m1 0h2m1 0h2m1 0h2m1 0h2m1 0h1m5 0h1m4 0h1m3 0h1m7 0h2m1 0h1m-117 1h1m34 0h1m13 0h2m2 0h1m4 0h2m5 0h2m3 0h1m3 0h1m1 0h1m1 0h3m1 0h2m1 0h1m2 0h1m3 0h2m1 0h2m2 0h1m2 0h1m3 0h1m3 0h1m-58 1h1m5 0h1m3 0h1m2 0h2m1 0h3m6 0h2m3 0h1m1 0h1m7 0h1m7 0h1m5 0h2m5 0h1m-88 1h1m14 0h1m4 0h1m4 0h1m5 0h1m7 0h1m4 0h2m1 0h1m1 0h1m1 0h1m1 0h1m1 0h2m1 0h1m1 0h3m3 0h1m7 0h1m3 0h1m-94 1h1m16 0h1m28 0h1m4 0h1m3 0h1m4 0h1m2 0h2m4 0h2m5 0h1m3 0h1m12 0h1m11 0h1m-83 1h1m7 0h1m6 0h1m4 0h1m8 0h1m2 0h1m3 0h5m3 0h2m5 0h1m1 0h1m1 0h1m2 0h1m1 0h2m6 0h1m19 0h1m-93 1h1m10 0h1m6 0h1m3 0h1m5 0h1m10 0h1m1 0h1m7 0h1m2 0h2m3 0h3m1 0h1m7 0h1m6 0h1m6 0h1m-81 1h1m4 0h1m6 0h1m1 0h1m12 0h1m5 0h1m1 0h1m2 0h3m1 0h3m1 0h1m1 0h2m1 0h1m2 0h2m1 0h1m1 0h1m1 0h1m4 0h1m11 0h1m-90 1h1m14 0h1m1 0h1m1 0h1m3 0h1m1 0h1m1 0h1m20 0h1m1 0h3m1 0h2m1 0h3m1 0h1m2 0h1m1 0h1m5 0h1m5 0h1m4 0h1m1 0h1m1 0h1m10 0h1m1 0h1m-80 1h2m1 0h1m9 0h1m9 0h1m1 0h1m2 0h2m3 0h1m2 0h1m2 0h1m9 0h1m3 0h2m3 0h2m2 0h1m2 0h1m4 0h1m4 0h1m-103 1h1m34 0h1m13 0h1m2 0h1m2 0h1m1 0h5m2 0h2m2 0h1m4 0h1m4 0h2m11 0h1m3 0h1m-82 1h1m2 0h1m3 0h1m2 0h1m1 0h2m3 0h1m3 0h1m5 0h1m2 0h1m4 0h3m1 0h1m3 0h1m3 0h1m1 0h1m1 0h5m3 0h1m6 0h1m3 0h1m21 0h1m-95 1h1m21 0h1m2 0h3m13 0h1m4 0h1m1 0h1m9 0h1m1 0h2m2 0h2m1 0h1m12 0h1m2 0h2m-71 1h1m1 0h1m5 0h2m9 0h2m3 0h6m5 0h1m1 0h2m1 0h2m1 0h1m2 0h1m1 0h1m5 0h1m6 0h1m11 0h1m1 0h1m-79 1h1m16 0h1m1 0h1m4 0h1m2 0h2m2 0h2m3 0h1m1 0h3m6 0h3m11 0h1m2 0h3m4 0h1m5 0h1m-108 1h1m19 0h1m1 0h1m24 0h1m7 0h1m1 0h1m1 0h1m3 0h6m1 0h1m4 0h2m7 0h1m3 0h1m3 0h1m7 0h1m-85 1h1m11 0h1m3 0h1m10 0h2m6 0h1m5 0h1m3 0h2m1 0h2m2 0h2m1 0h1m2 0h1m1 0h2m2 0h1m3 0h3m17 0h1m-98 1h1m5 0h1m5 0h1m1 0h1m11 0h1m2 0h2m7 0h1m1 0h1m3 0h1m2 0h2m2 0h2m1 0h1m10 0h5m2 0h1m1 0h1m2 0h1m2 0h2m2 0h1m2 0h1m1 0h1m5 0h1m3 0h1m-98 1h1m3 0h1m12 0h1m1 0h2m6 0h2m7 0h4m5 0h1m5 0h1m1 0h1m2 0h1m2 0h1m1 0h2m1 0h1m1 0h1m3 0h1m1 0h1m5 0h1m8 0h1m7 0h1m-89 1h1m10 0h1m17 0h1m1 0h4m1 0h3m5 0h1m5 0h3m2 0h2m3 0h1m4 0h1m2 0h1m2 0h1m2 0h2m1 0h1m6 0h1m1 0h2m1 0h1m-82 1h1m2 0h1m11 0h2m1 0h1m5 0h2m3 0h1m1 0h1m10 0h1m4 0h9m3 0h2m3 0h1m9 0h1m2 0h1m7 0h1m-98 1h1m18 0h2m7 0h1m4 0h1m2 0h3m1 0h2m2 0h1m6 0h1m15 0h1m1 0h2m1 0h1m7 0h2m11 0h1m1 0h1m-109 1h1m22 0h2m4 0h1m7 0h1m7 0h1m6 0h1m4 0h2m5 0h2m2 0h3m1 0h1m1 0h1m1 0h3m2 0h3m1 0h1m2 0h1m3 0h1m2 0h1m11 0h1m-98 1h1m19 0h1m2 0h1m1 0h1m2 0h1m2 0h1m1 0h1m3 0h1m2 0h1m2 0h2m1 0h1m1 0h1m3 0h2m1 0h1m2 0h1m1 0h3m1 0h2m5 0h2m2 0h1m1 0h2m4 0h1m3 0h1m-105 1h1m36 0h1m2 0h1m4 0h2m4 0h1m3 0h1m1 0h2m9 0h1m4 0h3m1 0h2m1 0h1m1 0h1m1 0h1m3 0h2m13 0h1m9 0h1m-78 1h1m6 0h2m9 0h1m3 0h3m3 0h1m4 0h1m5 0h2m1 0h1m1 0h1m2 0h2m3 0h1m1 0h3m3 0h1m5 0h1m3 0h2m-88 1h1m6 0h1m11 0h1m1 0h1m7 0h2m3 0h2m1 0h1m12 0h2m1 0h1m4 0h3m2 0h2m1 0h1m1 0h1m1 0h1m4 0h1m8 0h1m1 0h1m-92 1h1m9 0h1m3 0h1m4 0h1m1 0h1m3 0h3m10 0h2m1 0h1m5 0h1m4 0h1m4 0h1m1 0h1m1 0h3m1 0h3m2 0h3m1 0h1m1 0h1m1 0h2m1 0h1m3 0h1m-101 1h1m37 0h1m4 0h1m2 0h1m6 0h1m2 0h2m2 0h1m8 0h4m2 0h3m4 0h1m1 0h1m7 0h1m18 0h1m-85 1h3m6 0h1m7 0h1m1 0h1m4 0h2m3 0h2m14 0h2m2 0h1m1 0h2m2 0h1m7 0h1m1 0h1m1 0h1m2 0h1m2 0h1m-101 1h1m39 0h2m1 0h3m11 0h1m7 0h1m2 0h1m2 0h2m1 0h2m1 0h2m1 0h1m2 0h1m2 0h2m4 0h1m5 0h2m-85 1h1m13 0h1m14 0h1m4 0h2m4 0h1m4 0h1m4 0h1m2 0h2m2 0h1m1 0h1m1 0h1m3 0h4m6 0h3m4 0h1m1 0h2m5 0h1m-105 1h1m3 0h1m6 0h1m19 0h1m2 0h1m7 0h1m2 0h3m3 0h1m16 0h2m1 0h1m2 0h4m1 0h1m3 0h2m2 0h1m11 0h1m-79 1h1m4 0h1m16 0h1m2 0h3m2 0h1m1 0h1m12 0h4m1 0h2m2 0h3m3 0h1m1 0h1m1 0h1m1 0h2m2 0h1m-74 1h1m2 0h1m12 0h1m12 0h2m2 0h1m1 0h1m10 0h3m1 0h3m2 0h2m1 0h2m1 0h1m2 0h1m5 0h1m2 0h2m1 0h1m4 0h1m-91 1h1m3 0h1m2 0h1m1 0h1m26 0h1m3 0h3m1 0h1m8 0h1m2 0h5m3 0h1m1 0h1m2 0h1m1 0h2m1 0h1m1 0h3m4 0h1m2 0h1m7 0h1m-78 1h1m1 0h1m6 0h1m4 0h1m1 0h1m21 0h2m1 0h1m1 0h1m1 0h3m4 0h2m1 0h4m1 0h3m1 0h1m7 0h1m-88 1h1m21 0h1m1 0h1m7 0h1m3 0h2m15 0h1m1 0h1m2 0h2m4 0h1m1 0h1m2 0h2m1 0h1m1 0h1m2 0h1m7 0h1m1 0h1m2 0h1m-75 1h1m15 0h1m3 0h1m14 0h1m1 0h1m1 0h4m3 0h1m1 0h2m4 0h1m2 0h1m2 0h2m3 0h1m6 0h1m-114 1h1m13 0h1m17 0h1m3 0h1m1 0h3m5 0h1m9 0h1m3 0h1m21 0h2m1 0h1m5 0h2m1 0h1m14 0h2m1 0h1m-107 1h1m12 0h1m11 0h1m8 0h2m2 0h1m1 0h2m1 0h1m5 0h1m1 0h1m4 0h2m11 0h1m1 0h2m8 0h1m1 0h2m3 0h1m2 0h1m2 0h2m-85 1h1m30 0h1m2 0h1m1 0h3m7 0h1m15 0h5m1 0h2m1 0h2m1 0h1m1 0h1m2 0h1m1 0h1m-82 1h1m17 0h1m6 0h1m5 0h1m5 0h2m4 0h2m2 0h1m9 0h1m1 0h3m1 0h1m2 0h2m6 0h1m3 0h2m2 0h1m2 0h1m4 0h1m-107 1h1m15 0h1m13 0h1m9 0h1m7 0h1m4 0h2m2 0h2m17 0h1m1 0h4m3 0h1m1 0h1m3 0h1m8 0h1m-96 1h1m8 0h1m9 0h1m9 0h1m3 0h1m7 0h3m7 0h1m20 0h1m5 0h2m8 0h1m14 0h1m-58 1h1m1 0h1m1 0h1m1 0h1m14 0h1m1 0h2m1 0h2m3 0h1m5 0h2m1 0h1m2 0h2m1 0h2m5 0h1m-89 1h1m3 0h1m5 0h1m13 0h2m6 0h1m1 0h2m4 0h1m14 0h1m1 0h5m1 0h1m2 0h1m3 0h2m2 0h2m3 0h2m3 0h2m4 0h1m-90 1h1m12 0h1m5 0h1m5 0h2m1 0h1m4 0h6m17 0h2m2 0h2m8 0h1m2 0h3m1 0h3m1 0h1m6 0h1m-92 1h1m6 0h1m1 0h1m4 0h1m3 0h1m17 0h1m3 0h1m16 0h1m3 0h1m2 0h2m2 0h4m1 0h2m2 0h1m1 0h1m2 0h1m2 0h1m2 0h1m1 0h1m-86 1h1m11 0h1m7 0h2m3 0h1m5 0h1m4 0h1m12 0h1m4 0h1m2 0h4m1 0h1m2 0h1m4 0h2m5 0h1m9 0h1m-70 1h1m3 0h1m4 0h1m2 0h2m1 0h1m19 0h3m2 0h3m1 0h2m1 0h1m3 0h2m2 0h1m5 0h1m1 0h1m-81 1h1m4 0h1m9 0h1m14 0h2m19 0h3m1 0h1m5 0h2m1 0h1m1 0h1m2 0h1m3 0h1m7 0h1m1 0h1m-79 1h1m2 0h1m1 0h1m8 0h1m6 0h1m2 0h2m23 0h2m4 0h1m1 0h3m3 0h1m2 0h1m1 0h1m3 0h1m2 0h1m1 0h3m-95 1h1m18 0h1m5 0h2m6 0h1m5 0h1m18 0h2m7 0h1m1 0h1m2 0h1m2 0h2m1 0h1m5 0h2m5 0h1m3 0h1m-68 1h1m1 0h1m1 0h2m2 0h3m17 0h1m3 0h2m4 0h3m5 0h1m1 0h2m1 0h1m2 0h1m10 0h1m-83 1h1m7 0h1m11 0h1m2 0h1m1 0h1m21 0h1m1 0h2m3 0h1m1 0h1m4 0h2m2 0h2m1 0h1m3 0h1m6 0h1m-90 1h1m10 0h1m8 0h3m8 0h2m2 0h1m21 0h1m4 0h1m2 0h1m1 0h1m2 0h1m1 0h1m2 0h1m1 0h1m1 0h1m4 0h2m-59 1h1m26 0h1m1 0h6m1 0h2m1 0h2m2 0h2m1 0h2m2 0h1m6 0h1m-77 1h1m3 0h1m1 0h1m13 0h1m2 0h1m22 0h2m3 0h2m3 0h1m1 0h1m1 0h3m3 0h2m5 0h1m7 0h1m-73 1h1m5 0h1m1 0h2m28 0h3m2 0h2m2 0h2m1 0h1m4 0h1m1 0h1m2 0h1m1 0h1m4 0h1m-83 1h1m16 0h2m1 0h1m30 0h1m1 0h3m1 0h3m2 0h1m2 0h2m3 0h3m5 0h1m1 0h1m-75 1h1m1 0h1m4 0h1m5 0h3m26 0h1m2 0h1m2 0h2m2 0h1m3 0h1m2 0h2m4 0h1m2 0h1m5 0h1m-88 1h1m18 0h1m1 0h2m31 0h1m1 0h1m1 0h5m1 0h3m3 0h1m3 0h1m6 0h1m6 0h1m-31 1h2m2 0h2m7 0h1m3 0h1m1 0h1m1 0h1m-80 1h1m6 0h1m3 0h1m2 0h1m4 0h2m32 0h3m3 0h1m1 0h1m6 0h1m2 0h1m3 0h1m2 0h1m6 0h1m-110 1h1m11 0h1m7 0h1m1 0h1m5 0h1m1 0h2m5 0h1m38 0h2m1 0h2m1 0h2m3 0h1m1 0h3m1 0h4m1 0h1m2 0h2m1 0h1m-142 1h1m22 0h2m1 0h1m22 0h1m1 0h1m2 0h1m2 0h1m2 0h1m1 0h3m5 0h1m41 0h1m6 0h1m1 0h2m1 0h2m1 0h2m1 0h1m1 0h1m1 0h1m3 0h2m-159 1h1m26 0h1m7 0h1m1 0h1m1 0h2m4 0h1m18 0h1m1 0h1m4 0h1m1 0h6m48 0h4m2 0h2m3 0h7m1 0h1m8 0h1m-158 1h1m15 0h2m2 0h1m3 0h2m2 0h2m2 0h1m3 0h3m1 0h1m2 0h2m1 0h3m2 0h2m1 0h4m4 0h1m66 0h1m6 0h2m4 0h1m3 0h2m4 0h1m12 0h1m-157 1h3m1 0h2m6 0h1m2 0h2m1 0h3m2 0h2m1 0h1m93 0h2m4 0h1m1 0h2m1 0h2m3 0h1m1 0h1m1 0h1m3 0h1m1 0h1m-152 1h2m1 0h1m2 0h1m3 0h5m1 0h3m2 0h1m1 0h1m3 0h2m6 0h1m13 0h1m15 0h1m55 0h1m1 0h2m3 0h1m3 0h1m1 0h1m-140 1h1m1 0h1m3 0h1m2 0h1m1 0h3m4 0h1m1 0h3m2 0h1m1 0h1m2 0h1m15 0h1m81 0h2m1 0h3m1 0h3m1 0h1m1 0h1m2 0h1m5 0h1m3 0h1m-154 1h1m7 0h1m1 0h3m4 0h1m2 0h1m1 0h1m1 0h1m2 0h1m5 0h1m25 0h1m60 0h1m1 0h1m2 0h1m4 0h1m3 0h1m3 0h1m2 0h1m2 0h1m10 0h1m-154 1h2m3 0h1m1 0h1m2 0h1m5 0h1m3 0h1m5 0h1m1 0h1m5 0h1m1 0h2m2 0h1m2 0h1m1 0h1m10 0h1m48 0h1m2 0h1m9 0h1m1 0h1m2 0h2m1 0h1m5 0h3m1 0h1m1 0h1m9 0h1m-149 1h1m2 0h1m1 0h1m1 0h1m1 0h1m2 0h2m2 0h4m2 0h3m4 0h1m1 0h1m1 0h1m1 0h2m1 0h1m5 0h1m2 0h1m4 0h2m1 0h1m2 0h4m15 0h1m21 0h1m2 0h1m2 0h1m2 0h1m1 0h1m1 0h1m1 0h1m1 0h1m7 0h1m3 0h1m2 0h1m2 0h1m1 0h2m2 0h1m5 0h1m-134 1h1m1 0h1m3 0h1m1 0h1m1 0h1m1 0h1m1 0h1m3 0h2m1 0h1m1 0h1m3 0h1m5 0h1m9 0h2m1 0h5m1 0h1m3 0h1m1 0h2m1 0h1m3 0h2m1 0h1m1 0h3m8 0h1m1 0h1m2 0h1m1 0h1m2 0h1m3 0h2m5 0h1m18 0h2m2 0h1m1 0h1m3 0h1m-119 1h1m3 0h1m11 0h1m1 0h1m11 0h1m9 0h3m5 0h1m4 0h1m15 0h1m6 0h1m1 0h1m4 0h1m5 0h1m9 0h1m1 0h1m4 0h1m-88 1h1m6 0h1m23 0h1m13 0h1m8 0h1m8 0h1m5 0h2m8 0h1m6 0h1m4 0h1m-97 1h1m88 0h1m5 0h1m-32 1h1m16 0h1m6 0h1m1 0h1m-23 1h1m2 0h1m11 0h1m-33 1h1m48 0h1m-17 1h1m8 4h1m8 5h1m5 1h1"/><path stroke="#1f3fa8" d="M0 0m212 78h1m-5 1h1m-11 1h1m-5 1h1m6 0h1m-5 1h1m-6 1h1m2 0h1m2 0h1m6 0h1m-16 1h1m3 0h1m4 0h1m-5 1h1m4 0h1m-16 1h2m4 0h1m7 0h2m-16 1h1m3 0h1m7 0h1m-14 1h2m1 0h1m5 0h1m2 0h1m-13 1h1m1 0h2m1 0h1m3 0h2m-11 1h1m2 0h1m2 0h1m2 0h1m3 0h2m-22 1h1m3 0h1m1 0h1m2 0h2m2 0h2m-15 1h1m1 0h1m6 0h3m1 0h1m-21 1h1m1 0h1m2 0h2m2 0h2m3 0h3m1 0h1m2 0h1m-14 1h1m2 0h1m2 0h1m8 0h1m-26 1h1m4 0h1m3 0h1m1 0h2m2 0h1m-14 1h4m3 0h1m1 0h1m2 0h1m-10 1h2m1 0h2m3 0h2m-12 1h1m4 0h1m1 0h1m8 0h1m-19 1h1m2 0h1m2 0h1m1 0h1m4 0h1m-19 1h1m7 0h1m2 0h2m-19 1h1m10 0h1m3 0h1m3 1h1m-13 1h1m-14 1h1m21 0h1m-17 1h1m-1 1h1m2 0h2m1 0h1m-19 1h1m10 0h1m17 9h2m-4 1h1m2 2h1m-7 2h1m4 2h1m2 1h1m-18 1h1m5 1h1m3 0h1m5 0h1m-13 1h1m5 0h1m1 0h1m1 0h1m-10 1h1m3 0h1m-2 1h1m1 1h1m-6 1h1m5 0h1m-6 1h1m-5 1h1m1 0h1m1 0h1m1 0h1m-13 1h1m3 0h1m4 0h3m-15 1h1m8 0h1m6 0h1m-9 1h1m2 0h1m3 0h1m3 0h1m-18 1h1m3 0h1m8 0h1m-17 1h2m9 0h2m4 0h1m-11 1h3m2 0h1m1 0h1m-15 1h2m2 0h1m1 0h1m4 0h2m-11 1h1m1 0h1m1 0h1m3 0h1m3 0h1m-16 1h1m7 0h1m1 0h2m-9 1h5m-8 1h2m2 0h1m1 0h3m-4 1h2m4 0h1m2 0h1m-18 1h2m1 0h1m1 0h3m2 0h3m-6 1h1m3 0h2m-14 1h1m1 0h1m2 0h1m2 0h1m1 0h2m2 0h1m1 0h1m-18 1h1m1 0h1m1 0h1m1 0h4m-3 1h2m1 0h2m-7 1h1m1 0h4m1 0h1m-9 1h2m1 0h1m1 0h1m3 0h1m-10 1h3m6 0h2m3 0h1m-19 1h2m7 0h1m1 0h1m-4 1h2m5 0h1m-15 1h4m2 0h1m-11 1h1m6 0h1m1 0h1m1 0h2m-17 1h1m2 0h1m5 0h1m3 0h1m-10 1h1m7 0h1m-10 1h3m9 0h1m-3 1h2m2 0h2m-11 1h1m2 0h1m8 0h1m-17 1h1m3 0h1m-12 1h1m13 0h1m-14 1h1m10 0h1m1 0h1m1 0h1m2 0h1m6 0h1m-27 1h2m12 0h4m-20 1h1m2 0h1m11 0h1m1 0h1m6 0h1m-12 1h1m2 0h1m-17 1h1m13 0h1m1 0h1m-18 1h1m1 0h1m6 0h1m4 0h2m-17 1h1m15 0h2m-19 1h1m1 0h1m-2 1h1m12 0h2m5 0h1m-24 1h2m-3 1h1m16 1h2m-22 1h2m18 0h1m7 1h1m-34 1h1m2 0h1m16 0h1m-18 1h2m13 0h1m3 0h1m2 0h2m-30 1h1m2 0h1m-5 1h1m22 0h3m9 0h1m-38 1h1m22 0h2m1 0h2m-33 1h1m31 0h1m-39 1h1m32 0h1m1 0h1m5 0h1m-43 1h1m3 0h1m28 0h1m-37 1h1m1 0h1m32 0h2m2 0h1m-50 1h1m5 0h1m34 0h3m-59 1h1m9 0h1m2 0h1m2 0h2m37 0h1m6 0h1m-90 1h1m3 0h1m8 0h2m1 0h1m1 0h2m2 0h1m1 0h1m3 0h2m2 0h1m4 0h1m41 0h1m-106 1h1m11 0h1m4 0h1m2 0h1m1 0h6m2 0h1m1 0h7m1 0h3m2 0h1m1 0h1m58 0h1m-103 1h1m4 0h2m5 0h2m1 0h1m2 0h4m2 0h2m2 0h1m19 0h1m7 0h1m41 0h2m3 0h1m15 0h1m-129 1h1m7 0h2m1 0h1m2 0h1m2 0h1m2 0h2m2 0h3m7 0h1m9 0h1m2 0h1m17 0h1m41 0h2m2 0h1m-108 1h1m2 0h1m4 0h1m3 0h1m1 0h1m3 0h1m1 0h1m1 0h1m25 0h3m2 0h2m16 0h1m23 0h1m-90 1h1m7 0h1m1 0h2m4 0h1m2 0h1m4 0h1m1 0h1m1 0h1m1 0h1m4 0h1m2 0h3m3 0h2m2 0h1m1 0h1m2 0h1m4 0h1m7 0h1m7 0h1m1 0h1m8 0h1m4 0h1m1 0h2m-66 1h1m3 0h1m8 0h2m2 0h2m1 0h1m1 0h1m1 0h1m1 0h1m1 0h2m2 0h1m1 0h2m6 0h1m1 0h1m2 0h2m1 0h2m2 0h1m-55 1h1m13 0h1m2 0h1m27 0h1"/><path stroke="#3a8fd0" d="M0 0m203 80h1m-8 3h1m0 1h1m-8 1h1m1 1h1m-6 1h1m2 0h1m-5 1h1m-2 1h1m4 0h1m1 0h1m2 0h1m-17 1h2m7 0h2m-10 1h1m3 0h2m2 0h1m-9 1h3m10 0h1m-12 1h2m-12 1h1m1 0h1m12 0h1m-18 1h1m10 0h2m1 0h1m-11 1h1m3 0h1m2 0h1m2 0h1m-14 1h1m-3 3h2m-5 2h1m-4 1h1m7 0h1m5 20h1m-6 2h1m-5 1h1m-1 6h1m-6 4h1m-6 1h1m-3 1h1m-3 1h1m0 1h1m6 0h1m-1 1h1m-6 1h1m3 0h1m1 1h1m-12 2h1m1 0h1m1 0h1m4 0h1m-9 1h1m3 0h1m-7 1h3m-2 1h1m2 0h1m-8 1h1m1 0h1m8 0h1m-11 1h1m-1 2h2m-4 1h1m1 0h1m6 0h1m-7 1h1m1 0h2m-7 1h1m2 0h3m0 1h1m-8 1h1m5 0h1m-3 1h1m-9 1h1m6 0h1m0 1h1m-9 1h1m1 0h1m2 0h1m-8 2h1m8 0h3m1 0h1m-14 1h2m4 0h1m1 0h2m3 0h1m-4 1h1m16 0h1m-28 1h1m5 0h1m1 0h3m-14 1h1m2 0h1m7 0h1m-13 1h1m13 1h1m-3 2h1m-16 1h1m13 0h1m-16 1h1m12 0h1m3 1h1m-7 1h1m1 0h1m-17 1h1m13 0h1m0 1h2m-19 1h1m13 0h2m1 0h1m-3 1h1m-1 1h1m-24 1h1m19 0h1m1 0h1m1 0h1m-28 2h1m1 0h1m18 0h1m0 1h1m1 0h1m-35 1h1m3 0h3m21 0h1m0 1h1m-35 1h1m1 0h1m26 0h1m2 0h2m-36 1h2m-17 1h1m4 0h1m3 0h1m2 0h1m32 0h1m1 0h1m-63 1h1m12 0h1m4 0h1m41 0h1m-87 1h1m6 0h2m9 0h1m3 0h2m5 0h2m4 0h1m2 0h1m2 0h1m41 0h1m-87 1h1m2 0h1m4 0h1m6 0h1m2 0h1m1 0h3m1 0h2m2 0h1m4 0h1m2 0h1m7 0h1m38 0h1m2 0h1m-94 1h1m1 0h1m3 0h1m13 0h1m1 0h4m3 0h2m16 0h1m4 0h1m6 0h1m16 0h1m7 0h1m2 0h1m2 0h1m-92 1h1m1 0h1m3 0h1m3 0h1m3 0h1m2 0h2m3 0h1m1 0h2m2 0h2m11 0h1m3 0h1m3 0h1m6 0h1m4 0h1m10 0h1m6 0h1m7 0h1m-84 1h1m15 0h1m1 0h1m3 0h3m2 0h1m4 0h1m7 0h1m4 0h1m5 0h3m1 0h2m7 0h1m6 0h1m3 0h1m-36 1h1m8 0h2m6 0h1m7 0h1"/><path stroke="#55c4bc" d="M0 0m193 84h1m-3 4h1m-7 2h1m3 2h1m-13 1h1m-6 5h1m0 1h1m-20 43h1m4 0h1m-7 1h1m4 4h1m-2 1h1m-10 3h1m1 0h1m2 0h1m-1 1h1m3 0h1m-4 1h1m-10 1h1m3 0h1m1 0h1m3 0h1m-8 1h1m4 0h1m-8 1h2m-1 1h2m1 0h1m-6 1h1m1 0h1m4 0h1m-5 1h1m-3 1h4m2 0h1m-10 1h1m6 0h2m-10 1h1m1 0h2m4 0h1m-9 1h2m3 0h1m4 0h1m-10 1h2m-6 1h2m1 0h2m2 0h1m-8 1h1m7 0h1m-7 1h1m3 0h1m3 0h1m-13 1h1m1 0h1m3 0h1m-8 1h2m8 0h1m-2 1h1m-10 1h2m5 0h1m2 0h1m-3 1h1m1 0h1m1 0h1m-12 1h1m-4 1h1m11 0h1m-16 1h1m-4 1h1m15 0h1m-17 1h1m12 0h1m-18 1h1m3 0h1m14 0h1m-5 1h1m-18 1h1m18 0h1m-5 2h1m1 0h1m-21 1h1m16 0h1m-25 1h1m1 0h1m1 0h1m20 0h1m-29 1h1m26 0h1m-31 1h1m3 0h1m22 0h1m-35 1h1m11 0h1m-19 1h1m3 0h2m7 0h1m1 0h1m-23 1h1m3 0h1m3 0h2m3 0h1m27 0h1m-54 1h1m3 0h1m4 0h1m2 0h1m7 0h1m24 0h1m4 0h1m1 0h1m3 0h1m2 0h1m-64 1h2m2 0h1m2 0h1m1 0h1m5 0h2m1 0h2m1 0h1m5 0h1m27 0h1m-77 1h1m7 0h1m1 0h1m3 0h1m2 0h2m1 0h1m7 0h3m8 0h1m1 0h1m1 0h1m3 0h1m22 0h2m-85 1h1m8 0h2m2 0h2m1 0h1m1 0h1m11 0h1m4 0h1m2 0h1m3 0h2m18 0h1m20 0h1m1 0h1m-85 1h1m2 0h1m11 0h2m1 0h1m2 0h1m5 0h3m5 0h1m9 0h1m1 0h2m12 0h2m1 0h1m1 0h1m1 0h1m1 0h1m1 0h2m2 0h1m1 0h1m1 0h2m-63 1h1m7 0h1m8 0h2m3 0h2m2 0h1m1 0h1m10 0h1m2 0h1m3 0h1m2 0h1m2 0h1m7 0h1m-46 1h1m19 0h1m16 0h1"/><path stroke="#58b040" d="M0 0m184 92h1m-7 3h1m-28 56h1m-4 1h1m-1 1h1m0 2h1m-1 2h1m-4 1h1m3 1h1m2 0h1m-3 1h1m-7 1h2m1 0h1m-6 1h1m3 0h1m1 0h1m-5 2h1m1 0h1m-3 1h1m-5 1h2m1 0h2m0 1h2m-8 1h1m3 0h3m-8 1h1m-3 1h1m7 1h1m-11 1h1m3 0h1m-6 1h1m3 0h2m-8 1h2m1 0h1m6 0h2m3 0h1m-14 1h1m9 0h1m-15 1h1m1 0h1m6 0h4m-14 1h2m5 0h1m5 0h2m-18 1h1m6 0h1m6 0h1m-15 1h1m9 1h2m2 0h1m-21 1h1m1 0h1m1 0h2m8 1h3m1 0h1m-19 1h1m14 1h1m-19 1h1m13 0h1m1 0h1m1 0h1m-25 1h1m22 0h1m-30 1h4m5 0h1m16 0h2m-38 1h1m5 0h4m-7 1h1m2 0h1m2 0h2m20 0h1m1 0h1m-54 1h1m5 0h1m6 0h2m1 0h2m2 0h3m1 0h1m23 0h1m4 0h1m-53 1h1m3 0h1m12 0h2m32 0h1m-75 1h1m21 0h1m9 0h2m4 0h1m3 0h1m3 0h1m4 0h1m1 0h1m5 0h1m9 0h1m4 0h1m-88 1h1m3 0h1m2 0h1m11 0h2m4 0h1m2 0h2m3 0h1m1 0h1m1 0h1m5 0h1m2 0h1m4 0h1m1 0h1m7 0h1m4 0h1m8 0h1m2 0h1m3 0h1m-78 1h1m1 0h1m15 0h1m3 0h2m9 0h3m2 0h1m2 0h1m2 0h2m3 0h1m1 0h1m11 0h1m3 0h1m1 0h1m-46 1h2m12 0h1m6 0h1m3 0h1m2 0h1m6 0h1m1 0h1m2 0h1m-16 1h1"/><path stroke="#a4cc28" d="M0 0m152 150h1m-1 6h1m-5 2h1m2 0h1m-5 1h1m-2 3h1m3 2h1m-10 1h1m2 0h1m-2 1h1m-2 1h1m1 0h1m-7 1h1m8 0h1m-10 1h1m1 0h1m1 0h2m1 0h1m1 0h1m-10 1h2m2 0h1m1 0h1m1 0h2m-13 1h1m2 0h1m3 0h1m1 0h1m-9 1h3m1 0h1m1 0h2m1 0h1m-11 1h2m7 0h1m-6 1h2m-9 1h1m7 0h1m-10 1h1m1 0h1m4 0h1m-8 1h1m2 0h2m4 0h1m-12 1h1m4 0h1m1 0h1m1 0h2m-15 1h1m1 0h3m6 0h1m1 0h1m1 0h1m-18 1h1m8 0h1m5 0h1m-5 1h1m1 0h1m-18 1h1m2 0h2m4 0h1m3 0h1m-16 1h1m3 0h3m7 0h1m2 0h1m-20 1h1m1 0h1m14 0h1m1 0h1m-22 1h1m1 0h1m16 0h1m-24 1h1m2 0h1m4 0h1m12 0h1m1 0h1m-24 1h2m17 0h1m-24 1h1m1 0h1m20 0h1m-32 1h1m2 0h1m9 0h1m1 0h1m5 0h1m6 0h1m-33 1h1m6 0h1m2 0h1m1 0h1m1 0h1m17 0h1m-58 1h1m6 0h1m6 0h1m4 0h1m2 0h1m4 0h1m15 0h1m2 0h1m1 0h1m1 0h1m4 0h2m-55 1h2m9 0h1m1 0h1m3 0h1m1 0h1m3 0h1m4 0h1m-32 1h1m2 0h1m1 0h1m8 0h1m6 0h1m5 0h1m2 0h1m5 0h1m10 0h1m1 0h1m-41 1h1m10 0h1m3 0h1m3 0h1m1 0h1m2 0h1m1 0h1m-17 1h1"/><path stroke="#f2e51f" d="M0 0m146 163h1m0 2h2m-6 2h1m-3 1h1m2 1h1m-5 1h2m-2 1h1m-5 3h2m3 0h1m-9 1h1m1 0h2m1 0h1m-3 1h1m-5 1h1m5 0h2m-10 1h1m4 0h1m1 0h1m-7 1h3m-7 1h1m1 0h2m-8 1h1m3 0h1m5 0h1m1 0h1m1 0h2m-18 1h1m2 0h2m6 1h2m-15 1h2m8 0h1m3 0h1m-10 1h1m1 0h1m2 0h2m-16 1h1m6 0h1m8 0h1m-19 1h1m1 0h1m2 0h1m7 0h1m-18 1h3m11 0h1m-22 1h2m3 0h1m-10 1h1m3 0h1m15 0h1m-36 1h1m8 0h1m7 0h1m1 0h1m1 0h3m1 0h1m10 0h1m2 0h1m-43 1h1m13 0h1m2 0h1m7 0h1m1 0h2m5 0h1m2 0h1m-42 1h1m7 0h1m2 0h1m1 0h2m4 0h2m3 0h1m3 0h2m2 0h1m1 0h2m1 0h1m-55 1h1"/><path stroke="#f49a1d" d="M0 0m146 159h1m-6 10h1m-1 3h1m-2 1h2m1 0h1m-6 1h1m0 1h1m1 0h2m-6 1h1m-5 1h1m-4 2h1m-5 1h1m1 0h1m4 0h1m1 0h1m-10 1h1m3 0h3m-13 1h1m6 0h1m2 0h1m2 0h1m-7 1h1m7 0h1m-13 1h2m-5 1h1m7 1h1m-17 1h1m3 0h1m4 0h1m2 0h1m4 0h1m-10 1h1m4 0h1m1 0h1m1 0h2m-11 1h1m-20 1h1m9 0h2m8 0h2m-27 1h1m6 0h1m5 0h2m2 0h1m3 0h1m-18 1h2m7 0h3m3 0h1m-17 1h1m7 0h1m4 0h1"/><path stroke="#e4281b" d="M0 0m145 163h1m-4 5h1m-4 3h1m1 0h1m0 2h1m-6 2h1m-4 1h2m1 1h1m-7 1h2m1 1h2m1 0h1m-7 1h1m2 0h1m-7 1h2m-4 1h1m2 0h1m1 0h1m-8 1h3m1 0h3m-13 1h1m2 0h2m2 0h4m1 0h2m-16 1h1m1 0h2m1 0h3m1 0h1m1 0h2m-16 1h2m1 0h1m1 0h4m1 0h5m1 0h1m-13 1h1m1 0h2m1 0h2m1 0h1m1 0h1m-16 1h8m1 0h2m1 0h1m1 0h1m-21 1h1m1 0h2m1 0h1m1 0h5m1 0h1m1 0h4m-21 1h1m1 0h1m1 0h3m2 0h5m2 0h1m-23 1h2m1 0h1m5 0h1m4 0h1m2 0h1m4 0h2m-20 1h2m9 0h1m2 0h1m1 0h1m-17 1h1"/></g>
<rect x="98" y="1104.2" width="357.4" height="355.6" fill="none" stroke="#000" stroke-width="1.5"/><rect x="289.95" y="1104.2" width="2.5" height="355.6" fill="#000"/><rect x="98" y="1253.95" width="357.4" height="2.5" fill="#000"/><path d="M98.1 1459.8v9.5M164.6 1459.8v9.5M233.7 1459.8v9.5M300.8 1459.8v9.5M368.8 1459.8v9.5M437.4 1459.8v9.5" stroke="#000" stroke-width="2.2" fill="none"/><path d="M118.12 1459.8v5.2M129.83 1459.8v5.2M138.14 1459.8v5.2M144.58 1459.8v5.2M149.85 1459.8v5.2M154.3 1459.8v5.2M158.16 1459.8v5.2M161.56 1459.8v5.2M185.4 1459.8v5.2M197.57 1459.8v5.2M206.2 1459.8v5.2M212.9 1459.8v5.2M218.37 1459.8v5.2M223 1459.8v5.2M227 1459.8v5.2M230.54 1459.8v5.2M253.9 1459.8v5.2M265.71 1459.8v5.2M274.1 1459.8v5.2M280.6 1459.8v5.2M285.91 1459.8v5.2M290.41 1459.8v5.2M294.3 1459.8v5.2M297.73 1459.8v5.2M321.27 1459.8v5.2M333.24 1459.8v5.2M341.74 1459.8v5.2M348.33 1459.8v5.2M353.71 1459.8v5.2M358.27 1459.8v5.2M362.21 1459.8v5.2M365.69 1459.8v5.2M389.45 1459.8v5.2M401.53 1459.8v5.2M410.1 1459.8v5.2M416.75 1459.8v5.2M422.18 1459.8v5.2M426.77 1459.8v5.2M430.75 1459.8v5.2M434.26 1459.8v5.2" stroke="#000" stroke-width="1.3" fill="none"/><path d="M98 1147.9h-10M98 1212.3h-10M98 1290.5h-10M98 1439.3h-10" stroke="#000" stroke-width="2.2" fill="none"/><path d="M98 1104.6h-5.2M98 1128.51h-5.2M98 1117.17h-5.2M98 1109.13h-5.2M98 1192.91h-5.2M98 1181.57h-5.2M98 1173.53h-5.2M98 1167.29h-5.2M98 1162.19h-5.2M98 1157.88h-5.2M98 1154.14h-5.2M98 1150.85h-5.2M98 1266.96h-5.2M98 1253.19h-5.2M98 1243.42h-5.2M98 1235.84h-5.2M98 1229.65h-5.2M98 1224.41h-5.2M98 1219.88h-5.2M98 1215.88h-5.2M98 1345h-5.2M98 1335.5h-5.2M98 1326.1h-5.2M98 1317.8h-5.2M98 1310.7h-5.2M98 1304.7h-5.2M98 1299.7h-5.2M98 1294.9h-5.2M98 1386.5h-5.2M98 1399.5h-5.2M98 1412.6h-5.2M98 1422h-5.2M98 1428h-5.2M98 1432.7h-5.2M98 1436.2h-5.2" stroke="#000" stroke-width="1.3" fill="none"/><rect x="92.5" y="1354.7" width="5.5" height="22.5" fill="#000"/><path d="M98 1357.7h-10.5M98 1362.7h-10.5M98 1367.2h-10.5M98 1374.7h-10.5" stroke="#000" stroke-width="3" fill="none"/><text transform="translate(60.97 1155.5) scale(0.930 1.035)" font-size="11.7" fill="#000">10</text><text transform="translate(73.3 1147.5) scale(0.930 1.035)" font-size="11.7" fill="#000">6</text><text transform="translate(60.97 1219.9) scale(0.930 1.035)" font-size="11.7" fill="#000">10</text><text transform="translate(73.41 1211.9) scale(0.930 1.035)" font-size="11.7" fill="#000">5</text><text transform="translate(60.97 1298.1) scale(0.930 1.035)" font-size="11.7" fill="#000">10</text><text transform="translate(73.6 1290.1) scale(0.930 1.035)" font-size="11.7" fill="#000">4</text><text transform="translate(66.67 1368.6) scale(0.930 1.035)" font-size="11.7" fill="#000">0</text><text transform="translate(53.42 1447.6) scale(0.930 1.035)" font-size="11.7" fill="#000">-10</text><text transform="translate(70.87 1439.6) scale(0.930 1.035)" font-size="11.7" fill="#000">4</text><text transform="translate(104.87 1489.4) scale(0.930 1.035)" font-size="11.7" fill="#000">10</text><text transform="translate(117.2 1485.5) scale(0.930 1.035)" font-size="11.7" fill="#000">2</text><text transform="translate(166.37 1489.4) scale(0.930 1.035)" font-size="11.7" fill="#000">10</text><text transform="translate(178.83 1485.5) scale(0.930 1.035)" font-size="11.7" fill="#000">3</text><text transform="translate(234.97 1489.4) scale(0.930 1.035)" font-size="11.7" fill="#000">10</text><text transform="translate(247.6 1485.5) scale(0.930 1.035)" font-size="11.7" fill="#000">4</text><text transform="translate(301.47 1489.4) scale(0.930 1.035)" font-size="11.7" fill="#000">10</text><text transform="translate(313.91 1485.5) scale(0.930 1.035)" font-size="11.7" fill="#000">5</text><text transform="translate(370.07 1489.4) scale(0.930 1.035)" font-size="11.7" fill="#000">10</text><text transform="translate(382.4 1485.5) scale(0.930 1.035)" font-size="11.7" fill="#000">6</text><text transform="translate(434.47 1489.4) scale(0.930 1.035)" font-size="11.7" fill="#000">10</text><text transform="translate(446.79 1485.5) scale(0.930 1.035)" font-size="11.7" fill="#000">7</text><text transform="translate(102.91 1132.2) scale(1.000 1.035)" font-size="14.6" fill="#000">Q1</text><text transform="translate(103.03 1154.2) scale(1.000 1.035)" font-size="14.6" fill="#000">0.47</text><text transform="translate(405.46 1132.2) scale(1.000 1.035)" font-size="14.6" fill="#000">Q2</text><text transform="translate(396.2 1154.2) scale(1.000 1.035)" font-size="14.6" fill="#000">15.5</text><text transform="translate(405.37 1418) scale(1.000 1.035)" font-size="14.6" fill="#000">Q3</text><text transform="translate(396.32 1440.3) scale(1.000 1.035)" font-size="14.6" fill="#000">23.7</text><text transform="translate(102.91 1418) scale(1.000 1.035)" font-size="14.6" fill="#000">Q4</text><text transform="translate(102.86 1440.3) scale(1.000 1.035)" font-size="14.6" fill="#000">60.3</text>
<g transform="translate(518.7 1104.88) scale(1.35)" fill="none" stroke-width="1.04"><path stroke="#18298a" d="M0 0m232 48h1m-11 5h1m18 1h1m-42 3h1m12 0h1m-29 1h1m25 0h1m4 1h1m5 1h1m3 0h1m-27 1h1m-16 1h1m-1 1h1m19 0h1m7 0h1m-11 1h1m17 0h1m-39 1h1m15 0h1m6 0h1m3 0h1m-17 1h1m13 0h2m5 0h1m5 0h1m-42 1h1m37 0h1m1 0h1m-46 1h1m1 0h1m6 0h1m23 0h1m15 0h1m5 0h1m-70 1h1m11 0h1m11 0h1m12 0h3m-15 1h1m1 0h1m12 0h1m3 0h2m16 0h1m2 0h1m-57 1h1m2 0h1m9 0h2m11 0h1m3 0h1m2 0h2m7 0h1m16 0h1m-66 1h1m11 0h1m2 0h1m1 0h1m2 0h1m1 0h1m8 0h1m5 0h1m4 0h1m1 0h1m3 0h1m-49 1h1m2 0h1m3 0h1m4 0h1m3 0h1m16 0h1m24 0h1m6 0h1m-69 1h2m15 0h1m5 0h1m6 0h1m2 0h1m5 0h1m1 0h4m1 0h1m5 0h1m-50 1h1m5 0h1m1 0h1m1 0h1m4 0h1m4 0h2m1 0h1m5 0h2m5 0h1m4 0h2m4 0h1m-55 1h1m3 0h1m7 0h1m2 0h1m8 0h1m12 0h1m2 0h1m1 0h1m4 0h1m3 0h1m-47 1h1m6 0h1m7 0h1m1 0h2m4 0h1m5 0h1m3 0h1m1 0h2m2 0h1m3 0h1m-63 1h1m8 0h1m5 0h1m4 0h1m1 0h3m6 0h2m1 0h1m6 0h1m11 0h1m2 0h1m13 0h1m1 0h1m1 0h2m2 0h1m6 0h1m-80 1h1m1 0h1m6 0h1m2 0h1m3 0h1m16 0h1m3 0h1m2 0h1m3 0h1m3 0h1m3 0h1m1 0h1m2 0h2m2 0h1m2 0h1m1 0h1m4 0h2m3 0h2m-75 1h2m6 0h1m3 0h1m6 0h2m3 0h1m2 0h1m4 0h4m4 0h1m3 0h1m8 0h1m2 0h2m10 0h1m-71 1h1m12 0h1m6 0h1m4 0h1m3 0h2m1 0h2m1 0h1m4 0h3m1 0h2m2 0h2m1 0h3m4 0h1m2 0h2m1 0h1m4 0h1m-76 1h2m5 0h1m1 0h2m2 0h1m6 0h1m3 0h1m2 0h1m1 0h2m1 0h1m2 0h1m1 0h1m1 0h1m2 0h1m1 0h4m1 0h9m1 0h2m1 0h1m2 0h1m3 0h1m3 0h1m3 0h1m-82 1h1m17 0h4m2 0h2m3 0h1m8 0h1m3 0h1m2 0h1m6 0h1m1 0h1m1 0h1m3 0h1m1 0h1m1 0h2m1 0h1m1 0h3m1 0h2m6 0h2m-73 1h1m4 0h1m2 0h1m2 0h1m3 0h3m12 0h10m6 0h3m6 0h1m2 0h1m3 0h1m1 0h1m5 0h1m-72 1h1m10 0h1m1 0h1m3 0h3m1 0h3m1 0h1m1 0h2m1 0h1m5 0h1m3 0h1m2 0h1m1 0h1m3 0h1m1 0h1m4 0h2m2 0h1m1 0h1m1 0h1m2 0h2m2 0h1m3 0h1m-88 1h1m7 0h1m4 0h3m3 0h2m4 0h1m9 0h1m2 0h2m1 0h2m4 0h1m1 0h1m1 0h4m2 0h6m7 0h1m7 0h1m4 0h1m-69 1h1m1 0h2m2 0h1m1 0h2m2 0h1m1 0h1m2 0h1m1 0h2m3 0h1m1 0h2m1 0h1m7 0h1m2 0h1m1 0h1m16 0h2m2 0h3m1 0h1m-81 1h1m12 0h1m2 0h1m2 0h1m1 0h1m4 0h1m3 0h1m1 0h1m9 0h1m2 0h2m4 0h1m3 0h1m3 0h1m6 0h1m2 0h3m1 0h1m4 0h1m2 0h2m5 0h1m-98 1h1m12 0h1m4 0h1m4 0h2m1 0h1m4 0h1m5 0h1m6 0h1m2 0h1m3 0h5m1 0h1m5 0h1m13 0h1m6 0h4m1 0h1m-100 1h1m22 0h2m1 0h1m2 0h3m17 0h1m8 0h1m4 0h2m2 0h2m1 0h1m3 0h1m1 0h1m6 0h1m6 0h1m2 0h1m1 0h2m7 0h1m-94 1h1m12 0h2m1 0h1m1 0h2m16 0h1m6 0h1m1 0h2m2 0h1m1 0h2m27 0h1m3 0h1m-77 1h1m7 0h1m2 0h1m17 0h1m1 0h1m1 0h1m3 0h1m7 0h1m2 0h1m4 0h1m12 0h1m3 0h1m4 0h2m2 0h1m3 0h1m3 0h1m-88 1h1m1 0h1m3 0h1m1 0h1m9 0h1m17 0h1m6 0h1m1 0h1m6 0h1m5 0h1m9 0h1m2 0h1m1 0h1m1 0h1m3 0h1m5 0h1m-91 1h1m8 0h1m3 0h1m1 0h1m19 0h1m6 0h1m1 0h1m31 0h2m-76 1h1m3 0h1m1 0h1m28 0h1m2 0h1m3 0h1m17 0h1m10 0h1m5 0h1m5 0h1m-84 1h2m3 0h1m1 0h1m2 0h1m1 0h1m31 0h1m25 0h7m2 0h1m-125 1h1m35 0h1m9 0h3m6 0h1m30 0h1m28 0h1m8 0h1m7 0h1m-92 1h1m4 0h1m35 0h1m3 0h1m28 0h2m1 0h1m1 0h1m3 0h2m-102 1h1m15 0h1m1 0h2m1 0h1m1 0h1m4 0h1m1 0h1m25 0h1m1 0h1m1 0h1m24 0h1m5 0h2m1 0h1m1 0h1m-95 1h1m14 0h2m1 0h1m1 0h1m2 0h3m2 0h1m22 0h1m1 0h2m3 0h2m21 0h2m1 0h1m3 0h1m4 0h1m-79 1h1m5 0h2m2 0h1m1 0h1m6 0h1m18 0h4m12 0h1m5 0h1m10 0h1m1 0h2m8 0h2m2 0h1m-88 1h1m3 0h1m3 0h1m15 0h1m11 0h1m3 0h1m1 0h2m23 0h1m2 0h1m2 0h3m17 0h1m-87 1h1m2 0h1m1 0h1m4 0h1m9 0h1m2 0h2m5 0h1m1 0h1m25 0h1m1 0h1m3 0h4m1 0h1m4 0h1m-87 1h1m2 0h1m4 0h2m1 0h1m5 0h1m16 0h2m1 0h1m4 0h2m3 0h1m24 0h1m2 0h1m1 0h1m7 0h1m1 0h1m-82 1h1m4 0h1m3 0h1m1 0h1m1 0h2m7 0h1m2 0h1m3 0h1m1 0h1m2 0h2m5 0h1m1 0h1m20 0h1m1 0h2m3 0h1m4 0h1m8 0h1m-79 1h1m7 0h3m1 0h2m7 0h1m3 0h1m1 0h1m2 0h4m15 0h1m10 0h1m19 0h1m-101 1h1m14 0h1m12 0h3m1 0h3m1 0h1m1 0h1m3 0h2m5 0h1m3 0h1m7 0h1m1 0h1m9 0h1m5 0h2m1 0h1m4 0h1m3 0h1m5 0h1m-81 1h1m3 0h1m6 0h1m1 0h1m3 0h5m1 0h8m6 0h1m3 0h1m14 0h1m1 0h1m2 0h1m3 0h1m1 0h1m6 0h1m2 0h1m2 0h1m-97 1h1m13 0h1m3 0h1m6 0h2m3 0h2m1 0h1m1 0h2m1 0h2m4 0h1m8 0h1m1 0h1m12 0h1m3 0h1m5 0h2m3 0h2m2 0h1m6 0h1m-86 1h1m5 0h1m4 0h1m1 0h3m1 0h2m1 0h1m1 0h1m3 0h1m1 0h1m1 0h1m1 0h1m3 0h1m5 0h1m1 0h1m1 0h4m7 0h5m2 0h2m1 0h1m3 0h2m4 0h1m5 0h1m-132 1h1m26 0h1m11 0h1m7 0h1m13 0h1m1 0h1m2 0h1m5 0h2m2 0h1m4 0h2m2 0h1m1 0h2m2 0h1m5 0h1m1 0h1m1 0h1m1 0h3m1 0h1m1 0h1m1 0h1m2 0h1m12 0h1m-93 1h1m16 0h1m10 0h2m2 0h3m4 0h1m5 0h1m1 0h3m1 0h1m2 0h3m4 0h1m5 0h1m3 0h1m2 0h1m1 0h1m1 0h2m3 0h1m4 0h1m-81 1h1m25 0h1m1 0h1m3 0h4m5 0h2m11 0h1m1 0h1m1 0h1m1 0h1m1 0h1m1 0h4m9 0h1m4 0h1m7 0h1m-110 1h1m15 0h1m17 0h3m2 0h1m2 0h1m2 0h1m4 0h1m1 0h1m1 0h1m16 0h1m4 0h2m1 0h1m1 0h2m1 0h1m5 0h1m1 0h1m4 0h2m3 0h1m2 0h1m1 0h2m-102 1h1m8 0h2m6 0h1m4 0h1m1 0h1m5 0h2m5 0h1m5 0h3m6 0h2m2 0h3m2 0h1m3 0h1m1 0h1m1 0h1m1 0h2m2 0h1m1 0h2m1 0h1m1 0h2m2 0h1m2 0h2m3 0h1m8 0h1m-104 1h1m3 0h1m7 0h1m1 0h1m2 0h1m3 0h3m1 0h1m3 0h1m4 0h1m1 0h1m1 0h1m2 0h1m9 0h2m1 0h2m1 0h1m7 0h2m3 0h1m1 0h3m2 0h1m4 0h4m6 0h1m2 0h1m3 0h1m4 0h1m-107 1h1m14 0h1m15 0h1m7 0h2m10 0h3m1 0h1m1 0h1m4 0h2m4 0h3m3 0h1m4 0h1m7 0h1m9 0h1m-111 1h1m33 0h1m4 0h2m2 0h1m6 0h2m1 0h1m6 0h3m2 0h1m1 0h1m1 0h2m5 0h1m1 0h1m2 0h1m1 0h2m1 0h1m1 0h4m1 0h2m1 0h1m3 0h1m1 0h1m4 0h3m-66 1h1m19 0h2m2 0h1m1 0h1m6 0h2m1 0h2m3 0h2m5 0h1m1 0h1m12 0h1m2 0h1m5 0h1m2 0h1m-101 1h1m7 0h1m9 0h2m5 0h1m12 0h1m5 0h1m2 0h1m1 0h3m1 0h1m5 0h1m1 0h1m6 0h1m2 0h1m1 0h1m2 0h4m17 0h1m4 0h1m-110 1h1m6 0h1m8 0h1m2 0h3m1 0h1m2 0h1m2 0h1m6 0h1m9 0h1m1 0h1m6 0h2m4 0h2m1 0h1m2 0h1m1 0h2m4 0h1m1 0h4m1 0h1m1 0h1m2 0h1m2 0h2m4 0h2m5 0h1m-89 1h1m3 0h1m3 0h1m17 0h3m5 0h1m7 0h1m1 0h1m1 0h1m9 0h2m2 0h4m3 0h1m2 0h1m4 0h1m8 0h1m5 0h1m2 0h1m-120 1h1m20 0h1m13 0h1m2 0h1m5 0h1m1 0h2m1 0h1m7 0h2m3 0h1m4 0h3m8 0h1m2 0h1m1 0h1m1 0h1m1 0h2m7 0h1m1 0h1m2 0h1m2 0h1m3 0h1m5 0h1m-97 1h1m9 0h1m2 0h3m5 0h1m4 0h1m3 0h1m3 0h1m3 0h1m1 0h1m7 0h1m8 0h1m3 0h1m3 0h1m2 0h2m4 0h1m1 0h1m6 0h1m7 0h1m1 0h1m3 0h1m-95 1h1m4 0h1m8 0h1m10 0h1m1 0h1m8 0h2m1 0h1m4 0h1m1 0h1m5 0h1m2 0h1m3 0h1m1 0h1m2 0h4m15 0h2m8 0h1m-114 1h1m18 0h1m8 0h2m7 0h1m7 0h1m2 0h1m2 0h1m2 0h1m1 0h1m2 0h1m1 0h1m2 0h2m1 0h1m6 0h1m6 0h1m13 0h1m6 0h1m2 0h1m8 0h1m-109 1h1m3 0h1m3 0h1m10 0h2m9 0h1m3 0h1m4 0h1m3 0h1m5 0h1m5 0h1m1 0h1m9 0h2m2 0h2m2 0h1m2 0h2m5 0h1m1 0h1m-68 1h1m3 0h1m12 0h1m2 0h1m1 0h1m1 0h1m1 0h1m1 0h1m3 0h3m1 0h1m5 0h2m1 0h1m2 0h1m1 0h1m4 0h1m1 0h1m3 0h1m2 0h1m2 0h2m6 0h1m5 0h1m5 0h1m-108 1h1m15 0h1m12 0h1m2 0h1m3 0h1m4 0h1m8 0h1m5 0h1m1 0h1m9 0h3m2 0h1m3 0h1m7 0h1m1 0h1m1 0h1m2 0h1m11 0h1m-76 1h1m1 0h5m2 0h3m2 0h1m2 0h4m2 0h1m10 0h1m3 0h3m2 0h1m8 0h1m1 0h1m10 0h1m3 0h1m2 0h2m2 0h2m-93 1h1m5 0h1m1 0h1m7 0h3m3 0h3m5 0h1m1 0h3m1 0h1m8 0h1m4 0h1m1 0h1m2 0h2m1 0h1m1 0h1m2 0h2m1 0h1m2 0h1m1 0h1m1 0h1m5 0h1m4 0h1m3 0h1m1 0h1m-86 1h1m1 0h1m1 0h1m4 0h2m3 0h2m3 0h1m2 0h3m3 0h1m1 0h1m1 0h1m2 0h1m4 0h1m1 0h1m4 0h2m1 0h2m1 0h2m3 0h1m1 0h3m1 0h1m4 0h1m1 0h1m-70 1h1m2 0h1m11 0h1m3 0h1m1 0h1m1 0h1m6 0h1m1 0h1m1 0h1m1 0h1m7 0h1m1 0h2m1 0h1m5 0h1m4 0h1m1 0h1m2 0h1m6 0h2m1 0h1m2 0h1m2 0h1m-100 1h1m8 0h1m12 0h1m4 0h1m5 0h1m2 0h1m4 0h2m2 0h1m2 0h4m1 0h1m1 0h1m2 0h2m5 0h1m3 0h1m2 0h1m3 0h1m1 0h2m4 0h1m6 0h1m1 0h1m-95 1h1m16 0h1m2 0h1m2 0h1m2 0h1m1 0h2m2 0h1m5 0h1m6 0h1m8 0h1m3 0h1m1 0h1m1 0h1m1 0h3m3 0h1m3 0h1m5 0h3m5 0h1m3 0h3m3 0h1m1 0h1m1 0h1m-101 1h1m18 0h1m1 0h1m4 0h1m1 0h1m2 0h1m25 0h1m2 0h2m4 0h1m2 0h1m3 0h1m4 0h1m1 0h2m8 0h1m7 0h1m-107 1h1m13 0h1m17 0h1m2 0h1m1 0h1m1 0h2m1 0h1m3 0h1m5 0h1m10 0h1m5 0h1m1 0h1m1 0h1m1 0h1m1 0h1m2 0h1m1 0h2m3 0h1m1 0h2m1 0h2m6 0h1m1 0h1m-96 1h1m5 0h3m17 0h1m11 0h1m2 0h1m2 0h1m3 0h2m6 0h1m5 0h1m1 0h2m1 0h1m2 0h1m2 0h2m3 0h7m5 0h1m4 0h2m-97 1h1m1 0h1m14 0h1m1 0h1m3 0h1m7 0h1m2 0h3m1 0h1m1 0h1m1 0h1m7 0h1m5 0h1m4 0h1m1 0h1m4 0h1m2 0h1m5 0h3m1 0h1m1 0h1m3 0h1m6 0h1m-82 1h1m2 0h1m8 0h1m4 0h1m1 0h4m4 0h1m8 0h1m2 0h1m4 0h1m3 0h1m1 0h4m6 0h3m3 0h2m1 0h2m2 0h1m2 0h1m7 0h1m-139 1h1m31 0h1m2 0h1m4 0h1m4 0h1m2 0h2m14 0h1m4 0h2m1 0h3m7 0h2m6 0h1m9 0h1m1 0h2m1 0h1m2 0h5m2 0h1m1 0h2m3 0h4m2 0h1m4 0h1m3 0h1m-80 1h1m1 0h3m6 0h1m13 0h1m1 0h1m5 0h1m6 0h1m1 0h1m1 0h1m2 0h1m1 0h2m4 0h1m3 0h1m1 0h1m1 0h1m2 0h1m2 0h2m2 0h2m-109 1h1m7 0h2m16 0h1m2 0h1m1 0h1m8 0h1m5 0h1m2 0h1m2 0h1m1 0h1m4 0h2m11 0h2m4 0h3m3 0h3m2 0h1m1 0h1m2 0h1m1 0h1m4 0h2m3 0h1m1 0h1m5 0h1m-103 1h1m9 0h1m1 0h1m3 0h1m1 0h1m2 0h2m5 0h2m2 0h1m2 0h1m1 0h2m2 0h1m5 0h1m14 0h1m1 0h1m1 0h1m1 0h1m2 0h1m6 0h3m3 0h1m1 0h1m3 0h2m-94 1h1m4 0h1m10 0h1m7 0h1m1 0h1m8 0h1m1 0h1m2 0h1m1 0h1m2 0h1m8 0h1m4 0h2m1 0h1m1 0h1m3 0h1m2 0h1m3 0h1m2 0h1m2 0h2m1 0h1m3 0h1m4 0h1m8 0h1m-125 1h1m13 0h1m21 0h1m9 0h1m4 0h1m1 0h1m1 0h1m3 0h1m3 0h1m3 0h1m13 0h2m1 0h1m4 0h2m3 0h1m3 0h3m1 0h5m3 0h2m2 0h1m2 0h1m1 0h1m-95 1h1m8 0h1m9 0h1m1 0h1m16 0h1m4 0h1m10 0h1m2 0h1m4 0h1m6 0h1m3 0h1m1 0h1m4 0h1m2 0h1m2 0h1m1 0h5m-105 1h2m6 0h1m17 0h1m7 0h2m5 0h3m2 0h2m4 0h1m11 0h1m1 0h1m1 0h2m9 0h1m1 0h1m2 0h1m3 0h2m4 0h1m1 0h2m2 0h2m5 0h2m-87 1h1m3 0h1m8 0h3m1 0h1m2 0h1m9 0h1m1 0h1m1 0h1m8 0h1m3 0h1m4 0h1m6 0h1m2 0h2m5 0h2m2 0h3m2 0h1m2 0h1m-80 1h1m1 0h2m1 0h1m2 0h1m1 0h1m1 0h5m2 0h1m2 0h2m3 0h1m2 0h1m6 0h1m1 0h1m1 0h1m4 0h2m1 0h1m2 0h2m2 0h2m2 0h1m9 0h1m1 0h2m1 0h1m2 0h2m-84 1h1m7 0h2m4 0h2m4 0h1m6 0h2m3 0h2m15 0h1m4 0h1m3 0h2m2 0h1m1 0h2m1 0h4m1 0h1m1 0h1m1 0h2m5 0h1m4 0h2m-102 1h1m1 0h1m3 0h2m2 0h1m4 0h1m1 0h1m2 0h1m2 0h1m1 0h3m5 0h1m5 0h1m1 0h3m8 0h1m7 0h2m1 0h1m1 0h2m1 0h1m1 0h1m1 0h2m2 0h3m5 0h1m3 0h1m7 0h1m-83 1h1m10 0h1m1 0h1m11 0h2m2 0h1m13 0h4m3 0h1m1 0h1m1 0h1m1 0h1m1 0h2m3 0h1m1 0h5m1 0h1m3 0h2m6 0h1m-104 1h1m10 0h1m10 0h1m5 0h1m6 0h1m1 0h1m3 0h1m5 0h3m13 0h1m2 0h1m4 0h3m2 0h3m1 0h1m1 0h1m2 0h1m2 0h2m1 0h3m4 0h1m1 0h1m2 0h2m-95 1h1m4 0h1m5 0h2m3 0h1m3 0h6m1 0h1m2 0h1m3 0h2m2 0h1m17 0h3m1 0h1m2 0h1m3 0h2m2 0h2m1 0h1m1 0h8m6 0h1m2 0h1m-108 1h1m4 0h1m6 0h1m6 0h1m3 0h1m14 0h1m4 0h1m2 0h1m4 0h1m22 0h3m1 0h1m2 0h1m1 0h6m2 0h1m6 0h1m6 0h1m2 0h1m-102 1h1m8 0h1m8 0h1m6 0h1m2 0h1m1 0h3m2 0h1m1 0h1m1 0h3m1 0h1m2 0h1m6 0h1m8 0h1m2 0h2m2 0h2m1 0h4m4 0h2m4 0h1m2 0h2m1 0h3m4 0h1m-97 1h1m2 0h1m11 0h1m4 0h1m3 0h1m2 0h2m2 0h4m1 0h1m18 0h2m2 0h2m7 0h2m2 0h2m1 0h1m1 0h1m2 0h1m6 0h1m3 0h1m1 0h1m-92 1h1m1 0h1m6 0h1m4 0h1m4 0h1m1 0h1m2 0h1m5 0h1m4 0h3m12 0h1m12 0h1m1 0h1m1 0h1m3 0h2m4 0h1m2 0h1m1 0h1m1 0h1m3 0h1m4 0h1m2 0h1m-88 1h1m3 0h1m2 0h1m3 0h1m3 0h1m1 0h1m2 0h1m2 0h2m2 0h1m15 0h3m1 0h1m1 0h1m6 0h3m3 0h1m3 0h1m1 0h1m1 0h1m4 0h1m3 0h1m1 0h2m-84 1h2m1 0h2m3 0h1m1 0h1m3 0h2m2 0h2m1 0h1m2 0h1m1 0h2m1 0h1m1 0h1m13 0h1m1 0h1m1 0h1m2 0h1m7 0h1m1 0h3m1 0h1m3 0h2m1 0h2m10 0h1m-107 1h1m4 0h1m2 0h1m19 0h2m1 0h2m2 0h1m4 0h4m3 0h1m21 0h2m1 0h1m3 0h3m1 0h1m2 0h1m1 0h4m6 0h2m2 0h1m1 0h1m4 0h1m2 0h1m-100 1h1m16 0h1m6 0h2m8 0h1m4 0h3m11 0h1m2 0h2m2 0h1m1 0h4m1 0h2m2 0h1m1 0h1m1 0h2m2 0h2m3 0h1m4 0h1m-98 1h1m3 0h1m8 0h1m1 0h1m2 0h2m5 0h4m11 0h4m19 0h1m3 0h3m1 0h5m6 0h1m3 0h1m-76 1h1m9 0h2m2 0h1m9 0h2m4 0h1m23 0h2m4 0h1m4 0h1m1 0h2m2 0h1m2 0h2m2 0h1m1 0h1m4 0h1m9 0h1m-105 1h1m27 0h1m10 0h3m16 0h1m1 0h2m1 0h2m1 0h1m2 0h1m2 0h1m4 0h1m2 0h3m2 0h1m1 0h1m1 0h2m1 0h3m2 0h1m-96 1h1m20 0h1m4 0h1m3 0h4m2 0h4m22 0h2m5 0h1m3 0h1m1 0h1m1 0h2m11 0h2m3 0h1m-98 1h1m15 0h1m1 0h1m2 0h1m13 0h1m2 0h1m1 0h1m25 0h2m1 0h1m4 0h1m6 0h2m5 0h1m2 0h1m1 0h3m1 0h1m-102 1h1m7 0h1m7 0h1m1 0h1m2 0h2m1 0h1m2 0h2m2 0h1m1 0h1m8 0h1m1 0h1m19 0h1m1 0h2m2 0h4m2 0h1m5 0h1m1 0h1m1 0h1m2 0h1m1 0h1m7 0h1m-100 1h1m2 0h1m6 0h1m11 0h1m1 0h3m4 0h1m9 0h1m22 0h3m4 0h3m2 0h1m3 0h1m2 0h1m1 0h2m5 0h1m-80 1h1m1 0h1m5 0h1m2 0h3m2 0h1m7 0h2m1 0h1m1 0h2m18 0h1m2 0h1m2 0h1m1 0h1m1 0h1m1 0h1m1 0h1m5 0h1m2 0h1m4 0h1m4 0h2m-92 1h1m9 0h1m7 0h1m2 0h1m2 0h3m6 0h2m1 0h1m18 0h1m2 0h2m2 0h1m1 0h1m5 0h2m1 0h2m3 0h1m2 0h1m5 0h2m2 0h1m-97 1h1m3 0h1m6 0h1m17 0h2m3 0h1m3 0h1m21 0h1m11 0h2m3 0h1m1 0h2m1 0h2m3 0h1m2 0h2m1 0h1m-77 1h1m3 0h1m6 0h1m1 0h1m3 0h1m1 0h1m25 0h1m3 0h3m2 0h2m10 0h3m-75 1h1m5 0h2m13 0h1m23 0h1m2 0h1m1 0h1m1 0h1m2 0h1m1 0h1m1 0h1m2 0h1m4 0h2m7 0h3m-110 1h1m35 0h1m5 0h2m2 0h1m5 0h1m1 0h3m22 0h2m1 0h3m2 0h2m1 0h1m1 0h1m2 0h1m1 0h1m7 0h3m-86 1h2m5 0h1m22 0h1m26 0h1m2 0h1m3 0h2m2 0h7m1 0h1m1 0h2m2 0h3m11 0h1m1 0h1m-95 1h1m11 0h1m5 0h2m2 0h1m1 0h1m26 0h1m3 0h2m2 0h2m7 0h1m3 0h1m3 0h1m1 0h1m2 0h1m-99 1h1m22 0h1m12 0h1m6 0h1m23 0h2m2 0h1m1 0h5m3 0h2m3 0h2m1 0h1m2 0h1m2 0h1m3 0h1m-76 1h1m10 0h1m3 0h2m23 0h1m3 0h1m2 0h3m1 0h2m1 0h1m1 0h1m1 0h3m3 0h1m-59 1h3m1 0h1m5 0h1m24 0h1m1 0h1m5 0h2m1 0h6m2 0h1m5 0h1m1 0h1m-64 1h1m1 0h1m38 0h1m1 0h4m6 0h3m2 0h1m1 0h1m-89 1h1m20 0h1m7 0h1m1 0h2m28 0h2m5 0h2m1 0h1m3 0h2m2 0h1m3 0h2m4 0h1m4 0h2m-83 1h1m5 0h1m2 0h1m4 0h1m4 0h1m32 0h1m2 0h2m4 0h2m1 0h2m3 0h1m1 0h1m2 0h2m1 0h2m-94 1h1m20 0h2m1 0h1m6 0h1m35 0h1m2 0h1m1 0h1m1 0h1m6 0h1m1 0h1m1 0h3m4 0h1m-92 1h1m6 0h1m14 0h1m1 0h2m3 0h1m29 0h2m2 0h3m5 0h2m3 0h1m1 0h2m5 0h1m1 0h1m-136 1h1m41 0h1m2 0h1m11 0h1m3 0h1m1 0h2m3 0h1m39 0h3m5 0h1m2 0h1m3 0h1m6 0h1m-138 1h1m31 0h1m5 0h1m2 0h1m6 0h1m8 0h1m6 0h3m44 0h3m11 0h1m1 0h1m1 0h5m2 0h3m-136 1h1m15 0h1m12 0h1m1 0h1m5 0h1m3 0h1m2 0h1m3 0h2m1 0h3m2 0h1m1 0h1m1 0h1m1 0h2m41 0h1m4 0h4m2 0h1m1 0h6m1 0h1m11 0h2m-145 1h1m1 0h1m2 0h1m3 0h1m1 0h1m7 0h1m13 0h1m2 0h1m3 0h1m12 0h2m65 0h1m1 0h1m6 0h3m1 0h1m3 0h1m1 0h1m2 0h1m-159 1h1m1 0h2m4 0h2m4 0h1m4 0h4m4 0h1m1 0h1m6 0h1m6 0h1m5 0h1m6 0h1m67 0h1m5 0h1m1 0h1m3 0h4m4 0h1m5 0h1m5 0h1m-160 1h1m8 0h1m2 0h3m4 0h1m3 0h1m1 0h1m4 0h2m15 0h1m12 0h1m6 0h1m63 0h1m3 0h1m4 0h2m1 0h2m1 0h1m1 0h1m5 0h1m-152 1h1m3 0h2m1 0h1m2 0h1m1 0h1m2 0h1m2 0h1m2 0h1m1 0h1m2 0h1m96 0h1m4 0h3m7 0h3m11 0h1m-154 1h3m1 0h4m2 0h2m1 0h3m105 0h4m2 0h1m1 0h1m1 0h1m2 0h2m2 0h1m3 0h1m5 0h1m5 0h1m-153 1h1m3 0h1m3 0h2m3 0h1m2 0h1m8 0h2m10 0h2m72 0h1m1 0h1m9 0h2m7 0h2m1 0h2m14 0h1m-153 1h1m7 0h1m2 0h1m4 0h2m1 0h1m4 0h1m3 0h1m5 0h3m1 0h1m1 0h1m3 0h2m3 0h1m15 0h1m35 0h2m2 0h1m4 0h1m3 0h1m1 0h1m2 0h2m1 0h1m3 0h1m2 0h2m1 0h2m1 0h1m3 0h2m-131 1h1m5 0h1m1 0h1m7 0h1m7 0h1m1 0h2m1 0h2m1 0h1m8 0h1m1 0h3m9 0h1m1 0h1m7 0h3m2 0h1m4 0h1m1 0h1m1 0h2m2 0h1m3 0h1m4 0h2m6 0h1m1 0h1m10 0h2m2 0h2m3 0h1m5 0h1m3 0h1m-123 1h2m5 0h5m7 0h2m11 0h1m9 0h1m1 0h1m11 0h1m9 0h2m7 0h1m7 0h1m4 0h1m4 0h1m8 0h2m5 0h6m-116 1h1m9 0h1m31 0h1m10 0h1m28 0h1m12 0h1m9 0h1m-80 1h1m43 0h1m23 0h1m8 0h1m5 0h1m1 0h1m1 0h1m3 0h1m-34 1h1m3 0h1m13 0h1m14 0h1m1 0h1m-5 1h1m-10 1h1m-30 1h1m21 0h1"/><path stroke="#1f3fa8" d="M0 0m212 82h1m-15 1h1m-6 1h1m5 0h1m1 0h2m1 0h1m2 0h1m1 0h1m-13 1h1m5 0h1m6 0h1m3 0h1m-34 1h1m11 0h1m6 0h3m1 0h1m3 0h2m-59 1h1m22 0h1m8 0h1m11 0h1m4 0h1m3 0h1m1 0h3m1 0h1m-41 1h1m2 0h1m1 0h1m1 0h1m1 0h1m13 0h1m1 0h1m4 0h1m1 0h1m1 0h1m1 0h1m4 0h1m1 0h1m-55 1h2m1 0h1m2 0h2m2 0h3m7 0h2m8 0h1m1 0h1m3 0h1m4 0h1m2 0h1m-50 1h1m6 0h3m7 0h1m1 0h1m12 0h1m5 0h2m1 0h1m4 0h1m4 0h1m1 0h1m1 0h1m2 0h1m-57 1h1m1 0h2m6 0h1m1 0h2m1 0h1m7 0h1m4 0h1m5 0h1m1 0h2m1 0h1m11 0h1m2 0h1m-59 1h1m7 0h4m3 0h1m1 0h1m1 0h1m2 0h1m4 0h1m3 0h1m1 0h1m2 0h1m1 0h2m14 0h1m5 0h1m-65 1h1m1 0h1m3 0h1m3 0h1m3 0h1m2 0h2m2 0h1m1 0h2m5 0h2m5 0h1m7 0h1m7 0h1m1 0h1m1 0h1m-60 1h1m4 0h1m4 0h1m5 0h1m3 0h1m3 0h1m8 0h1m4 0h2m4 0h2m6 0h1m3 0h1m4 0h1m1 0h1m-66 1h1m1 0h2m6 0h1m11 0h1m3 0h1m1 0h1m4 0h1m4 0h2m2 0h1m4 0h1m9 0h1m3 0h1m-62 1h1m2 0h1m2 0h2m2 0h1m8 0h1m2 0h2m1 0h2m1 0h1m3 0h1m1 0h1m3 0h2m4 0h1m6 0h1m8 0h2m-64 1h1m1 0h1m2 0h2m4 0h1m2 0h1m11 0h1m4 0h1m5 0h1m3 0h3m1 0h2m12 0h1m3 0h1m-64 1h4m12 0h1m8 0h3m2 0h1m1 0h3m2 0h1m1 0h1m18 0h2m1 0h2m-66 1h1m24 0h1m1 0h1m3 0h1m1 0h1m1 0h1m2 0h1m4 0h1m-39 1h1m3 0h2m3 0h1m13 0h1m1 0h1m2 0h1m4 0h1m1 0h2m10 0h1m8 0h1m2 0h1m-59 1h1m3 0h2m2 0h1m2 0h2m1 0h1m1 0h1m1 0h1m1 0h1m1 0h2m5 0h3m1 0h3m1 0h1m2 0h1m12 0h1m2 0h1m-63 1h1m7 0h3m1 0h1m1 0h1m1 0h1m1 0h1m2 0h2m3 0h1m1 0h1m2 0h1m6 0h1m6 0h2m1 0h1m1 0h1m2 0h1m3 0h1m1 0h1m-58 1h1m3 0h3m7 0h1m5 0h1m2 0h2m9 0h1m2 0h1m2 0h1m14 0h1m-57 1h1m4 0h2m3 0h3m4 0h3m8 0h1m7 0h3m1 0h1m2 0h1m1 0h3m-39 1h1m9 0h1m1 0h1m1 0h1m8 0h2m1 0h1m1 0h1m2 0h2m1 0h1m1 0h1m1 0h1m3 0h2m-46 1h1m6 0h1m5 0h1m5 0h1m10 0h2m1 0h1m1 0h3m3 0h1m1 0h1m3 0h1m-40 1h1m4 0h1m9 0h3m2 0h1m3 0h1m2 0h1m1 0h1m11 0h1m-51 1h1m4 0h2m19 0h1m3 0h2m4 0h1m1 0h1m2 0h3m2 0h1m-25 1h1m3 0h2m6 0h2m1 0h1m4 0h1m1 0h1m-20 1h1m1 0h1m1 0h1m4 0h1m2 0h1m-13 1h2m5 0h1m3 0h1m-16 1h1m1 0h1m5 0h1m9 0h1m-14 1h1m1 0h5m1 0h1m1 0h1m1 0h1m1 0h1m-17 1h2m3 0h2m4 0h1m-6 1h1m4 0h1m-16 1h1m4 0h1m1 0h1m1 0h2m5 0h1m-14 1h1m13 0h2m-8 1h2m-6 1h2m7 0h1m-14 1h1m10 0h2m-18 1h1m4 0h1m8 0h1m2 0h1m2 0h1m-15 1h1m2 0h1m1 0h1m-18 1h1m11 0h2m7 0h1m-16 1h1m2 0h1m1 0h1m7 0h1m-15 1h1m6 0h1m3 0h1m-15 1h1m7 0h3m5 0h1m3 0h1m1 0h1m-25 1h1m12 0h2m2 0h1m12 0h1m-25 1h1m2 0h1m2 0h1m1 0h1m2 0h1m-19 1h2m8 0h1m3 0h1m9 0h1m-26 1h1m6 0h2m6 0h2m-16 1h1m3 0h1m5 0h1m5 0h2m-21 1h1m6 0h1m7 0h2m11 0h1m18 0h1m-37 1h1m3 0h1m2 0h1m-8 1h2m6 0h1m2 0h1m5 0h3m-30 1h2m1 0h1m12 0h1m14 0h1m7 0h1m-43 1h1m4 0h1m7 0h2m1 0h1m3 0h1m16 0h1m-33 1h3m1 0h1m2 0h1m3 0h1m-13 1h1m2 0h2m6 0h1m12 0h1m-28 1h1m1 0h1m1 0h2m3 0h2m4 0h1m-17 1h2m1 0h1m1 0h1m21 0h2m-29 1h1m2 0h2m3 0h1m1 0h1m1 0h3m-17 1h1m1 0h1m2 0h1m4 0h3m1 0h1m-11 1h1m4 0h3m6 0h2m14 0h1m-37 1h1m4 0h1m2 0h1m1 0h1m1 0h2m3 0h1m10 0h1m-28 1h2m4 0h1m3 0h1m3 0h1m3 0h1m8 0h1m10 0h1m-40 1h3m3 0h2m3 0h2m15 0h1m-27 1h1m2 0h1m1 0h1m1 0h1m3 0h1m2 0h1m-19 1h1m1 0h1m1 0h1m7 0h1m4 0h1m3 0h1m2 0h1m-23 1h1m1 0h2m7 0h3m4 0h1m1 0h1m3 0h1m-24 1h2m8 0h4m8 0h1m4 0h1m-30 1h2m2 0h1m1 0h2m1 0h2m1 0h3m2 0h1m3 0h1m10 0h1m-50 1h1m10 0h1m3 0h1m3 0h1m5 0h3m10 0h1m-14 1h2m6 0h1m2 0h1m-22 1h1m2 0h1m1 0h1m1 0h1m6 0h1m3 0h2m13 0h1m-35 1h1m1 0h1m2 0h1m0 1h1m3 0h1m2 0h1m1 0h1m3 0h1m-7 1h1m4 0h1m-20 1h2m7 0h2m9 0h1m2 0h1m-26 1h2m2 0h1m9 0h2m8 0h1m1 0h1m1 0h1m-24 1h1m7 0h1m18 0h1m10 0h1m-46 1h1m14 0h1m2 0h1m1 0h1m4 0h1m4 0h1m-28 1h1m12 0h1m1 0h2m-4 1h1m5 0h1m4 0h1m5 0h1m-36 1h1m1 0h1m22 0h1m12 0h1m-41 1h2m2 0h1m12 0h1m8 0h2m9 0h1m-36 1h1m15 0h1m10 0h1m7 0h1m-35 1h2m10 0h2m1 0h1m3 0h1m6 0h1m2 0h2m-12 1h2m-24 1h1m4 0h1m7 0h1m4 0h1m-21 1h1m2 0h1m16 0h1m13 0h1m-34 1h2m18 0h1m6 0h1m-32 1h1m1 0h1m14 0h3m2 0h1m3 0h1m9 2h1m-39 1h1m18 0h2m1 0h1m1 0h1m6 0h1m-32 1h1m12 0h1m13 0h1m-31 1h1m19 0h1m1 0h1m2 0h1m2 0h2m-31 1h1m19 0h2m2 0h2m-6 1h2m2 0h2m-6 1h1m4 0h1m-32 1h1m23 0h2m1 0h1m-31 1h1m2 0h1m24 0h4m1 0h1m6 0h1m-41 1h3m20 0h1m13 0h1m-40 1h1m27 0h1m14 0h1m3 0h1m-22 1h1m1 0h2m3 0h1m4 0h1m2 0h1m-14 1h1m19 0h1m-62 1h2m2 0h1m1 0h1m1 0h1m27 0h1m1 0h1m10 0h1m-59 1h1m2 0h3m1 0h1m48 0h1m4 0h1m-81 1h1m1 0h1m11 0h1m4 0h1m39 0h1m1 0h2m-90 1h1m6 0h1m2 0h1m3 0h1m2 0h1m1 0h1m3 0h4m1 0h1m2 0h1m4 0h1m8 0h1m1 0h1m39 0h3m3 0h1m-109 1h1m4 0h1m1 0h1m1 0h1m2 0h1m1 0h2m3 0h1m1 0h1m4 0h2m1 0h1m2 0h1m2 0h1m2 0h1m2 0h2m4 0h1m10 0h1m41 0h1m-114 1h1m6 0h1m1 0h1m1 0h2m4 0h2m1 0h1m3 0h1m1 0h1m3 0h1m3 0h1m3 0h2m8 0h1m62 0h1m9 0h1m-121 1h1m5 0h1m2 0h1m2 0h1m2 0h1m6 0h1m11 0h1m4 0h1m15 0h1m25 0h1m-80 1h1m2 0h1m3 0h1m2 0h3m4 0h1m81 0h3m1 0h1m-101 1h1m3 0h1m5 0h1m4 0h1m2 0h1m3 0h2m2 0h2m2 0h1m3 0h4m6 0h1m10 0h1m26 0h2m-82 1h1m8 0h3m7 0h1m2 0h1m4 0h1m2 0h1m12 0h2m2 0h2m2 0h1m1 0h2m1 0h1m2 0h1m9 0h1m4 0h3m3 0h1m6 0h1m1 0h1m-77 1h1m15 0h1m11 0h1m7 0h1m2 0h1m8 0h2m16 0h1"/><path stroke="#3a8fd0" d="M0 0m170 82h1m34 4h2m-45 1h1m38 0h1m-46 1h1m7 0h1m3 0h1m20 0h1m6 0h2m1 0h1m-28 1h1m15 0h1m3 0h1m9 0h1m1 0h2m-53 1h1m4 0h2m6 0h1m1 0h1m28 0h1m3 0h1m2 0h1m1 0h1m1 0h1m-56 1h3m1 0h1m14 0h1m14 0h1m1 0h1m8 0h1m5 0h1m1 0h1m-53 1h2m1 0h3m39 0h1m2 0h1m8 0h1m-63 1h1m3 0h1m1 0h2m16 0h1m14 0h1m5 0h3m5 0h1m-46 1h2m1 0h2m3 0h1m6 0h1m14 0h1m4 0h1m2 0h1m8 0h1m-57 1h1m2 0h2m2 0h2m8 0h1m1 0h1m7 0h1m5 0h1m6 0h1m13 0h1m3 0h1m-58 1h1m6 0h1m3 0h1m3 0h2m8 0h2m8 0h1m1 0h2m2 0h2m-42 1h3m4 0h1m7 0h1m1 0h1m1 0h4m2 0h1m13 0h1m3 0h1m2 0h1m1 0h1m3 0h2m-55 1h2m2 0h1m1 0h1m1 0h1m6 0h1m18 0h1m1 0h2m1 0h1m4 0h1m3 0h1m-56 1h1m6 0h1m3 0h1m2 0h1m10 0h1m13 0h1m1 0h1m2 0h2m11 0h1m1 0h1m-56 1h1m4 0h1m5 0h1m7 0h2m15 0h4m3 0h1m3 0h1m2 0h1m5 0h1m-49 1h2m2 0h1m1 0h1m1 0h1m20 0h2m4 0h1m1 0h1m3 0h1m3 0h1m-48 1h1m6 0h1m4 0h1m14 0h1m11 0h1m2 0h1m2 0h1m-40 1h1m9 0h1m5 0h1m1 0h1m2 0h2m2 0h1m5 0h1m1 0h2m1 0h1m-46 1h1m4 0h1m18 0h1m5 0h1m8 0h1m1 0h3m3 0h1m-45 1h1m25 0h2m8 0h1m4 0h1m1 0h1m-20 1h1m4 0h1m3 0h1m-12 1h1m3 0h1m1 0h1m4 0h1m-6 1h1m2 0h1m-7 1h1m3 1h1m2 0h1m-11 1h1m9 0h1m-3 1h2m-14 1h1m6 2h1m-8 2h1m1 2h1m0 1h1m0 2h1m0 1h2m-11 1h1m3 0h3m2 0h1m-11 1h1m0 1h1m5 0h1m-6 1h1m-2 1h1m2 1h2m-6 1h1m10 0h1m-9 1h1m-3 1h1m-3 1h1m-4 1h1m-5 1h1m1 1h1m-4 1h1m3 0h1m6 0h1m-6 1h1m1 0h1m-4 1h1m-6 1h1m3 0h1m-2 1h1m-6 1h1m3 0h1m4 0h1m1 0h1m-13 1h1m3 0h1m4 0h2m-12 1h1m1 0h2m1 0h1m1 0h1m-3 1h2m-8 1h2m3 0h1m-10 1h1m4 0h1m-1 1h1m1 0h1m1 0h1m-9 2h1m8 0h1m7 0h1m2 0h1m11 0h1m-29 1h1m2 0h1m-6 1h1m3 0h1m-1 1h1m2 0h1m4 0h1m-12 1h1m1 0h1m3 0h1m-13 1h1m2 0h1m2 0h1m1 0h1m1 0h1m8 0h1m-21 1h1m1 0h1m6 0h1m4 0h1m-10 1h1m2 0h1m1 0h1m-5 1h1m3 0h1m-12 1h1m6 0h1m-9 1h1m6 0h3m1 0h1m-10 1h1m8 0h1m-15 1h1m11 0h1m-10 1h1m-5 1h1m2 0h2m8 0h1m13 1h1m-28 1h2m10 0h1m-15 1h1m3 0h1m7 0h1m1 3h1m-17 2h1m11 0h1m-12 1h1m9 0h1m3 0h1m-18 1h1m17 0h1m-21 1h1m2 0h1m20 0h1m-29 2h1m4 0h1m-6 1h1m-5 2h2m17 0h1m-3 1h1m7 0h1m2 0h1m-32 1h1m19 1h1m-5 1h1m1 0h2m-29 1h1m24 0h1m8 0h1m-36 1h1m26 0h1m-3 1h1m-34 1h2m-19 1h1m9 0h1m5 0h1m4 0h1m-40 1h1m10 0h2m6 0h1m2 0h1m40 0h1m16 0h1m-114 1h1m6 0h1m2 0h1m8 0h1m10 0h1m6 0h1m2 0h2m1 0h1m8 0h1m9 0h1m3 0h1m-58 1h1m1 0h1m3 0h1m1 0h1m1 0h1m1 0h1m6 0h1m15 0h1m10 0h1m40 0h1m9 0h1m-119 1h1m12 0h3m5 0h2m1 0h1m9 0h2m8 0h1m3 0h1m55 0h1m-98 1h2m3 0h1m4 0h1m2 0h1m6 0h1m10 0h1m4 0h1m1 0h1m5 0h1m3 0h1m20 0h1m20 0h1m-94 1h1m9 0h3m4 0h1m4 0h1m8 0h1m5 0h1m8 0h1m3 0h1m1 0h1m1 0h1m3 0h1m4 0h1m5 0h1m14 0h1m6 0h1m-58 1h1m3 0h1m1 0h1m1 0h1m3 0h1m3 0h1m1 0h1m4 0h1m2 0h2m2 0h2m1 0h2m9 0h2m-22 1h1m21 0h1"/><path stroke="#55c4bc" d="M0 0m165 87h1m36 0h1m-2 1h1m-4 1h1m7 0h1m-51 1h1m22 0h1m19 0h1m-40 1h1m4 0h1m25 0h1m4 0h1m2 0h1m1 0h1m1 0h1m-51 1h1m2 0h1m9 0h1m15 0h1m12 0h4m4 0h2m-54 1h2m6 0h2m15 0h1m3 0h1m8 0h2m8 0h1m4 0h1m-53 1h3m13 0h1m2 0h1m21 0h1m5 0h1m-51 1h2m6 0h2m3 0h2m9 0h1m13 0h1m2 0h1m2 0h2m-38 1h1m1 0h1m1 0h1m6 0h1m23 0h2m3 0h1m3 0h2m-54 1h1m4 0h2m5 0h1m1 0h2m9 0h1m16 0h1m3 0h1m4 0h1m-53 1h1m3 0h1m1 0h1m7 0h1m2 0h2m15 0h1m9 0h1m3 0h1m1 0h2m5 0h1m-56 1h2m3 0h1m1 0h1m5 0h1m21 0h1m2 0h2m1 0h4m-45 1h1m1 0h1m2 0h2m2 0h1m18 0h1m2 0h1m6 0h1m5 0h2m-48 1h1m15 0h1m12 0h1m9 0h1m2 0h1m3 0h1m1 0h2m-40 1h1m3 0h1m6 0h1m10 0h4m2 0h1m1 0h1m1 0h1m-7 1h1m1 0h1m3 0h1m2 1h2m-45 1h1m13 1h1m11 1h1m13 0h1m-10 1h1m-4 1h1m-7 11h1m0 1h1m2 1h2m-15 9h1m5 3h1m-7 1h2m-2 1h1m5 1h1m-9 1h1m-1 3h1m1 0h1m-8 1h1m12 0h1m-18 3h1m0 1h1m3 0h1m-7 1h1m4 0h1m1 0h1m-6 2h3m-5 1h1m1 0h1m-4 1h1m-5 2h5m1 0h1m-6 1h1m1 0h1m4 0h2m4 0h1m-11 1h1m5 0h1m1 0h1m-12 1h1m0 1h1m2 1h1m7 0h1m-16 1h1m2 0h1m-5 1h2m7 0h1m-8 1h1m-2 1h3m1 0h1m3 0h2m-9 1h1m3 0h2m-1 1h1m1 0h1m-13 1h3m4 0h1m1 0h1m4 0h1m-13 1h1m6 0h1m1 0h1m-5 1h1m1 0h1m-13 1h1m1 0h1m7 0h1m-10 1h2m-5 1h1m12 0h1m3 0h1m-12 1h2m-11 2h2m14 0h1m-18 1h1m11 0h3m1 0h1m-6 1h1m-14 1h3m11 1h1m-16 1h1m-5 1h2m16 0h1m-19 1h1m5 0h1m-9 1h1m18 1h1m-5 1h1m-23 1h1m2 0h1m-8 1h1m3 0h1m20 0h2m-4 1h1m2 0h1m-33 1h1m29 0h1m-32 1h1m1 0h1m1 0h1m21 0h2m1 0h2m-38 1h3m27 0h1m1 0h1m-47 1h2m4 0h1m1 0h1m1 0h1m33 0h2m1 0h2m-82 1h1m4 0h1m13 0h1m8 0h1m7 0h1m5 0h1m4 0h1m8 0h1m-68 1h1m17 0h1m1 0h1m3 0h2m3 0h1m4 0h2m6 0h1m17 0h1m20 0h1m2 0h1m-85 1h1m6 0h3m2 0h1m9 0h1m1 0h1m8 0h1m2 0h1m1 0h1m7 0h1m1 0h1m29 0h1m1 0h2m2 0h1m-80 1h1m4 0h1m1 0h1m2 0h1m1 0h2m2 0h1m1 0h1m2 0h1m2 0h2m18 0h1m4 0h1m10 0h1m2 0h2m1 0h1m-83 1h1m10 0h1m14 0h1m6 0h1m2 0h3m15 0h1m2 0h1m1 0h1m1 0h4m2 0h1m2 0h1m1 0h3m1 0h1m7 0h2m-66 1h1m2 0h1m4 0h1m4 0h1m2 0h1m1 0h1m16 0h1"/><path stroke="#58b040" d="M0 0m199 87h1m-36 3h1m33 0h1m3 0h1m-41 1h2m33 0h1m2 0h1m-8 1h1m-30 1h1m27 0h1m7 0h1m-46 1h1m3 0h1m3 0h1m3 0h1m26 0h1m1 0h1m3 0h1m4 0h1m-47 1h3m2 0h1m4 0h1m19 0h1m2 0h1m2 0h1m-43 1h1m1 0h1m29 0h1m3 0h1m8 0h1m-41 1h2m2 0h1m27 0h1m1 0h1m-42 1h1m9 0h1m22 0h1m2 0h1m1 0h1m5 0h1m-50 1h1m5 0h1m1 0h1m3 0h1m1 0h1m4 0h1m3 0h1m10 0h1m9 0h1m7 0h1m-37 1h1m23 0h2m2 0h1m1 0h1m4 0h1m-46 1h1m28 0h1m6 0h1m-35 1h1m38 0h1m-42 1h1m4 0h1m27 0h1m-5 1h1m7 0h1m-8 1h1m-8 3h1m9 0h1m-30 31h1m-6 6h1m8 3h1m-9 1h1m2 1h1m-5 2h1m-1 1h1m1 0h1m-7 2h1m4 0h1m-5 1h1m3 0h1m-7 1h2m2 0h1m-5 1h3m-1 1h1m2 0h1m-7 1h1m-3 1h1m5 0h1m-9 1h1m7 0h2m-7 1h1m2 0h2m3 0h1m-9 1h1m1 0h2m1 0h1m-5 1h1m2 0h1m1 0h2m-12 1h1m3 0h2m1 0h2m-8 1h1m-4 1h1m1 0h1m4 0h1m2 0h1m1 0h1m-15 1h1m4 0h1m1 0h3m3 0h1m-13 1h2m3 0h1m2 0h2m2 0h1m-14 1h1m8 0h4m-9 1h1m3 0h2m-12 1h1m1 0h1m4 0h2m3 0h2m-15 1h2m8 1h1m1 0h1m-12 1h1m5 0h1m1 0h1m2 0h3m-19 2h1m10 0h2m1 0h1m-6 1h1m1 0h1m-1 1h1m1 0h1m-20 1h1m3 0h1m8 0h2m2 0h2m-22 1h1m2 0h2m14 0h2m-22 1h2m19 0h1m-27 1h1m2 0h1m1 0h1m1 0h1m6 0h1m5 0h1m1 0h1m-27 2h1m5 0h1m-10 1h1m22 0h1m-32 1h1m5 0h1m5 0h1m1 0h1m14 0h1m3 0h1m-45 1h1m3 0h1m8 0h1m-16 1h1m9 0h1m1 0h3m1 0h1m5 0h1m7 0h1m-57 1h1m6 0h1m12 0h1m3 0h1m2 0h1m2 0h2m4 0h1m1 0h1m2 0h1m9 0h1m11 0h1m1 0h1m1 0h1m-97 1h1m4 0h1m9 0h1m13 0h1m5 0h2m3 0h1m6 0h1m1 0h1m3 0h2m7 0h2m1 0h2m8 0h2m14 0h1m3 0h2m-91 1h1m12 0h1m2 0h1m6 0h1m7 0h1m1 0h2m2 0h1m1 0h1m2 0h1m1 0h3m2 0h1m1 0h1m1 0h1m10 0h1m8 0h1m5 0h1m4 0h1m-88 1h2m9 0h1m1 0h1m5 0h1m4 0h1m2 0h1m11 0h3m3 0h2m1 0h2m1 0h1m1 0h1m1 0h1m1 0h2m1 0h1m3 0h2m6 0h1m8 0h3m-78 1h1m7 0h1m3 0h1m10 0h1m6 0h1m2 0h1m2 0h1m3 0h2m2 0h1m11 0h1m6 0h1m7 0h1m-38 1h1m12 0h1m7 0h1"/><path stroke="#a4cc28" d="M0 0m164 92h1m33 1h1m-35 1h1m38 0h1m-5 1h1m-42 1h1m3 0h1m33 0h1m2 0h1m-1 1h1m-41 1h2m29 0h1m-32 1h1m36 0h1m-34 1h1m-8 3h1m33 2h1m-42 46h1m-1 5h1m1 0h1m-7 2h1m3 0h1m-4 1h1m2 0h1m-3 1h2m-3 1h2m2 0h1m-4 1h1m-2 1h1m-2 1h1m2 0h1m-6 1h2m-2 1h1m2 0h1m-5 1h3m-3 1h1m-2 2h1m5 0h1m-11 1h1m5 0h1m-9 1h2m5 0h2m-1 1h2m-10 1h1m1 0h1m3 0h1m-7 1h2m4 0h1m2 0h1m-6 1h1m4 0h1m-16 1h2m1 0h1m2 0h1m6 0h1m-16 1h1m4 0h1m3 0h1m2 0h1m2 0h1m-13 1h1m8 0h1m-15 1h1m11 0h1m1 0h1m-7 1h1m4 0h1m-17 1h1m3 0h1m9 0h2m-20 1h1m4 0h1m2 0h1m4 0h1m-16 1h1m5 0h1m1 0h1m2 0h1m5 0h1m-20 1h1m1 0h1m1 0h1m3 0h1m-12 1h1m2 0h1m2 0h1m10 0h1m1 0h3m2 0h1m-27 1h1m6 0h1m11 0h1m2 0h3m-34 1h1m6 0h1m-15 1h1m2 0h1m5 0h1m1 0h1m1 0h1m1 0h3m2 0h1m4 0h1m1 0h1m7 0h1m1 0h1m-44 1h1m7 0h1m1 0h1m5 0h1m5 0h1m1 0h1m11 0h1m2 0h1m-48 1h1m2 0h2m5 0h1m4 0h1m7 0h3m4 0h1m9 0h2m1 0h1m1 0h1m-67 1h1m11 0h1m1 0h1m3 0h1m2 0h1m2 0h1m3 0h2m1 0h4m2 0h1m5 0h1m2 0h1m7 0h2m1 0h3m1 0h1m4 0h1m-71 1h1m3 0h2m2 0h1m3 0h2m12 0h1m10 0h1m6 0h1m1 0h1m5 0h1m7 0h2m-66 1h1m1 0h1m14 0h1m2 0h2m6 0h1m2 0h1m2 0h1m1 0h1m3 0h1m10 0h2m2 0h1m3 0h1m2 0h2m-40 1h1m11 0h1m21 0h1m-21 1h1"/><path stroke="#f2e51f" d="M0 0m188 94h1m-29 3h1m33 0h1m-32 1h1m-2 1h1m-2 1h1m-19 62h1m-1 1h1m-3 3h1m4 1h1m-1 1h1m-1 1h1m-7 1h1m3 0h1m-1 1h1m-6 1h1m1 0h1m-5 1h1m-2 1h1m5 0h1m-9 1h1m-3 1h2m3 0h1m5 0h1m-7 1h1m2 0h1m-8 1h1m-7 1h2m2 0h2m3 0h2m3 0h1m-14 1h1m-3 1h1m7 0h2m-3 1h1m1 0h1m2 0h1m-11 1h1m4 0h2m1 0h1m-6 1h1m-15 1h1m1 0h1m11 0h1m2 0h1m-23 1h2m12 0h1m-17 1h3m7 0h1m-12 1h2m3 0h1m9 0h1m2 0h1m-25 1h1m3 0h1m9 0h1m7 0h1m-32 1h1m9 0h3m15 0h1m2 0h1m-19 1h2m1 0h1m4 0h1m-41 1h1m7 0h1m14 0h1m10 0h2m3 0h1m3 0h1m-41 1h1m5 0h1m4 0h1m2 0h1m1 0h1m1 0h1m6 0h1m3 0h1m1 0h1m1 0h1m1 0h1m4 0h1m-83 1h1m58 0h2m3 0h1m10 0h1m2 0h1"/><path stroke="#f49a1d" d="M0 0m152 152h1m-10 12h1m2 1h1m-6 3h1m1 0h2m-6 3h1m-2 2h1m-8 2h2m4 0h2m1 0h1m-6 1h2m-1 1h1m1 0h2m1 0h1m-7 1h1m1 0h1m-11 2h1m5 0h2m3 0h1m-11 1h4m-7 1h1m2 0h1m3 0h1m-12 1h1m7 0h1m2 0h1m-13 1h1m9 0h1m-11 1h2m4 0h1m1 0h1m1 0h1m2 0h1m-12 1h1m4 0h1m1 0h1m3 0h1m-20 1h2m1 0h1m5 0h2m0 1h2m-15 1h1m6 0h1m3 0h1m-23 1h1m5 0h1m2 0h1m-18 1h1m6 0h1m11 0h1m5 0h1m2 0h1m-22 1h1m1 0h2m4 0h1m2 0h1m-48 1h1m28 0h1m1 0h1m1 0h1m4 0h1m2 0h1m2 0h1m-6 1h1"/><path stroke="#e4281b" d="M0 0m145 167h1m-4 2h1m4 0h1m-9 1h1m3 0h1m-6 1h1m1 0h1m-4 1h2m0 1h2m-3 1h3m-2 1h1m-2 1h1m-6 1h2m-5 1h2m2 0h1m3 0h1m-10 1h1m3 0h3m-10 1h1m2 0h1m1 0h2m2 0h2m-12 1h1m6 0h1m-6 1h1m1 0h3m2 0h1m-13 1h1m1 0h2m1 0h1m2 0h1m4 0h1m-13 1h1m1 0h2m2 0h1m2 0h1m-10 1h3m1 0h1m1 0h1m2 0h1m-18 1h1m2 0h4m1 0h3m-13 1h1m4 0h2m1 0h2m2 0h3m1 0h1m-18 1h1m2 0h9m5 0h1m-19 1h1m2 0h3m4 0h2m1 0h1m1 0h1m-15 1h4m1 0h5m2 0h1m-20 1h1m7 0h2m1 0h2m-13 1h1m15 0h1m-18 1h1m7 0h1"/></g>
<rect x="518.7" y="1104.2" width="357.4" height="355.6" fill="none" stroke="#000" stroke-width="1.5"/><rect x="710.65" y="1104.2" width="2.5" height="355.6" fill="#000"/><rect x="518.7" y="1253.95" width="357.4" height="2.5" fill="#000"/><path d="M518.8 1459.8v9.5M585.3 1459.8v9.5M654.4 1459.8v9.5M721.5 1459.8v9.5M789.5 1459.8v9.5M858.1 1459.8v9.5" stroke="#000" stroke-width="2.2" fill="none"/><path d="M538.82 1459.8v5.2M550.53 1459.8v5.2M558.84 1459.8v5.2M565.28 1459.8v5.2M570.55 1459.8v5.2M575 1459.8v5.2M578.86 1459.8v5.2M582.26 1459.8v5.2M606.1 1459.8v5.2M618.27 1459.8v5.2M626.9 1459.8v5.2M633.6 1459.8v5.2M639.07 1459.8v5.2M643.7 1459.8v5.2M647.7 1459.8v5.2M651.24 1459.8v5.2M674.6 1459.8v5.2M686.41 1459.8v5.2M694.8 1459.8v5.2M701.3 1459.8v5.2M706.61 1459.8v5.2M711.11 1459.8v5.2M715 1459.8v5.2M718.43 1459.8v5.2M741.97 1459.8v5.2M753.94 1459.8v5.2M762.44 1459.8v5.2M769.03 1459.8v5.2M774.41 1459.8v5.2M778.97 1459.8v5.2M782.91 1459.8v5.2M786.39 1459.8v5.2M810.15 1459.8v5.2M822.23 1459.8v5.2M830.8 1459.8v5.2M837.45 1459.8v5.2M842.88 1459.8v5.2M847.47 1459.8v5.2M851.45 1459.8v5.2M854.96 1459.8v5.2" stroke="#000" stroke-width="1.3" fill="none"/><path d="M518.7 1147.9h-10M518.7 1212.3h-10M518.7 1290.5h-10M518.7 1439.3h-10" stroke="#000" stroke-width="2.2" fill="none"/><path d="M518.7 1104.6h-5.2M518.7 1128.51h-5.2M518.7 1117.17h-5.2M518.7 1109.13h-5.2M518.7 1192.91h-5.2M518.7 1181.57h-5.2M518.7 1173.53h-5.2M518.7 1167.29h-5.2M518.7 1162.19h-5.2M518.7 1157.88h-5.2M518.7 1154.14h-5.2M518.7 1150.85h-5.2M518.7 1266.96h-5.2M518.7 1253.19h-5.2M518.7 1243.42h-5.2M518.7 1235.84h-5.2M518.7 1229.65h-5.2M518.7 1224.41h-5.2M518.7 1219.88h-5.2M518.7 1215.88h-5.2M518.7 1345h-5.2M518.7 1335.5h-5.2M518.7 1326.1h-5.2M518.7 1317.8h-5.2M518.7 1310.7h-5.2M518.7 1304.7h-5.2M518.7 1299.7h-5.2M518.7 1294.9h-5.2M518.7 1386.5h-5.2M518.7 1399.5h-5.2M518.7 1412.6h-5.2M518.7 1422h-5.2M518.7 1428h-5.2M518.7 1432.7h-5.2M518.7 1436.2h-5.2" stroke="#000" stroke-width="1.3" fill="none"/><rect x="513.2" y="1354.7" width="5.5" height="22.5" fill="#000"/><path d="M518.7 1357.7h-10.5M518.7 1362.7h-10.5M518.7 1367.2h-10.5M518.7 1374.7h-10.5" stroke="#000" stroke-width="3" fill="none"/><text transform="translate(481.67 1155.5) scale(0.930 1.035)" font-size="11.7" fill="#000">10</text><text transform="translate(494 1147.5) scale(0.930 1.035)" font-size="11.7" fill="#000">6</text><text transform="translate(481.67 1219.9) scale(0.930 1.035)" font-size="11.7" fill="#000">10</text><text transform="translate(494.11 1211.9) scale(0.930 1.035)" font-size="11.7" fill="#000">5</text><text transform="translate(481.67 1298.1) scale(0.930 1.035)" font-size="11.7" fill="#000">10</text><text transform="translate(494.3 1290.1) scale(0.930 1.035)" font-size="11.7" fill="#000">4</text><text transform="translate(487.37 1368.6) scale(0.930 1.035)" font-size="11.7" fill="#000">0</text><text transform="translate(474.12 1447.6) scale(0.930 1.035)" font-size="11.7" fill="#000">-10</text><text transform="translate(491.57 1439.6) scale(0.930 1.035)" font-size="11.7" fill="#000">4</text><text transform="translate(525.57 1489.4) scale(0.930 1.035)" font-size="11.7" fill="#000">10</text><text transform="translate(537.9 1485.5) scale(0.930 1.035)" font-size="11.7" fill="#000">2</text><text transform="translate(587.07 1489.4) scale(0.930 1.035)" font-size="11.7" fill="#000">10</text><text transform="translate(599.53 1485.5) scale(0.930 1.035)" font-size="11.7" fill="#000">3</text><text transform="translate(655.67 1489.4) scale(0.930 1.035)" font-size="11.7" fill="#000">10</text><text transform="translate(668.3 1485.5) scale(0.930 1.035)" font-size="11.7" fill="#000">4</text><text transform="translate(722.17 1489.4) scale(0.930 1.035)" font-size="11.7" fill="#000">10</text><text transform="translate(734.61 1485.5) scale(0.930 1.035)" font-size="11.7" fill="#000">5</text><text transform="translate(790.77 1489.4) scale(0.930 1.035)" font-size="11.7" fill="#000">10</text><text transform="translate(803.1 1485.5) scale(0.930 1.035)" font-size="11.7" fill="#000">6</text><text transform="translate(855.17 1489.4) scale(0.930 1.035)" font-size="11.7" fill="#000">10</text><text transform="translate(867.49 1485.5) scale(0.930 1.035)" font-size="11.7" fill="#000">7</text><text transform="translate(523.61 1132.2) scale(1.000 1.035)" font-size="14.6" fill="#000">Q1</text><text transform="translate(523.19 1154.2) scale(1.000 1.035)" font-size="14.6" fill="#000">1.94</text><text transform="translate(826.16 1132.2) scale(1.000 1.035)" font-size="14.6" fill="#000">Q2</text><text transform="translate(817.02 1154.2) scale(1.000 1.035)" font-size="14.6" fill="#000">30.2</text><text transform="translate(826.07 1418) scale(1.000 1.035)" font-size="14.6" fill="#000">Q3</text><text transform="translate(816.93 1440.3) scale(1.000 1.035)" font-size="14.6" fill="#000">24.3</text><text transform="translate(523.61 1418) scale(1.000 1.035)" font-size="14.6" fill="#000">Q4</text><text transform="translate(523.96 1440.3) scale(1.000 1.035)" font-size="14.6" fill="#000">43.5</text>
</svg>
</body></html>
